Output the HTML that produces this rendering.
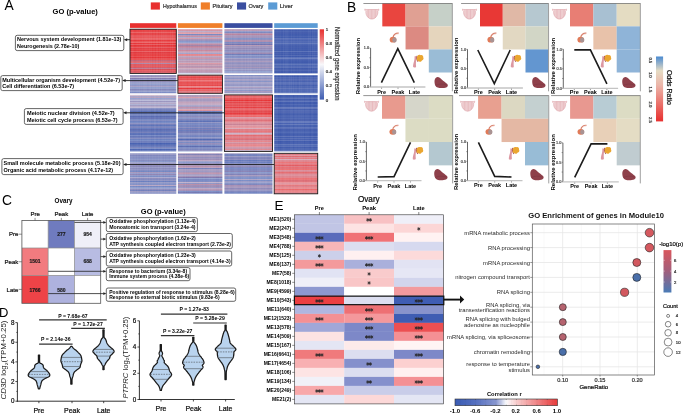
<!DOCTYPE html>
<html><head><meta charset="utf-8"><style>
html,body{margin:0;padding:0;background:#fff;}
body{width:685px;height:413px;overflow:hidden;}
svg{display:block;font-family:"Liberation Sans",sans-serif;will-change:transform;}
</style></head><body>
<svg width="685" height="413" viewBox="0 0 685 413">
<rect width="685" height="413" fill="#fff"/>
<text x="4.60" y="9.90" font-size="13.8" text-anchor="start">A</text>
<text x="52.60" y="13.80" font-size="7.6" text-anchor="start" font-weight="bold" textLength="45.3" lengthAdjust="spacingAndGlyphs">GO (p-value)</text>
<rect x="150.80" y="2.40" width="9.10" height="7.20" fill="#e8302f"/>
<text x="163.00" y="8.40" font-size="5.6" text-anchor="start" stroke="#333" stroke-width="0.22" fill="#333" textLength="33.8" lengthAdjust="spacingAndGlyphs">Hypothalamus</text>
<rect x="200.80" y="2.40" width="9.10" height="7.20" fill="#f07f2a"/>
<text x="212.60" y="8.40" font-size="5.6" text-anchor="start" stroke="#333" stroke-width="0.22" fill="#333" textLength="19.9" lengthAdjust="spacingAndGlyphs">Pituitary</text>
<rect x="237.00" y="2.40" width="9.10" height="7.20" fill="#3a4ea0"/>
<text x="248.60" y="8.40" font-size="5.6" text-anchor="start" stroke="#333" stroke-width="0.22" fill="#333" textLength="14.8" lengthAdjust="spacingAndGlyphs">Ovary</text>
<rect x="268.20" y="2.40" width="9.10" height="7.20" fill="#5b9bd5"/>
<text x="279.80" y="8.40" font-size="5.6" text-anchor="start" stroke="#333" stroke-width="0.22" fill="#333" textLength="12.9" lengthAdjust="spacingAndGlyphs">Liver</text>
<rect x="130.00" y="23.20" width="46.30" height="4.70" fill="#e8302f"/>
<rect x="177.90" y="23.20" width="44.50" height="4.70" fill="#f07f2a"/>
<rect x="224.40" y="23.20" width="48.10" height="4.70" fill="#3a4ea0"/>
<rect x="274.20" y="23.20" width="43.50" height="4.70" fill="#5b9bd5"/>
<defs><linearGradient id="hg1" x1="0" y1="0" x2="0" y2="1"><stop offset="0.0000" stop-color="#e54245"/><stop offset="0.0135" stop-color="#e54245"/><stop offset="0.0135" stop-color="#e7585c"/><stop offset="0.0270" stop-color="#e7585c"/><stop offset="0.0270" stop-color="#e73f41"/><stop offset="0.0405" stop-color="#e73f41"/><stop offset="0.0405" stop-color="#e64245"/><stop offset="0.0541" stop-color="#e64245"/><stop offset="0.0541" stop-color="#e34347"/><stop offset="0.0676" stop-color="#e34347"/><stop offset="0.0676" stop-color="#e96264"/><stop offset="0.0811" stop-color="#e96264"/><stop offset="0.0811" stop-color="#e65357"/><stop offset="0.0946" stop-color="#e65357"/><stop offset="0.0946" stop-color="#e54144"/><stop offset="0.1081" stop-color="#e54144"/><stop offset="0.1081" stop-color="#e64245"/><stop offset="0.1216" stop-color="#e64245"/><stop offset="0.1216" stop-color="#e73d3f"/><stop offset="0.1351" stop-color="#e73d3f"/><stop offset="0.1351" stop-color="#e6565a"/><stop offset="0.1486" stop-color="#e6565a"/><stop offset="0.1486" stop-color="#e54043"/><stop offset="0.1622" stop-color="#e54043"/><stop offset="0.1622" stop-color="#e7595d"/><stop offset="0.1757" stop-color="#e7595d"/><stop offset="0.1757" stop-color="#e95355"/><stop offset="0.1892" stop-color="#e95355"/><stop offset="0.1892" stop-color="#e95f62"/><stop offset="0.2027" stop-color="#e95f62"/><stop offset="0.2027" stop-color="#eb6668"/><stop offset="0.2162" stop-color="#eb6668"/><stop offset="0.2162" stop-color="#e85659"/><stop offset="0.2297" stop-color="#e85659"/><stop offset="0.2297" stop-color="#e96063"/><stop offset="0.2432" stop-color="#e96063"/><stop offset="0.2432" stop-color="#e6383b"/><stop offset="0.2568" stop-color="#e6383b"/><stop offset="0.2568" stop-color="#e64649"/><stop offset="0.2703" stop-color="#e64649"/><stop offset="0.2703" stop-color="#e85153"/><stop offset="0.2838" stop-color="#e85153"/><stop offset="0.2838" stop-color="#e55b60"/><stop offset="0.2973" stop-color="#e55b60"/><stop offset="0.2973" stop-color="#eb6668"/><stop offset="0.3108" stop-color="#eb6668"/><stop offset="0.3108" stop-color="#e53538"/><stop offset="0.3243" stop-color="#e53538"/><stop offset="0.3243" stop-color="#e77579"/><stop offset="0.3378" stop-color="#e77579"/><stop offset="0.3378" stop-color="#e75d61"/><stop offset="0.3514" stop-color="#e75d61"/><stop offset="0.3514" stop-color="#e84345"/><stop offset="0.3649" stop-color="#e84345"/><stop offset="0.3649" stop-color="#e53437"/><stop offset="0.3784" stop-color="#e53437"/><stop offset="0.3784" stop-color="#e63f41"/><stop offset="0.3919" stop-color="#e63f41"/><stop offset="0.3919" stop-color="#e63739"/><stop offset="0.4054" stop-color="#e63739"/><stop offset="0.4054" stop-color="#e55a5f"/><stop offset="0.4189" stop-color="#e55a5f"/><stop offset="0.4189" stop-color="#e55357"/><stop offset="0.4324" stop-color="#e55357"/><stop offset="0.4324" stop-color="#e33c40"/><stop offset="0.4459" stop-color="#e33c40"/><stop offset="0.4459" stop-color="#e64548"/><stop offset="0.4595" stop-color="#e64548"/><stop offset="0.4595" stop-color="#e4373a"/><stop offset="0.4730" stop-color="#e4373a"/><stop offset="0.4730" stop-color="#e43b3e"/><stop offset="0.4865" stop-color="#e43b3e"/><stop offset="0.4865" stop-color="#e53f42"/><stop offset="0.5000" stop-color="#e53f42"/><stop offset="0.5000" stop-color="#e86063"/><stop offset="0.5135" stop-color="#e86063"/><stop offset="0.5135" stop-color="#e74f52"/><stop offset="0.5270" stop-color="#e74f52"/><stop offset="0.5270" stop-color="#e1393e"/><stop offset="0.5405" stop-color="#e1393e"/><stop offset="0.5405" stop-color="#e54347"/><stop offset="0.5541" stop-color="#e54347"/><stop offset="0.5541" stop-color="#e74143"/><stop offset="0.5676" stop-color="#e74143"/><stop offset="0.5676" stop-color="#e64043"/><stop offset="0.5811" stop-color="#e64043"/><stop offset="0.5811" stop-color="#e63f42"/><stop offset="0.5946" stop-color="#e63f42"/><stop offset="0.5946" stop-color="#e73e40"/><stop offset="0.6081" stop-color="#e73e40"/><stop offset="0.6081" stop-color="#e74f51"/><stop offset="0.6216" stop-color="#e74f51"/><stop offset="0.6216" stop-color="#e53b3e"/><stop offset="0.6351" stop-color="#e53b3e"/><stop offset="0.6351" stop-color="#e43437"/><stop offset="0.6486" stop-color="#e43437"/><stop offset="0.6486" stop-color="#e44a4e"/><stop offset="0.6622" stop-color="#e44a4e"/><stop offset="0.6622" stop-color="#e84f52"/><stop offset="0.6757" stop-color="#e84f52"/><stop offset="0.6757" stop-color="#e85153"/><stop offset="0.6892" stop-color="#e85153"/><stop offset="0.6892" stop-color="#e85153"/><stop offset="0.7027" stop-color="#e85153"/><stop offset="0.7027" stop-color="#c56276"/><stop offset="0.7162" stop-color="#c56276"/><stop offset="0.7162" stop-color="#c96375"/><stop offset="0.7297" stop-color="#c96375"/><stop offset="0.7297" stop-color="#d86570"/><stop offset="0.7432" stop-color="#d86570"/><stop offset="0.7432" stop-color="#e4696e"/><stop offset="0.7568" stop-color="#e4696e"/><stop offset="0.7568" stop-color="#d86f7b"/><stop offset="0.7703" stop-color="#d86f7b"/><stop offset="0.7703" stop-color="#ae86a7"/><stop offset="0.7838" stop-color="#ae86a7"/><stop offset="0.7838" stop-color="#de727b"/><stop offset="0.7973" stop-color="#de727b"/><stop offset="0.7973" stop-color="#e0585f"/><stop offset="0.8108" stop-color="#e0585f"/><stop offset="0.8108" stop-color="#dc5b63"/><stop offset="0.8243" stop-color="#dc5b63"/><stop offset="0.8243" stop-color="#e14146"/><stop offset="0.8378" stop-color="#e14146"/><stop offset="0.8378" stop-color="#ea585a"/><stop offset="0.8514" stop-color="#ea585a"/><stop offset="0.8514" stop-color="#d7717d"/><stop offset="0.8649" stop-color="#d7717d"/><stop offset="0.8649" stop-color="#d05a68"/><stop offset="0.8784" stop-color="#d05a68"/><stop offset="0.8784" stop-color="#c07990"/><stop offset="0.8919" stop-color="#c07990"/><stop offset="0.8919" stop-color="#d7909d"/><stop offset="0.9054" stop-color="#d7909d"/><stop offset="0.9054" stop-color="#d74b55"/><stop offset="0.9189" stop-color="#d74b55"/><stop offset="0.9189" stop-color="#da7a85"/><stop offset="0.9324" stop-color="#da7a85"/><stop offset="0.9324" stop-color="#e75e62"/><stop offset="0.9459" stop-color="#e75e62"/><stop offset="0.9459" stop-color="#d95761"/><stop offset="0.9595" stop-color="#d95761"/><stop offset="0.9595" stop-color="#e15359"/><stop offset="0.9730" stop-color="#e15359"/><stop offset="0.9730" stop-color="#de646c"/><stop offset="0.9865" stop-color="#de646c"/><stop offset="0.9865" stop-color="#d67b88"/><stop offset="1.0000" stop-color="#d67b88"/></linearGradient></defs>
<rect x="130.00" y="29.20" width="46.30" height="44.20" fill="url(#hg1)"/>
<defs><linearGradient id="hg2" x1="0" y1="0" x2="0" y2="1"><stop offset="0.0000" stop-color="#d797a5"/><stop offset="0.0135" stop-color="#d797a5"/><stop offset="0.0135" stop-color="#d197a8"/><stop offset="0.0270" stop-color="#d197a8"/><stop offset="0.0270" stop-color="#d193a4"/><stop offset="0.0405" stop-color="#d193a4"/><stop offset="0.0405" stop-color="#bcacc8"/><stop offset="0.0541" stop-color="#bcacc8"/><stop offset="0.0541" stop-color="#c29eb7"/><stop offset="0.0676" stop-color="#c29eb7"/><stop offset="0.0676" stop-color="#d49eae"/><stop offset="0.0811" stop-color="#d49eae"/><stop offset="0.0811" stop-color="#c69eb4"/><stop offset="0.0946" stop-color="#c69eb4"/><stop offset="0.0946" stop-color="#e1a2ab"/><stop offset="0.1081" stop-color="#e1a2ab"/><stop offset="0.1081" stop-color="#7787c1"/><stop offset="0.1216" stop-color="#7787c1"/><stop offset="0.1216" stop-color="#d3a5b6"/><stop offset="0.1351" stop-color="#d3a5b6"/><stop offset="0.1351" stop-color="#b296b6"/><stop offset="0.1486" stop-color="#b296b6"/><stop offset="0.1486" stop-color="#bf8ca4"/><stop offset="0.1622" stop-color="#bf8ca4"/><stop offset="0.1622" stop-color="#c48fa5"/><stop offset="0.1757" stop-color="#c48fa5"/><stop offset="0.1757" stop-color="#aeaacc"/><stop offset="0.1892" stop-color="#aeaacc"/><stop offset="0.1892" stop-color="#a6aad0"/><stop offset="0.2027" stop-color="#a6aad0"/><stop offset="0.2027" stop-color="#d09cae"/><stop offset="0.2162" stop-color="#d09cae"/><stop offset="0.2162" stop-color="#b399b7"/><stop offset="0.2297" stop-color="#b399b7"/><stop offset="0.2297" stop-color="#a792b6"/><stop offset="0.2432" stop-color="#a792b6"/><stop offset="0.2432" stop-color="#9790bc"/><stop offset="0.2568" stop-color="#9790bc"/><stop offset="0.2568" stop-color="#bca5c0"/><stop offset="0.2703" stop-color="#bca5c0"/><stop offset="0.2703" stop-color="#8696ca"/><stop offset="0.2838" stop-color="#8696ca"/><stop offset="0.2838" stop-color="#8e9acb"/><stop offset="0.2973" stop-color="#8e9acb"/><stop offset="0.2973" stop-color="#94a2d0"/><stop offset="0.3108" stop-color="#94a2d0"/><stop offset="0.3108" stop-color="#b89dba"/><stop offset="0.3243" stop-color="#b89dba"/><stop offset="0.3243" stop-color="#d19dae"/><stop offset="0.3378" stop-color="#d19dae"/><stop offset="0.3378" stop-color="#bc8aa4"/><stop offset="0.3514" stop-color="#bc8aa4"/><stop offset="0.3514" stop-color="#cb8a9c"/><stop offset="0.3649" stop-color="#cb8a9c"/><stop offset="0.3649" stop-color="#9e82a9"/><stop offset="0.3784" stop-color="#9e82a9"/><stop offset="0.3784" stop-color="#bc7f98"/><stop offset="0.3919" stop-color="#bc7f98"/><stop offset="0.3919" stop-color="#c7869b"/><stop offset="0.4054" stop-color="#c7869b"/><stop offset="0.4054" stop-color="#c08ca4"/><stop offset="0.4189" stop-color="#c08ca4"/><stop offset="0.4189" stop-color="#c09eb7"/><stop offset="0.4324" stop-color="#c09eb7"/><stop offset="0.4324" stop-color="#b294b4"/><stop offset="0.4459" stop-color="#b294b4"/><stop offset="0.4459" stop-color="#b496b5"/><stop offset="0.4595" stop-color="#b496b5"/><stop offset="0.4595" stop-color="#c7b9d0"/><stop offset="0.4730" stop-color="#c7b9d0"/><stop offset="0.4730" stop-color="#c7879c"/><stop offset="0.4865" stop-color="#c7879c"/><stop offset="0.4865" stop-color="#d29dae"/><stop offset="0.5000" stop-color="#d29dae"/><stop offset="0.5000" stop-color="#c89db2"/><stop offset="0.5135" stop-color="#c89db2"/><stop offset="0.5135" stop-color="#97a2cf"/><stop offset="0.5270" stop-color="#97a2cf"/><stop offset="0.5270" stop-color="#bfa6c0"/><stop offset="0.5405" stop-color="#bfa6c0"/><stop offset="0.5405" stop-color="#a1a2ca"/><stop offset="0.5541" stop-color="#a1a2ca"/><stop offset="0.5541" stop-color="#b897b3"/><stop offset="0.5676" stop-color="#b897b3"/><stop offset="0.5676" stop-color="#e5858c"/><stop offset="0.5811" stop-color="#e5858c"/><stop offset="0.5811" stop-color="#aba4c7"/><stop offset="0.5946" stop-color="#aba4c7"/><stop offset="0.5946" stop-color="#df8a94"/><stop offset="0.6081" stop-color="#df8a94"/><stop offset="0.6081" stop-color="#bda6c1"/><stop offset="0.6216" stop-color="#bda6c1"/><stop offset="0.6216" stop-color="#b391b0"/><stop offset="0.6351" stop-color="#b391b0"/><stop offset="0.6351" stop-color="#bb9ab5"/><stop offset="0.6486" stop-color="#bb9ab5"/><stop offset="0.6486" stop-color="#c695ab"/><stop offset="0.6622" stop-color="#c695ab"/><stop offset="0.6622" stop-color="#c794a9"/><stop offset="0.6757" stop-color="#c794a9"/><stop offset="0.6757" stop-color="#ad9bbd"/><stop offset="0.6892" stop-color="#ad9bbd"/><stop offset="0.6892" stop-color="#c09bb4"/><stop offset="0.7027" stop-color="#c09bb4"/><stop offset="0.7027" stop-color="#bda6c1"/><stop offset="0.7162" stop-color="#bda6c1"/><stop offset="0.7162" stop-color="#d093a4"/><stop offset="0.7297" stop-color="#d093a4"/><stop offset="0.7297" stop-color="#b897b3"/><stop offset="0.7432" stop-color="#b897b3"/><stop offset="0.7432" stop-color="#c3a6be"/><stop offset="0.7568" stop-color="#c3a6be"/><stop offset="0.7568" stop-color="#989bc6"/><stop offset="0.7703" stop-color="#989bc6"/><stop offset="0.7703" stop-color="#d998a5"/><stop offset="0.7838" stop-color="#d998a5"/><stop offset="0.7838" stop-color="#b09ebf"/><stop offset="0.7973" stop-color="#b09ebf"/><stop offset="0.7973" stop-color="#c393aa"/><stop offset="0.8108" stop-color="#c393aa"/><stop offset="0.8108" stop-color="#c8a2b7"/><stop offset="0.8243" stop-color="#c8a2b7"/><stop offset="0.8243" stop-color="#c9899d"/><stop offset="0.8378" stop-color="#c9899d"/><stop offset="0.8378" stop-color="#b593b1"/><stop offset="0.8514" stop-color="#b593b1"/><stop offset="0.8514" stop-color="#d595a4"/><stop offset="0.8649" stop-color="#d595a4"/><stop offset="0.8649" stop-color="#c094ac"/><stop offset="0.8784" stop-color="#c094ac"/><stop offset="0.8784" stop-color="#ceaec1"/><stop offset="0.8919" stop-color="#ceaec1"/><stop offset="0.8919" stop-color="#bc9eb8"/><stop offset="0.9054" stop-color="#bc9eb8"/><stop offset="0.9054" stop-color="#bea4be"/><stop offset="0.9189" stop-color="#bea4be"/><stop offset="0.9189" stop-color="#c795aa"/><stop offset="0.9324" stop-color="#c795aa"/><stop offset="0.9324" stop-color="#bf98b1"/><stop offset="0.9459" stop-color="#bf98b1"/><stop offset="0.9459" stop-color="#bd98b2"/><stop offset="0.9595" stop-color="#bd98b2"/><stop offset="0.9595" stop-color="#c7a0b6"/><stop offset="0.9730" stop-color="#c7a0b6"/><stop offset="0.9730" stop-color="#b9a2be"/><stop offset="0.9865" stop-color="#b9a2be"/><stop offset="0.9865" stop-color="#99a6d1"/><stop offset="1.0000" stop-color="#99a6d1"/></linearGradient></defs>
<rect x="177.90" y="29.20" width="44.50" height="44.20" fill="url(#hg2)"/>
<defs><linearGradient id="hg3" x1="0" y1="0" x2="0" y2="1"><stop offset="0.0000" stop-color="#af92b2"/><stop offset="0.0135" stop-color="#af92b2"/><stop offset="0.0135" stop-color="#9694c0"/><stop offset="0.0270" stop-color="#9694c0"/><stop offset="0.0270" stop-color="#b999b5"/><stop offset="0.0405" stop-color="#b999b5"/><stop offset="0.0405" stop-color="#969cc9"/><stop offset="0.0541" stop-color="#969cc9"/><stop offset="0.0541" stop-color="#9199c9"/><stop offset="0.0676" stop-color="#9199c9"/><stop offset="0.0676" stop-color="#7b88c0"/><stop offset="0.0811" stop-color="#7b88c0"/><stop offset="0.0811" stop-color="#9e98c1"/><stop offset="0.0946" stop-color="#9e98c1"/><stop offset="0.0946" stop-color="#b295b4"/><stop offset="0.1081" stop-color="#b295b4"/><stop offset="0.1081" stop-color="#b7829e"/><stop offset="0.1216" stop-color="#b7829e"/><stop offset="0.1216" stop-color="#948dba"/><stop offset="0.1351" stop-color="#948dba"/><stop offset="0.1351" stop-color="#ab97b9"/><stop offset="0.1486" stop-color="#ab97b9"/><stop offset="0.1486" stop-color="#8d94c5"/><stop offset="0.1622" stop-color="#8d94c5"/><stop offset="0.1622" stop-color="#a494ba"/><stop offset="0.1757" stop-color="#a494ba"/><stop offset="0.1757" stop-color="#9f93bc"/><stop offset="0.1892" stop-color="#9f93bc"/><stop offset="0.1892" stop-color="#a595ba"/><stop offset="0.2027" stop-color="#a595ba"/><stop offset="0.2027" stop-color="#8192c8"/><stop offset="0.2162" stop-color="#8192c8"/><stop offset="0.2162" stop-color="#9093c2"/><stop offset="0.2297" stop-color="#9093c2"/><stop offset="0.2297" stop-color="#8c8fc0"/><stop offset="0.2432" stop-color="#8c8fc0"/><stop offset="0.2432" stop-color="#ae8faf"/><stop offset="0.2568" stop-color="#ae8faf"/><stop offset="0.2568" stop-color="#9892bd"/><stop offset="0.2703" stop-color="#9892bd"/><stop offset="0.2703" stop-color="#ae8cad"/><stop offset="0.2838" stop-color="#ae8cad"/><stop offset="0.2838" stop-color="#878bbe"/><stop offset="0.2973" stop-color="#878bbe"/><stop offset="0.2973" stop-color="#7a89c2"/><stop offset="0.3108" stop-color="#7a89c2"/><stop offset="0.3108" stop-color="#8a8abb"/><stop offset="0.3243" stop-color="#8a8abb"/><stop offset="0.3243" stop-color="#b39cbb"/><stop offset="0.3378" stop-color="#b39cbb"/><stop offset="0.3378" stop-color="#7173b0"/><stop offset="0.3514" stop-color="#7173b0"/><stop offset="0.3514" stop-color="#8e96c6"/><stop offset="0.3649" stop-color="#8e96c6"/><stop offset="0.3649" stop-color="#b599b7"/><stop offset="0.3784" stop-color="#b599b7"/><stop offset="0.3784" stop-color="#9c92bb"/><stop offset="0.3919" stop-color="#9c92bb"/><stop offset="0.3919" stop-color="#7e82b9"/><stop offset="0.4054" stop-color="#7e82b9"/><stop offset="0.4054" stop-color="#9f97bf"/><stop offset="0.4189" stop-color="#9f97bf"/><stop offset="0.4189" stop-color="#a792b7"/><stop offset="0.4324" stop-color="#a792b7"/><stop offset="0.4324" stop-color="#9288b6"/><stop offset="0.4459" stop-color="#9288b6"/><stop offset="0.4459" stop-color="#9a95c0"/><stop offset="0.4595" stop-color="#9a95c0"/><stop offset="0.4595" stop-color="#9ca1cb"/><stop offset="0.4730" stop-color="#9ca1cb"/><stop offset="0.4730" stop-color="#898abc"/><stop offset="0.4865" stop-color="#898abc"/><stop offset="0.4865" stop-color="#a69abf"/><stop offset="0.5000" stop-color="#a69abf"/><stop offset="0.5000" stop-color="#9298c7"/><stop offset="0.5135" stop-color="#9298c7"/><stop offset="0.5135" stop-color="#968ab6"/><stop offset="0.5270" stop-color="#968ab6"/><stop offset="0.5270" stop-color="#9b93bd"/><stop offset="0.5405" stop-color="#9b93bd"/><stop offset="0.5405" stop-color="#9986b0"/><stop offset="0.5541" stop-color="#9986b0"/><stop offset="0.5541" stop-color="#b097b8"/><stop offset="0.5676" stop-color="#b097b8"/><stop offset="0.5676" stop-color="#6e7bb9"/><stop offset="0.5811" stop-color="#6e7bb9"/><stop offset="0.5811" stop-color="#957fab"/><stop offset="0.5946" stop-color="#957fab"/><stop offset="0.5946" stop-color="#8e9dce"/><stop offset="0.6081" stop-color="#8e9dce"/><stop offset="0.6081" stop-color="#848cc0"/><stop offset="0.6216" stop-color="#848cc0"/><stop offset="0.6216" stop-color="#8d92c2"/><stop offset="0.6351" stop-color="#8d92c2"/><stop offset="0.6351" stop-color="#8292c8"/><stop offset="0.6486" stop-color="#8292c8"/><stop offset="0.6486" stop-color="#8887b9"/><stop offset="0.6622" stop-color="#8887b9"/><stop offset="0.6622" stop-color="#a4a1c8"/><stop offset="0.6757" stop-color="#a4a1c8"/><stop offset="0.6757" stop-color="#918cba"/><stop offset="0.6892" stop-color="#918cba"/><stop offset="0.6892" stop-color="#818cc2"/><stop offset="0.7027" stop-color="#818cc2"/><stop offset="0.7027" stop-color="#9894bf"/><stop offset="0.7162" stop-color="#9894bf"/><stop offset="0.7162" stop-color="#a795b9"/><stop offset="0.7297" stop-color="#a795b9"/><stop offset="0.7297" stop-color="#ab9abd"/><stop offset="0.7432" stop-color="#ab9abd"/><stop offset="0.7432" stop-color="#9593c0"/><stop offset="0.7568" stop-color="#9593c0"/><stop offset="0.7568" stop-color="#8c8fc0"/><stop offset="0.7703" stop-color="#8c8fc0"/><stop offset="0.7703" stop-color="#8d8ebe"/><stop offset="0.7838" stop-color="#8d8ebe"/><stop offset="0.7838" stop-color="#8186bc"/><stop offset="0.7973" stop-color="#8186bc"/><stop offset="0.7973" stop-color="#9d98c2"/><stop offset="0.8108" stop-color="#9d98c2"/><stop offset="0.8108" stop-color="#9c94bd"/><stop offset="0.8243" stop-color="#9c94bd"/><stop offset="0.8243" stop-color="#8d92c3"/><stop offset="0.8378" stop-color="#8d92c3"/><stop offset="0.8378" stop-color="#9290be"/><stop offset="0.8514" stop-color="#9290be"/><stop offset="0.8514" stop-color="#9e99c2"/><stop offset="0.8649" stop-color="#9e99c2"/><stop offset="0.8649" stop-color="#a595ba"/><stop offset="0.8784" stop-color="#a595ba"/><stop offset="0.8784" stop-color="#9090bf"/><stop offset="0.8919" stop-color="#9090bf"/><stop offset="0.8919" stop-color="#9892be"/><stop offset="0.9054" stop-color="#9892be"/><stop offset="0.9054" stop-color="#a1a3cb"/><stop offset="0.9189" stop-color="#a1a3cb"/><stop offset="0.9189" stop-color="#a29ec5"/><stop offset="0.9324" stop-color="#a29ec5"/><stop offset="0.9324" stop-color="#9192c1"/><stop offset="0.9459" stop-color="#9192c1"/><stop offset="0.9459" stop-color="#93a2d0"/><stop offset="0.9595" stop-color="#93a2d0"/><stop offset="0.9595" stop-color="#7581bc"/><stop offset="0.9730" stop-color="#7581bc"/><stop offset="0.9730" stop-color="#99a3cf"/><stop offset="0.9865" stop-color="#99a3cf"/><stop offset="0.9865" stop-color="#aea6c8"/><stop offset="1.0000" stop-color="#aea6c8"/></linearGradient></defs>
<rect x="224.40" y="29.20" width="48.10" height="44.20" fill="url(#hg3)"/>
<defs><linearGradient id="hg4" x1="0" y1="0" x2="0" y2="1"><stop offset="0.0000" stop-color="#4a63b1"/><stop offset="0.0135" stop-color="#4a63b1"/><stop offset="0.0135" stop-color="#425cae"/><stop offset="0.0270" stop-color="#425cae"/><stop offset="0.0270" stop-color="#415bad"/><stop offset="0.0405" stop-color="#415bad"/><stop offset="0.0405" stop-color="#4a63b1"/><stop offset="0.0541" stop-color="#4a63b1"/><stop offset="0.0541" stop-color="#3f5aad"/><stop offset="0.0676" stop-color="#3f5aad"/><stop offset="0.0676" stop-color="#445cad"/><stop offset="0.0811" stop-color="#445cad"/><stop offset="0.0811" stop-color="#4861b0"/><stop offset="0.0946" stop-color="#4861b0"/><stop offset="0.0946" stop-color="#425bad"/><stop offset="0.1081" stop-color="#425bad"/><stop offset="0.1081" stop-color="#3f5aad"/><stop offset="0.1216" stop-color="#3f5aad"/><stop offset="0.1216" stop-color="#4962b1"/><stop offset="0.1351" stop-color="#4962b1"/><stop offset="0.1351" stop-color="#405cae"/><stop offset="0.1486" stop-color="#405cae"/><stop offset="0.1486" stop-color="#5269b4"/><stop offset="0.1622" stop-color="#5269b4"/><stop offset="0.1622" stop-color="#4a63b1"/><stop offset="0.1757" stop-color="#4a63b1"/><stop offset="0.1757" stop-color="#3f5bad"/><stop offset="0.1892" stop-color="#3f5bad"/><stop offset="0.1892" stop-color="#4b63b1"/><stop offset="0.2027" stop-color="#4b63b1"/><stop offset="0.2027" stop-color="#5a71b8"/><stop offset="0.2162" stop-color="#5a71b8"/><stop offset="0.2162" stop-color="#3d59ac"/><stop offset="0.2297" stop-color="#3d59ac"/><stop offset="0.2297" stop-color="#536ab5"/><stop offset="0.2432" stop-color="#536ab5"/><stop offset="0.2432" stop-color="#4963b1"/><stop offset="0.2568" stop-color="#4963b1"/><stop offset="0.2568" stop-color="#6d80be"/><stop offset="0.2703" stop-color="#6d80be"/><stop offset="0.2703" stop-color="#526ab4"/><stop offset="0.2838" stop-color="#526ab4"/><stop offset="0.2838" stop-color="#415bac"/><stop offset="0.2973" stop-color="#415bac"/><stop offset="0.2973" stop-color="#4e67b3"/><stop offset="0.3108" stop-color="#4e67b3"/><stop offset="0.3108" stop-color="#6278bb"/><stop offset="0.3243" stop-color="#6278bb"/><stop offset="0.3243" stop-color="#405aad"/><stop offset="0.3378" stop-color="#405aad"/><stop offset="0.3378" stop-color="#4a64b2"/><stop offset="0.3514" stop-color="#4a64b2"/><stop offset="0.3514" stop-color="#415bad"/><stop offset="0.3649" stop-color="#415bad"/><stop offset="0.3649" stop-color="#455eae"/><stop offset="0.3784" stop-color="#455eae"/><stop offset="0.3784" stop-color="#425cad"/><stop offset="0.3919" stop-color="#425cad"/><stop offset="0.3919" stop-color="#455eae"/><stop offset="0.4054" stop-color="#455eae"/><stop offset="0.4054" stop-color="#445dad"/><stop offset="0.4189" stop-color="#445dad"/><stop offset="0.4189" stop-color="#566cb4"/><stop offset="0.4324" stop-color="#566cb4"/><stop offset="0.4324" stop-color="#405bad"/><stop offset="0.4459" stop-color="#405bad"/><stop offset="0.4459" stop-color="#435dad"/><stop offset="0.4595" stop-color="#435dad"/><stop offset="0.4595" stop-color="#4f67b3"/><stop offset="0.4730" stop-color="#4f67b3"/><stop offset="0.4730" stop-color="#3e5aac"/><stop offset="0.4865" stop-color="#3e5aac"/><stop offset="0.4865" stop-color="#566db6"/><stop offset="0.5000" stop-color="#566db6"/><stop offset="0.5000" stop-color="#5a71b8"/><stop offset="0.5135" stop-color="#5a71b8"/><stop offset="0.5135" stop-color="#5b72b8"/><stop offset="0.5270" stop-color="#5b72b8"/><stop offset="0.5270" stop-color="#405aac"/><stop offset="0.5405" stop-color="#405aac"/><stop offset="0.5405" stop-color="#465faf"/><stop offset="0.5541" stop-color="#465faf"/><stop offset="0.5541" stop-color="#445cac"/><stop offset="0.5676" stop-color="#445cac"/><stop offset="0.5676" stop-color="#3e59ac"/><stop offset="0.5811" stop-color="#3e59ac"/><stop offset="0.5811" stop-color="#425bad"/><stop offset="0.5946" stop-color="#425bad"/><stop offset="0.5946" stop-color="#5169b4"/><stop offset="0.6081" stop-color="#5169b4"/><stop offset="0.6081" stop-color="#3c58ac"/><stop offset="0.6216" stop-color="#3c58ac"/><stop offset="0.6216" stop-color="#435dae"/><stop offset="0.6351" stop-color="#435dae"/><stop offset="0.6351" stop-color="#5a71b8"/><stop offset="0.6486" stop-color="#5a71b8"/><stop offset="0.6486" stop-color="#566db6"/><stop offset="0.6622" stop-color="#566db6"/><stop offset="0.6622" stop-color="#697ebe"/><stop offset="0.6757" stop-color="#697ebe"/><stop offset="0.6757" stop-color="#4b64b2"/><stop offset="0.6892" stop-color="#4b64b2"/><stop offset="0.6892" stop-color="#4f66b2"/><stop offset="0.7027" stop-color="#4f66b2"/><stop offset="0.7027" stop-color="#445eaf"/><stop offset="0.7162" stop-color="#445eaf"/><stop offset="0.7162" stop-color="#445eae"/><stop offset="0.7297" stop-color="#445eae"/><stop offset="0.7297" stop-color="#405bad"/><stop offset="0.7432" stop-color="#405bad"/><stop offset="0.7432" stop-color="#3e59ac"/><stop offset="0.7568" stop-color="#3e59ac"/><stop offset="0.7568" stop-color="#3f5bad"/><stop offset="0.7703" stop-color="#3f5bad"/><stop offset="0.7703" stop-color="#4c66b2"/><stop offset="0.7838" stop-color="#4c66b2"/><stop offset="0.7838" stop-color="#445cac"/><stop offset="0.7973" stop-color="#445cac"/><stop offset="0.7973" stop-color="#5e75ba"/><stop offset="0.8108" stop-color="#5e75ba"/><stop offset="0.8108" stop-color="#4963b1"/><stop offset="0.8243" stop-color="#4963b1"/><stop offset="0.8243" stop-color="#3f5bad"/><stop offset="0.8378" stop-color="#3f5bad"/><stop offset="0.8378" stop-color="#526ab5"/><stop offset="0.8514" stop-color="#526ab5"/><stop offset="0.8514" stop-color="#435eaf"/><stop offset="0.8649" stop-color="#435eaf"/><stop offset="0.8649" stop-color="#586fb6"/><stop offset="0.8784" stop-color="#586fb6"/><stop offset="0.8784" stop-color="#3f5aac"/><stop offset="0.8919" stop-color="#3f5aac"/><stop offset="0.8919" stop-color="#455eaf"/><stop offset="0.9054" stop-color="#455eaf"/><stop offset="0.9054" stop-color="#475fae"/><stop offset="0.9189" stop-color="#475fae"/><stop offset="0.9189" stop-color="#435eaf"/><stop offset="0.9324" stop-color="#435eaf"/><stop offset="0.9324" stop-color="#4e66b2"/><stop offset="0.9459" stop-color="#4e66b2"/><stop offset="0.9459" stop-color="#405aac"/><stop offset="0.9595" stop-color="#405aac"/><stop offset="0.9595" stop-color="#425dae"/><stop offset="0.9730" stop-color="#425dae"/><stop offset="0.9730" stop-color="#3f5aad"/><stop offset="0.9865" stop-color="#3f5aad"/><stop offset="0.9865" stop-color="#425cad"/><stop offset="1.0000" stop-color="#425cad"/></linearGradient></defs>
<rect x="274.20" y="29.20" width="43.50" height="44.20" fill="url(#hg4)"/>
<defs><linearGradient id="hg5" x1="0" y1="0" x2="0" y2="1"><stop offset="0.0000" stop-color="#9090bf"/><stop offset="0.0333" stop-color="#9090bf"/><stop offset="0.0333" stop-color="#9c9ac3"/><stop offset="0.0667" stop-color="#9c9ac3"/><stop offset="0.0667" stop-color="#9890bc"/><stop offset="0.1000" stop-color="#9890bc"/><stop offset="0.1000" stop-color="#b9b6d3"/><stop offset="0.1333" stop-color="#b9b6d3"/><stop offset="0.1333" stop-color="#8a90c2"/><stop offset="0.1667" stop-color="#8a90c2"/><stop offset="0.1667" stop-color="#827baf"/><stop offset="0.2000" stop-color="#827baf"/><stop offset="0.2000" stop-color="#9298c6"/><stop offset="0.2333" stop-color="#9298c6"/><stop offset="0.2333" stop-color="#9297c6"/><stop offset="0.2667" stop-color="#9297c6"/><stop offset="0.2667" stop-color="#6e82c0"/><stop offset="0.3000" stop-color="#6e82c0"/><stop offset="0.3000" stop-color="#a6a0c6"/><stop offset="0.3333" stop-color="#a6a0c6"/><stop offset="0.3333" stop-color="#968fbb"/><stop offset="0.3667" stop-color="#968fbb"/><stop offset="0.3667" stop-color="#93a1d0"/><stop offset="0.4000" stop-color="#93a1d0"/><stop offset="0.4000" stop-color="#969ecb"/><stop offset="0.4333" stop-color="#969ecb"/><stop offset="0.4333" stop-color="#9ca0ca"/><stop offset="0.4667" stop-color="#9ca0ca"/><stop offset="0.4667" stop-color="#aba2c5"/><stop offset="0.5000" stop-color="#aba2c5"/><stop offset="0.5000" stop-color="#8f9ece"/><stop offset="0.5333" stop-color="#8f9ece"/><stop offset="0.5333" stop-color="#b1a2c3"/><stop offset="0.5667" stop-color="#b1a2c3"/><stop offset="0.5667" stop-color="#9294c2"/><stop offset="0.6000" stop-color="#9294c2"/><stop offset="0.6000" stop-color="#a7a2c7"/><stop offset="0.6333" stop-color="#a7a2c7"/><stop offset="0.6333" stop-color="#8991c4"/><stop offset="0.6667" stop-color="#8991c4"/><stop offset="0.6667" stop-color="#8d9ccd"/><stop offset="0.7000" stop-color="#8d9ccd"/><stop offset="0.7000" stop-color="#a0a5cd"/><stop offset="0.7333" stop-color="#a0a5cd"/><stop offset="0.7333" stop-color="#95a0cd"/><stop offset="0.7667" stop-color="#95a0cd"/><stop offset="0.7667" stop-color="#8487bb"/><stop offset="0.8000" stop-color="#8487bb"/><stop offset="0.8000" stop-color="#a59bc1"/><stop offset="0.8333" stop-color="#a59bc1"/><stop offset="0.8333" stop-color="#8f95c4"/><stop offset="0.8667" stop-color="#8f95c4"/><stop offset="0.8667" stop-color="#8492c7"/><stop offset="0.9000" stop-color="#8492c7"/><stop offset="0.9000" stop-color="#9aa3ce"/><stop offset="0.9333" stop-color="#9aa3ce"/><stop offset="0.9333" stop-color="#7b8bc4"/><stop offset="0.9667" stop-color="#7b8bc4"/><stop offset="0.9667" stop-color="#9e99c2"/><stop offset="1.0000" stop-color="#9e99c2"/></linearGradient></defs>
<rect x="130.00" y="75.10" width="46.30" height="18.20" fill="url(#hg5)"/>
<defs><linearGradient id="hg6" x1="0" y1="0" x2="0" y2="1"><stop offset="0.0000" stop-color="#e7585b"/><stop offset="0.0333" stop-color="#e7585b"/><stop offset="0.0333" stop-color="#e7676b"/><stop offset="0.0667" stop-color="#e7676b"/><stop offset="0.0667" stop-color="#e85759"/><stop offset="0.1000" stop-color="#e85759"/><stop offset="0.1000" stop-color="#e74245"/><stop offset="0.1333" stop-color="#e74245"/><stop offset="0.1333" stop-color="#e75659"/><stop offset="0.1667" stop-color="#e75659"/><stop offset="0.1667" stop-color="#e6585b"/><stop offset="0.2000" stop-color="#e6585b"/><stop offset="0.2000" stop-color="#e75659"/><stop offset="0.2333" stop-color="#e75659"/><stop offset="0.2333" stop-color="#e74d50"/><stop offset="0.2667" stop-color="#e74d50"/><stop offset="0.2667" stop-color="#ed7779"/><stop offset="0.3000" stop-color="#ed7779"/><stop offset="0.3000" stop-color="#ea5557"/><stop offset="0.3333" stop-color="#ea5557"/><stop offset="0.3333" stop-color="#e76266"/><stop offset="0.3667" stop-color="#e76266"/><stop offset="0.3667" stop-color="#e54c50"/><stop offset="0.4000" stop-color="#e54c50"/><stop offset="0.4000" stop-color="#e84a4c"/><stop offset="0.4333" stop-color="#e84a4c"/><stop offset="0.4333" stop-color="#e64e51"/><stop offset="0.4667" stop-color="#e64e51"/><stop offset="0.4667" stop-color="#e75a5d"/><stop offset="0.5000" stop-color="#e75a5d"/><stop offset="0.5000" stop-color="#e85255"/><stop offset="0.5333" stop-color="#e85255"/><stop offset="0.5333" stop-color="#e85b5e"/><stop offset="0.5667" stop-color="#e85b5e"/><stop offset="0.5667" stop-color="#e74244"/><stop offset="0.6000" stop-color="#e74244"/><stop offset="0.6000" stop-color="#e9878b"/><stop offset="0.6333" stop-color="#e9878b"/><stop offset="0.6333" stop-color="#e74446"/><stop offset="0.6667" stop-color="#e74446"/><stop offset="0.6667" stop-color="#e87579"/><stop offset="0.7000" stop-color="#e87579"/><stop offset="0.7000" stop-color="#e38087"/><stop offset="0.7333" stop-color="#e38087"/><stop offset="0.7333" stop-color="#e63234"/><stop offset="0.7667" stop-color="#e63234"/><stop offset="0.7667" stop-color="#e2666c"/><stop offset="0.8000" stop-color="#e2666c"/><stop offset="0.8000" stop-color="#e75558"/><stop offset="0.8333" stop-color="#e75558"/><stop offset="0.8333" stop-color="#e95d60"/><stop offset="0.8667" stop-color="#e95d60"/><stop offset="0.8667" stop-color="#e7676c"/><stop offset="0.9000" stop-color="#e7676c"/><stop offset="0.9000" stop-color="#e07c84"/><stop offset="0.9333" stop-color="#e07c84"/><stop offset="0.9333" stop-color="#e47980"/><stop offset="0.9667" stop-color="#e47980"/><stop offset="0.9667" stop-color="#e55b5f"/><stop offset="1.0000" stop-color="#e55b5f"/></linearGradient></defs>
<rect x="177.90" y="75.10" width="44.50" height="18.20" fill="url(#hg6)"/>
<defs><linearGradient id="hg7" x1="0" y1="0" x2="0" y2="1"><stop offset="0.0000" stop-color="#7281bd"/><stop offset="0.0333" stop-color="#7281bd"/><stop offset="0.0333" stop-color="#9d9fc9"/><stop offset="0.0667" stop-color="#9d9fc9"/><stop offset="0.0667" stop-color="#a3a5cc"/><stop offset="0.1000" stop-color="#a3a5cc"/><stop offset="0.1000" stop-color="#9f9fc8"/><stop offset="0.1333" stop-color="#9f9fc8"/><stop offset="0.1333" stop-color="#9391bf"/><stop offset="0.1667" stop-color="#9391bf"/><stop offset="0.1667" stop-color="#8a92c5"/><stop offset="0.2000" stop-color="#8a92c5"/><stop offset="0.2000" stop-color="#a895b9"/><stop offset="0.2333" stop-color="#a895b9"/><stop offset="0.2333" stop-color="#a7a0c5"/><stop offset="0.2667" stop-color="#a7a0c5"/><stop offset="0.2667" stop-color="#9e9cc5"/><stop offset="0.3000" stop-color="#9e9cc5"/><stop offset="0.3000" stop-color="#9e98c1"/><stop offset="0.3333" stop-color="#9e98c1"/><stop offset="0.3333" stop-color="#8592c6"/><stop offset="0.3667" stop-color="#8592c6"/><stop offset="0.3667" stop-color="#8690c4"/><stop offset="0.4000" stop-color="#8690c4"/><stop offset="0.4000" stop-color="#a7a2c7"/><stop offset="0.4333" stop-color="#a7a2c7"/><stop offset="0.4333" stop-color="#a1a1c9"/><stop offset="0.4667" stop-color="#a1a1c9"/><stop offset="0.4667" stop-color="#b6a5c3"/><stop offset="0.5000" stop-color="#b6a5c3"/><stop offset="0.5000" stop-color="#9697c4"/><stop offset="0.5333" stop-color="#9697c4"/><stop offset="0.5333" stop-color="#8a88ba"/><stop offset="0.5667" stop-color="#8a88ba"/><stop offset="0.5667" stop-color="#9094c3"/><stop offset="0.6000" stop-color="#9094c3"/><stop offset="0.6000" stop-color="#afafd1"/><stop offset="0.6333" stop-color="#afafd1"/><stop offset="0.6333" stop-color="#8c8bbc"/><stop offset="0.6667" stop-color="#8c8bbc"/><stop offset="0.6667" stop-color="#ac9dc0"/><stop offset="0.7000" stop-color="#ac9dc0"/><stop offset="0.7000" stop-color="#7c8bc3"/><stop offset="0.7333" stop-color="#7c8bc3"/><stop offset="0.7333" stop-color="#999ac5"/><stop offset="0.7667" stop-color="#999ac5"/><stop offset="0.7667" stop-color="#adaccf"/><stop offset="0.8000" stop-color="#adaccf"/><stop offset="0.8000" stop-color="#8f9aca"/><stop offset="0.8333" stop-color="#8f9aca"/><stop offset="0.8333" stop-color="#8b96c8"/><stop offset="0.8667" stop-color="#8b96c8"/><stop offset="0.8667" stop-color="#9a9dc8"/><stop offset="0.9000" stop-color="#9a9dc8"/><stop offset="0.9000" stop-color="#a598be"/><stop offset="0.9333" stop-color="#a598be"/><stop offset="0.9333" stop-color="#999bc6"/><stop offset="0.9667" stop-color="#999bc6"/><stop offset="0.9667" stop-color="#8384b9"/><stop offset="1.0000" stop-color="#8384b9"/></linearGradient></defs>
<rect x="224.40" y="75.10" width="48.10" height="18.20" fill="url(#hg7)"/>
<defs><linearGradient id="hg8" x1="0" y1="0" x2="0" y2="1"><stop offset="0.0000" stop-color="#586fb7"/><stop offset="0.0333" stop-color="#586fb7"/><stop offset="0.0333" stop-color="#6d81c0"/><stop offset="0.0667" stop-color="#6d81c0"/><stop offset="0.0667" stop-color="#3c58ac"/><stop offset="0.1000" stop-color="#3c58ac"/><stop offset="0.1000" stop-color="#5169b5"/><stop offset="0.1333" stop-color="#5169b5"/><stop offset="0.1333" stop-color="#3d59ac"/><stop offset="0.1667" stop-color="#3d59ac"/><stop offset="0.1667" stop-color="#4b64b1"/><stop offset="0.2000" stop-color="#4b64b1"/><stop offset="0.2000" stop-color="#6c7fbe"/><stop offset="0.2333" stop-color="#6c7fbe"/><stop offset="0.2333" stop-color="#556bb5"/><stop offset="0.2667" stop-color="#556bb5"/><stop offset="0.2667" stop-color="#5066b1"/><stop offset="0.3000" stop-color="#5066b1"/><stop offset="0.3000" stop-color="#5168b3"/><stop offset="0.3333" stop-color="#5168b3"/><stop offset="0.3333" stop-color="#455faf"/><stop offset="0.3667" stop-color="#455faf"/><stop offset="0.3667" stop-color="#536cb6"/><stop offset="0.4000" stop-color="#536cb6"/><stop offset="0.4000" stop-color="#5970b8"/><stop offset="0.4333" stop-color="#5970b8"/><stop offset="0.4333" stop-color="#586fb7"/><stop offset="0.4667" stop-color="#586fb7"/><stop offset="0.4667" stop-color="#5d73b9"/><stop offset="0.5000" stop-color="#5d73b9"/><stop offset="0.5000" stop-color="#536ab4"/><stop offset="0.5333" stop-color="#536ab4"/><stop offset="0.5333" stop-color="#445eaf"/><stop offset="0.5667" stop-color="#445eaf"/><stop offset="0.5667" stop-color="#425dae"/><stop offset="0.6000" stop-color="#425dae"/><stop offset="0.6000" stop-color="#5068b3"/><stop offset="0.6333" stop-color="#5068b3"/><stop offset="0.6333" stop-color="#5b72b8"/><stop offset="0.6667" stop-color="#5b72b8"/><stop offset="0.6667" stop-color="#4c65b1"/><stop offset="0.7000" stop-color="#4c65b1"/><stop offset="0.7000" stop-color="#5d73b8"/><stop offset="0.7333" stop-color="#5d73b8"/><stop offset="0.7333" stop-color="#5f74b9"/><stop offset="0.7667" stop-color="#5f74b9"/><stop offset="0.7667" stop-color="#4e67b3"/><stop offset="0.8000" stop-color="#4e67b3"/><stop offset="0.8000" stop-color="#3e59ad"/><stop offset="0.8333" stop-color="#3e59ad"/><stop offset="0.8333" stop-color="#5168b3"/><stop offset="0.8667" stop-color="#5168b3"/><stop offset="0.8667" stop-color="#536bb5"/><stop offset="0.9000" stop-color="#536bb5"/><stop offset="0.9000" stop-color="#4d66b2"/><stop offset="0.9333" stop-color="#4d66b2"/><stop offset="0.9333" stop-color="#6177bb"/><stop offset="0.9667" stop-color="#6177bb"/><stop offset="0.9667" stop-color="#5069b4"/><stop offset="1.0000" stop-color="#5069b4"/></linearGradient></defs>
<rect x="274.20" y="75.10" width="43.50" height="18.20" fill="url(#hg8)"/>
<defs><linearGradient id="hg9" x1="0" y1="0" x2="0" y2="1"><stop offset="0.0000" stop-color="#a49ac0"/><stop offset="0.0106" stop-color="#a49ac0"/><stop offset="0.0106" stop-color="#d1bdcf"/><stop offset="0.0213" stop-color="#d1bdcf"/><stop offset="0.0213" stop-color="#a6a2c8"/><stop offset="0.0319" stop-color="#a6a2c8"/><stop offset="0.0319" stop-color="#afb1d3"/><stop offset="0.0426" stop-color="#afb1d3"/><stop offset="0.0426" stop-color="#b49fbe"/><stop offset="0.0532" stop-color="#b49fbe"/><stop offset="0.0532" stop-color="#94a0ce"/><stop offset="0.0638" stop-color="#94a0ce"/><stop offset="0.0638" stop-color="#aaabcf"/><stop offset="0.0745" stop-color="#aaabcf"/><stop offset="0.0745" stop-color="#a8a6cb"/><stop offset="0.0851" stop-color="#a8a6cb"/><stop offset="0.0851" stop-color="#b9afcc"/><stop offset="0.0957" stop-color="#b9afcc"/><stop offset="0.0957" stop-color="#babbd9"/><stop offset="0.1064" stop-color="#babbd9"/><stop offset="0.1064" stop-color="#9994bf"/><stop offset="0.1170" stop-color="#9994bf"/><stop offset="0.1170" stop-color="#9799c5"/><stop offset="0.1277" stop-color="#9799c5"/><stop offset="0.1277" stop-color="#b6b2d1"/><stop offset="0.1383" stop-color="#b6b2d1"/><stop offset="0.1383" stop-color="#ada2c4"/><stop offset="0.1489" stop-color="#ada2c4"/><stop offset="0.1489" stop-color="#b3a6c6"/><stop offset="0.1596" stop-color="#b3a6c6"/><stop offset="0.1596" stop-color="#acb1d4"/><stop offset="0.1702" stop-color="#acb1d4"/><stop offset="0.1702" stop-color="#b5adcc"/><stop offset="0.1809" stop-color="#b5adcc"/><stop offset="0.1809" stop-color="#9f9ac2"/><stop offset="0.1915" stop-color="#9f9ac2"/><stop offset="0.1915" stop-color="#afa7c8"/><stop offset="0.2021" stop-color="#afa7c8"/><stop offset="0.2021" stop-color="#b4aaca"/><stop offset="0.2128" stop-color="#b4aaca"/><stop offset="0.2128" stop-color="#beb8d3"/><stop offset="0.2234" stop-color="#beb8d3"/><stop offset="0.2234" stop-color="#7e8bc3"/><stop offset="0.2340" stop-color="#7e8bc3"/><stop offset="0.2340" stop-color="#8790c3"/><stop offset="0.2447" stop-color="#8790c3"/><stop offset="0.2447" stop-color="#586db5"/><stop offset="0.2553" stop-color="#586db5"/><stop offset="0.2553" stop-color="#7480bc"/><stop offset="0.2660" stop-color="#7480bc"/><stop offset="0.2660" stop-color="#6f7ebc"/><stop offset="0.2766" stop-color="#6f7ebc"/><stop offset="0.2766" stop-color="#5c73b9"/><stop offset="0.2872" stop-color="#5c73b9"/><stop offset="0.2872" stop-color="#556db6"/><stop offset="0.2979" stop-color="#556db6"/><stop offset="0.2979" stop-color="#5c6bb1"/><stop offset="0.3085" stop-color="#5c6bb1"/><stop offset="0.3085" stop-color="#6875b5"/><stop offset="0.3191" stop-color="#6875b5"/><stop offset="0.3191" stop-color="#5870b8"/><stop offset="0.3298" stop-color="#5870b8"/><stop offset="0.3298" stop-color="#4f63af"/><stop offset="0.3404" stop-color="#4f63af"/><stop offset="0.3404" stop-color="#7887c1"/><stop offset="0.3511" stop-color="#7887c1"/><stop offset="0.3511" stop-color="#556db6"/><stop offset="0.3617" stop-color="#556db6"/><stop offset="0.3617" stop-color="#7283c0"/><stop offset="0.3723" stop-color="#7283c0"/><stop offset="0.3723" stop-color="#5869b1"/><stop offset="0.3830" stop-color="#5869b1"/><stop offset="0.3830" stop-color="#576db5"/><stop offset="0.3936" stop-color="#576db5"/><stop offset="0.3936" stop-color="#6374b7"/><stop offset="0.4043" stop-color="#6374b7"/><stop offset="0.4043" stop-color="#6b80bf"/><stop offset="0.4149" stop-color="#6b80bf"/><stop offset="0.4149" stop-color="#6672b4"/><stop offset="0.4255" stop-color="#6672b4"/><stop offset="0.4255" stop-color="#7488c3"/><stop offset="0.4362" stop-color="#7488c3"/><stop offset="0.4362" stop-color="#808cc2"/><stop offset="0.4468" stop-color="#808cc2"/><stop offset="0.4468" stop-color="#808ac0"/><stop offset="0.4574" stop-color="#808ac0"/><stop offset="0.4574" stop-color="#697aba"/><stop offset="0.4681" stop-color="#697aba"/><stop offset="0.4681" stop-color="#6b7fbf"/><stop offset="0.4787" stop-color="#6b7fbf"/><stop offset="0.4787" stop-color="#7689c4"/><stop offset="0.4894" stop-color="#7689c4"/><stop offset="0.4894" stop-color="#596ab1"/><stop offset="0.5000" stop-color="#596ab1"/><stop offset="0.5000" stop-color="#8c91c2"/><stop offset="0.5106" stop-color="#8c91c2"/><stop offset="0.5106" stop-color="#6578ba"/><stop offset="0.5213" stop-color="#6578ba"/><stop offset="0.5213" stop-color="#717cb9"/><stop offset="0.5319" stop-color="#717cb9"/><stop offset="0.5319" stop-color="#5b72b9"/><stop offset="0.5426" stop-color="#5b72b9"/><stop offset="0.5426" stop-color="#848fc3"/><stop offset="0.5532" stop-color="#848fc3"/><stop offset="0.5532" stop-color="#7682bd"/><stop offset="0.5638" stop-color="#7682bd"/><stop offset="0.5638" stop-color="#7c85bd"/><stop offset="0.5745" stop-color="#7c85bd"/><stop offset="0.5745" stop-color="#7981ba"/><stop offset="0.5851" stop-color="#7981ba"/><stop offset="0.5851" stop-color="#667bbd"/><stop offset="0.5957" stop-color="#667bbd"/><stop offset="0.5957" stop-color="#606eb3"/><stop offset="0.6064" stop-color="#606eb3"/><stop offset="0.6064" stop-color="#5b69af"/><stop offset="0.6170" stop-color="#5b69af"/><stop offset="0.6170" stop-color="#5c72b8"/><stop offset="0.6277" stop-color="#5c72b8"/><stop offset="0.6277" stop-color="#5c70b6"/><stop offset="0.6383" stop-color="#5c70b6"/><stop offset="0.6383" stop-color="#6576b8"/><stop offset="0.6489" stop-color="#6576b8"/><stop offset="0.6489" stop-color="#7180bd"/><stop offset="0.6596" stop-color="#7180bd"/><stop offset="0.6596" stop-color="#737db9"/><stop offset="0.6702" stop-color="#737db9"/><stop offset="0.6702" stop-color="#7e89c1"/><stop offset="0.6809" stop-color="#7e89c1"/><stop offset="0.6809" stop-color="#5a71b8"/><stop offset="0.6915" stop-color="#5a71b8"/><stop offset="0.6915" stop-color="#576db6"/><stop offset="0.7021" stop-color="#576db6"/><stop offset="0.7021" stop-color="#898dc0"/><stop offset="0.7128" stop-color="#898dc0"/><stop offset="0.7128" stop-color="#788bc5"/><stop offset="0.7234" stop-color="#788bc5"/><stop offset="0.7234" stop-color="#8c98ca"/><stop offset="0.7340" stop-color="#8c98ca"/><stop offset="0.7340" stop-color="#6274b7"/><stop offset="0.7447" stop-color="#6274b7"/><stop offset="0.7447" stop-color="#6f7dbb"/><stop offset="0.7553" stop-color="#6f7dbb"/><stop offset="0.7553" stop-color="#7c85bd"/><stop offset="0.7660" stop-color="#7c85bd"/><stop offset="0.7660" stop-color="#828cc1"/><stop offset="0.7766" stop-color="#828cc1"/><stop offset="0.7766" stop-color="#6876b6"/><stop offset="0.7872" stop-color="#6876b6"/><stop offset="0.7872" stop-color="#697ebe"/><stop offset="0.7979" stop-color="#697ebe"/><stop offset="0.7979" stop-color="#788bc5"/><stop offset="0.8085" stop-color="#788bc5"/><stop offset="0.8085" stop-color="#455fb0"/><stop offset="0.8191" stop-color="#455fb0"/><stop offset="0.8191" stop-color="#6b7aba"/><stop offset="0.8298" stop-color="#6b7aba"/><stop offset="0.8298" stop-color="#6576b8"/><stop offset="0.8404" stop-color="#6576b8"/><stop offset="0.8404" stop-color="#6b7cbc"/><stop offset="0.8511" stop-color="#6b7cbc"/><stop offset="0.8511" stop-color="#455fb0"/><stop offset="0.8617" stop-color="#455fb0"/><stop offset="0.8617" stop-color="#6779bb"/><stop offset="0.8723" stop-color="#6779bb"/><stop offset="0.8723" stop-color="#536cb6"/><stop offset="0.8830" stop-color="#536cb6"/><stop offset="0.8830" stop-color="#6d81c0"/><stop offset="0.8936" stop-color="#6d81c0"/><stop offset="0.8936" stop-color="#5f70b5"/><stop offset="0.9043" stop-color="#5f70b5"/><stop offset="0.9043" stop-color="#667bbd"/><stop offset="0.9149" stop-color="#667bbd"/><stop offset="0.9149" stop-color="#4e67b3"/><stop offset="0.9255" stop-color="#4e67b3"/><stop offset="0.9255" stop-color="#7a83bb"/><stop offset="0.9362" stop-color="#7a83bb"/><stop offset="0.9362" stop-color="#6778b9"/><stop offset="0.9468" stop-color="#6778b9"/><stop offset="0.9468" stop-color="#7c8ec6"/><stop offset="0.9574" stop-color="#7c8ec6"/><stop offset="0.9574" stop-color="#4a63b1"/><stop offset="0.9681" stop-color="#4a63b1"/><stop offset="0.9681" stop-color="#7686c1"/><stop offset="0.9787" stop-color="#7686c1"/><stop offset="0.9787" stop-color="#687dbe"/><stop offset="0.9894" stop-color="#687dbe"/><stop offset="0.9894" stop-color="#566db6"/><stop offset="1.0000" stop-color="#566db6"/></linearGradient></defs>
<rect x="130.00" y="94.90" width="46.30" height="56.50" fill="url(#hg9)"/>
<defs><linearGradient id="hg10" x1="0" y1="0" x2="0" y2="1"><stop offset="0.0000" stop-color="#958ab6"/><stop offset="0.0106" stop-color="#958ab6"/><stop offset="0.0106" stop-color="#af9bbc"/><stop offset="0.0213" stop-color="#af9bbc"/><stop offset="0.0213" stop-color="#b39ab9"/><stop offset="0.0319" stop-color="#b39ab9"/><stop offset="0.0319" stop-color="#c6a1b7"/><stop offset="0.0426" stop-color="#c6a1b7"/><stop offset="0.0426" stop-color="#d69cab"/><stop offset="0.0532" stop-color="#d69cab"/><stop offset="0.0532" stop-color="#b5a2c0"/><stop offset="0.0638" stop-color="#b5a2c0"/><stop offset="0.0638" stop-color="#cea6b9"/><stop offset="0.0745" stop-color="#cea6b9"/><stop offset="0.0745" stop-color="#a69abf"/><stop offset="0.0851" stop-color="#a69abf"/><stop offset="0.0851" stop-color="#c69eb4"/><stop offset="0.0957" stop-color="#c69eb4"/><stop offset="0.0957" stop-color="#a399bf"/><stop offset="0.1064" stop-color="#a399bf"/><stop offset="0.1064" stop-color="#b4a0bf"/><stop offset="0.1170" stop-color="#b4a0bf"/><stop offset="0.1170" stop-color="#ac9fc1"/><stop offset="0.1277" stop-color="#ac9fc1"/><stop offset="0.1277" stop-color="#c1a1ba"/><stop offset="0.1383" stop-color="#c1a1ba"/><stop offset="0.1383" stop-color="#969ecb"/><stop offset="0.1489" stop-color="#969ecb"/><stop offset="0.1489" stop-color="#c3a7bf"/><stop offset="0.1596" stop-color="#c3a7bf"/><stop offset="0.1596" stop-color="#c3abc4"/><stop offset="0.1702" stop-color="#c3abc4"/><stop offset="0.1702" stop-color="#a890b4"/><stop offset="0.1809" stop-color="#a890b4"/><stop offset="0.1809" stop-color="#aba8cb"/><stop offset="0.1915" stop-color="#aba8cb"/><stop offset="0.1915" stop-color="#c7a1b7"/><stop offset="0.2021" stop-color="#c7a1b7"/><stop offset="0.2021" stop-color="#a79bc0"/><stop offset="0.2128" stop-color="#a79bc0"/><stop offset="0.2128" stop-color="#bc91ac"/><stop offset="0.2234" stop-color="#bc91ac"/><stop offset="0.2234" stop-color="#ab9fc2"/><stop offset="0.2340" stop-color="#ab9fc2"/><stop offset="0.2340" stop-color="#b49dbc"/><stop offset="0.2447" stop-color="#b49dbc"/><stop offset="0.2447" stop-color="#b8a3c0"/><stop offset="0.2553" stop-color="#b8a3c0"/><stop offset="0.2553" stop-color="#dba5b1"/><stop offset="0.2660" stop-color="#dba5b1"/><stop offset="0.2660" stop-color="#d78e9b"/><stop offset="0.2766" stop-color="#d78e9b"/><stop offset="0.2766" stop-color="#7a84bd"/><stop offset="0.2872" stop-color="#7a84bd"/><stop offset="0.2872" stop-color="#6c7ebc"/><stop offset="0.2979" stop-color="#6c7ebc"/><stop offset="0.2979" stop-color="#8281b6"/><stop offset="0.3085" stop-color="#8281b6"/><stop offset="0.3085" stop-color="#6b7fbf"/><stop offset="0.3191" stop-color="#6b7fbf"/><stop offset="0.3191" stop-color="#5169b4"/><stop offset="0.3298" stop-color="#5169b4"/><stop offset="0.3298" stop-color="#a2a4cb"/><stop offset="0.3404" stop-color="#a2a4cb"/><stop offset="0.3404" stop-color="#8f97c7"/><stop offset="0.3511" stop-color="#8f97c7"/><stop offset="0.3511" stop-color="#7782bc"/><stop offset="0.3617" stop-color="#7782bc"/><stop offset="0.3617" stop-color="#8591c5"/><stop offset="0.3723" stop-color="#8591c5"/><stop offset="0.3723" stop-color="#8989bb"/><stop offset="0.3830" stop-color="#8989bb"/><stop offset="0.3830" stop-color="#6073b8"/><stop offset="0.3936" stop-color="#6073b8"/><stop offset="0.3936" stop-color="#9295c3"/><stop offset="0.4043" stop-color="#9295c3"/><stop offset="0.4043" stop-color="#6a7cbc"/><stop offset="0.4149" stop-color="#6a7cbc"/><stop offset="0.4149" stop-color="#8794c8"/><stop offset="0.4255" stop-color="#8794c8"/><stop offset="0.4255" stop-color="#7f81b8"/><stop offset="0.4362" stop-color="#7f81b8"/><stop offset="0.4362" stop-color="#878fc3"/><stop offset="0.4468" stop-color="#878fc3"/><stop offset="0.4468" stop-color="#6e7fbd"/><stop offset="0.4574" stop-color="#6e7fbd"/><stop offset="0.4574" stop-color="#8080b5"/><stop offset="0.4681" stop-color="#8080b5"/><stop offset="0.4681" stop-color="#5b6fb5"/><stop offset="0.4787" stop-color="#5b6fb5"/><stop offset="0.4787" stop-color="#9095c4"/><stop offset="0.4894" stop-color="#9095c4"/><stop offset="0.4894" stop-color="#7688c4"/><stop offset="0.5000" stop-color="#7688c4"/><stop offset="0.5000" stop-color="#7685c0"/><stop offset="0.5106" stop-color="#7685c0"/><stop offset="0.5106" stop-color="#7f90c7"/><stop offset="0.5213" stop-color="#7f90c7"/><stop offset="0.5213" stop-color="#798bc5"/><stop offset="0.5319" stop-color="#798bc5"/><stop offset="0.5319" stop-color="#7882bc"/><stop offset="0.5426" stop-color="#7882bc"/><stop offset="0.5426" stop-color="#6473b6"/><stop offset="0.5532" stop-color="#6473b6"/><stop offset="0.5532" stop-color="#7183c0"/><stop offset="0.5638" stop-color="#7183c0"/><stop offset="0.5638" stop-color="#7682bd"/><stop offset="0.5745" stop-color="#7682bd"/><stop offset="0.5745" stop-color="#888bbe"/><stop offset="0.5851" stop-color="#888bbe"/><stop offset="0.5851" stop-color="#6c7cbb"/><stop offset="0.5957" stop-color="#6c7cbb"/><stop offset="0.5957" stop-color="#7685c0"/><stop offset="0.6064" stop-color="#7685c0"/><stop offset="0.6064" stop-color="#7b7cb4"/><stop offset="0.6170" stop-color="#7b7cb4"/><stop offset="0.6170" stop-color="#8886b8"/><stop offset="0.6277" stop-color="#8886b8"/><stop offset="0.6277" stop-color="#677abb"/><stop offset="0.6383" stop-color="#677abb"/><stop offset="0.6383" stop-color="#717ab7"/><stop offset="0.6489" stop-color="#717ab7"/><stop offset="0.6489" stop-color="#858dc1"/><stop offset="0.6596" stop-color="#858dc1"/><stop offset="0.6596" stop-color="#757bb5"/><stop offset="0.6702" stop-color="#757bb5"/><stop offset="0.6702" stop-color="#8c91c2"/><stop offset="0.6809" stop-color="#8c91c2"/><stop offset="0.6809" stop-color="#8a91c3"/><stop offset="0.6915" stop-color="#8a91c3"/><stop offset="0.6915" stop-color="#878fc2"/><stop offset="0.7021" stop-color="#878fc2"/><stop offset="0.7021" stop-color="#727ebb"/><stop offset="0.7128" stop-color="#727ebb"/><stop offset="0.7128" stop-color="#7785c0"/><stop offset="0.7234" stop-color="#7785c0"/><stop offset="0.7234" stop-color="#9a8eb8"/><stop offset="0.7340" stop-color="#9a8eb8"/><stop offset="0.7340" stop-color="#7082bf"/><stop offset="0.7447" stop-color="#7082bf"/><stop offset="0.7447" stop-color="#939bc9"/><stop offset="0.7553" stop-color="#939bc9"/><stop offset="0.7553" stop-color="#5568b1"/><stop offset="0.7660" stop-color="#5568b1"/><stop offset="0.7660" stop-color="#7e88bf"/><stop offset="0.7766" stop-color="#7e88bf"/><stop offset="0.7766" stop-color="#8288bd"/><stop offset="0.7872" stop-color="#8288bd"/><stop offset="0.7872" stop-color="#4e67b3"/><stop offset="0.7979" stop-color="#4e67b3"/><stop offset="0.7979" stop-color="#7d84bb"/><stop offset="0.8085" stop-color="#7d84bb"/><stop offset="0.8085" stop-color="#909ccc"/><stop offset="0.8191" stop-color="#909ccc"/><stop offset="0.8191" stop-color="#9995c1"/><stop offset="0.8298" stop-color="#9995c1"/><stop offset="0.8298" stop-color="#6a7fbf"/><stop offset="0.8404" stop-color="#6a7fbf"/><stop offset="0.8404" stop-color="#7788c2"/><stop offset="0.8511" stop-color="#7788c2"/><stop offset="0.8511" stop-color="#938cba"/><stop offset="0.8617" stop-color="#938cba"/><stop offset="0.8617" stop-color="#8a91c3"/><stop offset="0.8723" stop-color="#8a91c3"/><stop offset="0.8723" stop-color="#8b8dbe"/><stop offset="0.8830" stop-color="#8b8dbe"/><stop offset="0.8830" stop-color="#6473b6"/><stop offset="0.8936" stop-color="#6473b6"/><stop offset="0.8936" stop-color="#798cc5"/><stop offset="0.9043" stop-color="#798cc5"/><stop offset="0.9043" stop-color="#5c6bb0"/><stop offset="0.9149" stop-color="#5c6bb0"/><stop offset="0.9149" stop-color="#6475b8"/><stop offset="0.9255" stop-color="#6475b8"/><stop offset="0.9255" stop-color="#7c8cc4"/><stop offset="0.9362" stop-color="#7c8cc4"/><stop offset="0.9362" stop-color="#737eba"/><stop offset="0.9468" stop-color="#737eba"/><stop offset="0.9468" stop-color="#848dc1"/><stop offset="0.9574" stop-color="#848dc1"/><stop offset="0.9574" stop-color="#7985be"/><stop offset="0.9681" stop-color="#7985be"/><stop offset="0.9681" stop-color="#7e8ac2"/><stop offset="0.9787" stop-color="#7e8ac2"/><stop offset="0.9787" stop-color="#9193c1"/><stop offset="0.9894" stop-color="#9193c1"/><stop offset="0.9894" stop-color="#7e90c7"/><stop offset="1.0000" stop-color="#7e90c7"/></linearGradient></defs>
<rect x="177.90" y="94.90" width="44.50" height="56.50" fill="url(#hg10)"/>
<defs><linearGradient id="hg11" x1="0" y1="0" x2="0" y2="1"><stop offset="0.0000" stop-color="#e73d3f"/><stop offset="0.0106" stop-color="#e73d3f"/><stop offset="0.0106" stop-color="#e6666b"/><stop offset="0.0213" stop-color="#e6666b"/><stop offset="0.0213" stop-color="#e96467"/><stop offset="0.0319" stop-color="#e96467"/><stop offset="0.0319" stop-color="#e6565a"/><stop offset="0.0426" stop-color="#e6565a"/><stop offset="0.0426" stop-color="#e96a6d"/><stop offset="0.0532" stop-color="#e96a6d"/><stop offset="0.0532" stop-color="#e95355"/><stop offset="0.0638" stop-color="#e95355"/><stop offset="0.0638" stop-color="#e74a4d"/><stop offset="0.0745" stop-color="#e74a4d"/><stop offset="0.0745" stop-color="#e65054"/><stop offset="0.0851" stop-color="#e65054"/><stop offset="0.0851" stop-color="#e43d41"/><stop offset="0.0957" stop-color="#e43d41"/><stop offset="0.0957" stop-color="#e63234"/><stop offset="0.1064" stop-color="#e63234"/><stop offset="0.1064" stop-color="#e75f63"/><stop offset="0.1170" stop-color="#e75f63"/><stop offset="0.1170" stop-color="#e75659"/><stop offset="0.1277" stop-color="#e75659"/><stop offset="0.1277" stop-color="#e44246"/><stop offset="0.1383" stop-color="#e44246"/><stop offset="0.1383" stop-color="#e64c4f"/><stop offset="0.1489" stop-color="#e64c4f"/><stop offset="0.1489" stop-color="#e8585b"/><stop offset="0.1596" stop-color="#e8585b"/><stop offset="0.1596" stop-color="#e5565a"/><stop offset="0.1702" stop-color="#e5565a"/><stop offset="0.1702" stop-color="#e96265"/><stop offset="0.1809" stop-color="#e96265"/><stop offset="0.1809" stop-color="#e54c4f"/><stop offset="0.1915" stop-color="#e54c4f"/><stop offset="0.1915" stop-color="#e64648"/><stop offset="0.2021" stop-color="#e64648"/><stop offset="0.2021" stop-color="#e75e62"/><stop offset="0.2128" stop-color="#e75e62"/><stop offset="0.2128" stop-color="#e63b3e"/><stop offset="0.2234" stop-color="#e63b3e"/><stop offset="0.2234" stop-color="#e55256"/><stop offset="0.2340" stop-color="#e55256"/><stop offset="0.2340" stop-color="#e66368"/><stop offset="0.2447" stop-color="#e66368"/><stop offset="0.2447" stop-color="#ea6669"/><stop offset="0.2553" stop-color="#ea6669"/><stop offset="0.2553" stop-color="#ea676a"/><stop offset="0.2660" stop-color="#ea676a"/><stop offset="0.2660" stop-color="#e75659"/><stop offset="0.2766" stop-color="#e75659"/><stop offset="0.2766" stop-color="#e75b5e"/><stop offset="0.2872" stop-color="#e75b5e"/><stop offset="0.2872" stop-color="#e2474c"/><stop offset="0.2979" stop-color="#e2474c"/><stop offset="0.2979" stop-color="#e7575a"/><stop offset="0.3085" stop-color="#e7575a"/><stop offset="0.3085" stop-color="#e44f53"/><stop offset="0.3191" stop-color="#e44f53"/><stop offset="0.3191" stop-color="#e5383b"/><stop offset="0.3298" stop-color="#e5383b"/><stop offset="0.3298" stop-color="#e96366"/><stop offset="0.3404" stop-color="#e96366"/><stop offset="0.3404" stop-color="#e95154"/><stop offset="0.3511" stop-color="#e95154"/><stop offset="0.3511" stop-color="#e64346"/><stop offset="0.3617" stop-color="#e64346"/><stop offset="0.3617" stop-color="#eb7072"/><stop offset="0.3723" stop-color="#eb7072"/><stop offset="0.3723" stop-color="#eb6567"/><stop offset="0.3830" stop-color="#eb6567"/><stop offset="0.3830" stop-color="#e65f64"/><stop offset="0.3936" stop-color="#e65f64"/><stop offset="0.3936" stop-color="#db9ba7"/><stop offset="0.4043" stop-color="#db9ba7"/><stop offset="0.4043" stop-color="#e1949d"/><stop offset="0.4149" stop-color="#e1949d"/><stop offset="0.4149" stop-color="#de8f99"/><stop offset="0.4255" stop-color="#de8f99"/><stop offset="0.4255" stop-color="#de7e87"/><stop offset="0.4362" stop-color="#de7e87"/><stop offset="0.4362" stop-color="#d98894"/><stop offset="0.4468" stop-color="#d98894"/><stop offset="0.4468" stop-color="#de6c75"/><stop offset="0.4574" stop-color="#de6c75"/><stop offset="0.4574" stop-color="#d694a2"/><stop offset="0.4681" stop-color="#d694a2"/><stop offset="0.4681" stop-color="#e4858c"/><stop offset="0.4787" stop-color="#e4858c"/><stop offset="0.4787" stop-color="#de939e"/><stop offset="0.4894" stop-color="#de939e"/><stop offset="0.4894" stop-color="#d88693"/><stop offset="0.5000" stop-color="#d88693"/><stop offset="0.5000" stop-color="#d8909c"/><stop offset="0.5106" stop-color="#d8909c"/><stop offset="0.5106" stop-color="#de717a"/><stop offset="0.5213" stop-color="#de717a"/><stop offset="0.5213" stop-color="#c88094"/><stop offset="0.5319" stop-color="#c88094"/><stop offset="0.5319" stop-color="#de9ba6"/><stop offset="0.5426" stop-color="#de9ba6"/><stop offset="0.5426" stop-color="#e6b6be"/><stop offset="0.5532" stop-color="#e6b6be"/><stop offset="0.5532" stop-color="#de919b"/><stop offset="0.5638" stop-color="#de919b"/><stop offset="0.5638" stop-color="#e89ba0"/><stop offset="0.5745" stop-color="#e89ba0"/><stop offset="0.5745" stop-color="#e6969d"/><stop offset="0.5851" stop-color="#e6969d"/><stop offset="0.5851" stop-color="#d8acba"/><stop offset="0.5957" stop-color="#d8acba"/><stop offset="0.5957" stop-color="#e7696d"/><stop offset="0.6064" stop-color="#e7696d"/><stop offset="0.6064" stop-color="#de7c85"/><stop offset="0.6170" stop-color="#de7c85"/><stop offset="0.6170" stop-color="#d28c9b"/><stop offset="0.6277" stop-color="#d28c9b"/><stop offset="0.6277" stop-color="#de7d86"/><stop offset="0.6383" stop-color="#de7d86"/><stop offset="0.6383" stop-color="#e87276"/><stop offset="0.6489" stop-color="#e87276"/><stop offset="0.6489" stop-color="#ca8396"/><stop offset="0.6596" stop-color="#ca8396"/><stop offset="0.6596" stop-color="#da8692"/><stop offset="0.6702" stop-color="#da8692"/><stop offset="0.6702" stop-color="#d494a4"/><stop offset="0.6809" stop-color="#d494a4"/><stop offset="0.6809" stop-color="#ccb2c6"/><stop offset="0.6915" stop-color="#ccb2c6"/><stop offset="0.6915" stop-color="#da9ca9"/><stop offset="0.7021" stop-color="#da9ca9"/><stop offset="0.7021" stop-color="#dd7d86"/><stop offset="0.7128" stop-color="#dd7d86"/><stop offset="0.7128" stop-color="#e4686e"/><stop offset="0.7234" stop-color="#e4686e"/><stop offset="0.7234" stop-color="#e17880"/><stop offset="0.7340" stop-color="#e17880"/><stop offset="0.7340" stop-color="#e17c84"/><stop offset="0.7447" stop-color="#e17c84"/><stop offset="0.7447" stop-color="#dc7f89"/><stop offset="0.7553" stop-color="#dc7f89"/><stop offset="0.7553" stop-color="#e47d84"/><stop offset="0.7660" stop-color="#e47d84"/><stop offset="0.7660" stop-color="#e37278"/><stop offset="0.7766" stop-color="#e37278"/><stop offset="0.7766" stop-color="#d2a4b5"/><stop offset="0.7872" stop-color="#d2a4b5"/><stop offset="0.7872" stop-color="#d66d7a"/><stop offset="0.7979" stop-color="#d66d7a"/><stop offset="0.7979" stop-color="#da8a96"/><stop offset="0.8085" stop-color="#da8a96"/><stop offset="0.8085" stop-color="#dc8c97"/><stop offset="0.8191" stop-color="#dc8c97"/><stop offset="0.8191" stop-color="#e68389"/><stop offset="0.8298" stop-color="#e68389"/><stop offset="0.8298" stop-color="#e27b82"/><stop offset="0.8404" stop-color="#e27b82"/><stop offset="0.8404" stop-color="#d79ba9"/><stop offset="0.8511" stop-color="#d79ba9"/><stop offset="0.8511" stop-color="#d48694"/><stop offset="0.8617" stop-color="#d48694"/><stop offset="0.8617" stop-color="#e46a6f"/><stop offset="0.8723" stop-color="#e46a6f"/><stop offset="0.8723" stop-color="#e58990"/><stop offset="0.8830" stop-color="#e58990"/><stop offset="0.8830" stop-color="#e3969e"/><stop offset="0.8936" stop-color="#e3969e"/><stop offset="0.8936" stop-color="#e78489"/><stop offset="0.9043" stop-color="#e78489"/><stop offset="0.9043" stop-color="#e0949e"/><stop offset="0.9149" stop-color="#e0949e"/><stop offset="0.9149" stop-color="#cb8a9d"/><stop offset="0.9255" stop-color="#cb8a9d"/><stop offset="0.9255" stop-color="#cc98ac"/><stop offset="0.9362" stop-color="#cc98ac"/><stop offset="0.9362" stop-color="#de9ca7"/><stop offset="0.9468" stop-color="#de9ca7"/><stop offset="0.9468" stop-color="#c993a7"/><stop offset="0.9574" stop-color="#c993a7"/><stop offset="0.9574" stop-color="#df868f"/><stop offset="0.9681" stop-color="#df868f"/><stop offset="0.9681" stop-color="#d38493"/><stop offset="0.9787" stop-color="#d38493"/><stop offset="0.9787" stop-color="#c5b2ca"/><stop offset="0.9894" stop-color="#c5b2ca"/><stop offset="0.9894" stop-color="#ca8496"/><stop offset="1.0000" stop-color="#ca8496"/></linearGradient></defs>
<rect x="224.40" y="94.90" width="48.10" height="56.50" fill="url(#hg11)"/>
<defs><linearGradient id="hg12" x1="0" y1="0" x2="0" y2="1"><stop offset="0.0000" stop-color="#3d59ac"/><stop offset="0.0106" stop-color="#3d59ac"/><stop offset="0.0106" stop-color="#415bad"/><stop offset="0.0213" stop-color="#415bad"/><stop offset="0.0213" stop-color="#3c58ac"/><stop offset="0.0319" stop-color="#3c58ac"/><stop offset="0.0319" stop-color="#425cad"/><stop offset="0.0426" stop-color="#425cad"/><stop offset="0.0426" stop-color="#4963b1"/><stop offset="0.0532" stop-color="#4963b1"/><stop offset="0.0532" stop-color="#596fb6"/><stop offset="0.0638" stop-color="#596fb6"/><stop offset="0.0638" stop-color="#516ab4"/><stop offset="0.0745" stop-color="#516ab4"/><stop offset="0.0745" stop-color="#3e59ac"/><stop offset="0.0851" stop-color="#3e59ac"/><stop offset="0.0851" stop-color="#425cad"/><stop offset="0.0957" stop-color="#425cad"/><stop offset="0.0957" stop-color="#4b63b0"/><stop offset="0.1064" stop-color="#4b63b0"/><stop offset="0.1064" stop-color="#5b72b9"/><stop offset="0.1170" stop-color="#5b72b9"/><stop offset="0.1170" stop-color="#3d59ac"/><stop offset="0.1277" stop-color="#3d59ac"/><stop offset="0.1277" stop-color="#3e59ad"/><stop offset="0.1383" stop-color="#3e59ad"/><stop offset="0.1383" stop-color="#546cb6"/><stop offset="0.1489" stop-color="#546cb6"/><stop offset="0.1489" stop-color="#3c58ac"/><stop offset="0.1596" stop-color="#3c58ac"/><stop offset="0.1596" stop-color="#4c66b3"/><stop offset="0.1702" stop-color="#4c66b3"/><stop offset="0.1702" stop-color="#3c58ac"/><stop offset="0.1809" stop-color="#3c58ac"/><stop offset="0.1809" stop-color="#405bae"/><stop offset="0.1915" stop-color="#405bae"/><stop offset="0.1915" stop-color="#526ab5"/><stop offset="0.2021" stop-color="#526ab5"/><stop offset="0.2021" stop-color="#425dae"/><stop offset="0.2128" stop-color="#425dae"/><stop offset="0.2128" stop-color="#6478bb"/><stop offset="0.2234" stop-color="#6478bb"/><stop offset="0.2234" stop-color="#4660b0"/><stop offset="0.2340" stop-color="#4660b0"/><stop offset="0.2340" stop-color="#5f74b9"/><stop offset="0.2447" stop-color="#5f74b9"/><stop offset="0.2447" stop-color="#3c58ac"/><stop offset="0.2553" stop-color="#3c58ac"/><stop offset="0.2553" stop-color="#415bad"/><stop offset="0.2660" stop-color="#415bad"/><stop offset="0.2660" stop-color="#5068b3"/><stop offset="0.2766" stop-color="#5068b3"/><stop offset="0.2766" stop-color="#3c58ac"/><stop offset="0.2872" stop-color="#3c58ac"/><stop offset="0.2872" stop-color="#4d64b1"/><stop offset="0.2979" stop-color="#4d64b1"/><stop offset="0.2979" stop-color="#3c58ac"/><stop offset="0.3085" stop-color="#3c58ac"/><stop offset="0.3085" stop-color="#4d64b0"/><stop offset="0.3191" stop-color="#4d64b0"/><stop offset="0.3191" stop-color="#455faf"/><stop offset="0.3298" stop-color="#455faf"/><stop offset="0.3298" stop-color="#4560b0"/><stop offset="0.3404" stop-color="#4560b0"/><stop offset="0.3404" stop-color="#3f5aac"/><stop offset="0.3511" stop-color="#3f5aac"/><stop offset="0.3511" stop-color="#3e59ad"/><stop offset="0.3617" stop-color="#3e59ad"/><stop offset="0.3617" stop-color="#4962b0"/><stop offset="0.3723" stop-color="#4962b0"/><stop offset="0.3723" stop-color="#4b64b2"/><stop offset="0.3830" stop-color="#4b64b2"/><stop offset="0.3830" stop-color="#3c58ac"/><stop offset="0.3936" stop-color="#3c58ac"/><stop offset="0.3936" stop-color="#455faf"/><stop offset="0.4043" stop-color="#455faf"/><stop offset="0.4043" stop-color="#455faf"/><stop offset="0.4149" stop-color="#455faf"/><stop offset="0.4149" stop-color="#4e67b3"/><stop offset="0.4255" stop-color="#4e67b3"/><stop offset="0.4255" stop-color="#465ead"/><stop offset="0.4362" stop-color="#465ead"/><stop offset="0.4362" stop-color="#4a64b2"/><stop offset="0.4468" stop-color="#4a64b2"/><stop offset="0.4468" stop-color="#475fae"/><stop offset="0.4574" stop-color="#475fae"/><stop offset="0.4574" stop-color="#4b65b2"/><stop offset="0.4681" stop-color="#4b65b2"/><stop offset="0.4681" stop-color="#6277bb"/><stop offset="0.4787" stop-color="#6277bb"/><stop offset="0.4787" stop-color="#6278bc"/><stop offset="0.4894" stop-color="#6278bc"/><stop offset="0.4894" stop-color="#415cad"/><stop offset="0.5000" stop-color="#415cad"/><stop offset="0.5000" stop-color="#455fb0"/><stop offset="0.5106" stop-color="#455fb0"/><stop offset="0.5106" stop-color="#455faf"/><stop offset="0.5213" stop-color="#455faf"/><stop offset="0.5213" stop-color="#6177bb"/><stop offset="0.5319" stop-color="#6177bb"/><stop offset="0.5319" stop-color="#445faf"/><stop offset="0.5426" stop-color="#445faf"/><stop offset="0.5426" stop-color="#5168b3"/><stop offset="0.5532" stop-color="#5168b3"/><stop offset="0.5532" stop-color="#435dae"/><stop offset="0.5638" stop-color="#435dae"/><stop offset="0.5638" stop-color="#435eaf"/><stop offset="0.5745" stop-color="#435eaf"/><stop offset="0.5745" stop-color="#5a71b8"/><stop offset="0.5851" stop-color="#5a71b8"/><stop offset="0.5851" stop-color="#556bb5"/><stop offset="0.5957" stop-color="#556bb5"/><stop offset="0.5957" stop-color="#4961b0"/><stop offset="0.6064" stop-color="#4961b0"/><stop offset="0.6064" stop-color="#415bad"/><stop offset="0.6170" stop-color="#415bad"/><stop offset="0.6170" stop-color="#546ab4"/><stop offset="0.6277" stop-color="#546ab4"/><stop offset="0.6277" stop-color="#425cad"/><stop offset="0.6383" stop-color="#425cad"/><stop offset="0.6383" stop-color="#4761b0"/><stop offset="0.6489" stop-color="#4761b0"/><stop offset="0.6489" stop-color="#5870b7"/><stop offset="0.6596" stop-color="#5870b7"/><stop offset="0.6596" stop-color="#4d67b3"/><stop offset="0.6702" stop-color="#4d67b3"/><stop offset="0.6702" stop-color="#4f67b2"/><stop offset="0.6809" stop-color="#4f67b2"/><stop offset="0.6809" stop-color="#425dae"/><stop offset="0.6915" stop-color="#425dae"/><stop offset="0.6915" stop-color="#3d59ac"/><stop offset="0.7021" stop-color="#3d59ac"/><stop offset="0.7021" stop-color="#3e59ac"/><stop offset="0.7128" stop-color="#3e59ac"/><stop offset="0.7128" stop-color="#405bad"/><stop offset="0.7234" stop-color="#405bad"/><stop offset="0.7234" stop-color="#405cae"/><stop offset="0.7340" stop-color="#405cae"/><stop offset="0.7340" stop-color="#5b71b8"/><stop offset="0.7447" stop-color="#5b71b8"/><stop offset="0.7447" stop-color="#3f5bad"/><stop offset="0.7553" stop-color="#3f5bad"/><stop offset="0.7553" stop-color="#6277ba"/><stop offset="0.7660" stop-color="#6277ba"/><stop offset="0.7660" stop-color="#546cb5"/><stop offset="0.7766" stop-color="#546cb5"/><stop offset="0.7766" stop-color="#576eb6"/><stop offset="0.7872" stop-color="#576eb6"/><stop offset="0.7872" stop-color="#435dae"/><stop offset="0.7979" stop-color="#435dae"/><stop offset="0.7979" stop-color="#5a70b7"/><stop offset="0.8085" stop-color="#5a70b7"/><stop offset="0.8085" stop-color="#5c72b8"/><stop offset="0.8191" stop-color="#5c72b8"/><stop offset="0.8191" stop-color="#3c58ac"/><stop offset="0.8298" stop-color="#3c58ac"/><stop offset="0.8298" stop-color="#5f74b9"/><stop offset="0.8404" stop-color="#5f74b9"/><stop offset="0.8404" stop-color="#415bad"/><stop offset="0.8511" stop-color="#415bad"/><stop offset="0.8511" stop-color="#405bae"/><stop offset="0.8617" stop-color="#405bae"/><stop offset="0.8617" stop-color="#3d59ac"/><stop offset="0.8723" stop-color="#3d59ac"/><stop offset="0.8723" stop-color="#5e75ba"/><stop offset="0.8830" stop-color="#5e75ba"/><stop offset="0.8830" stop-color="#455eae"/><stop offset="0.8936" stop-color="#455eae"/><stop offset="0.8936" stop-color="#4d66b2"/><stop offset="0.9043" stop-color="#4d66b2"/><stop offset="0.9043" stop-color="#576eb6"/><stop offset="0.9149" stop-color="#576eb6"/><stop offset="0.9149" stop-color="#445dae"/><stop offset="0.9255" stop-color="#445dae"/><stop offset="0.9255" stop-color="#3e59ac"/><stop offset="0.9362" stop-color="#3e59ac"/><stop offset="0.9362" stop-color="#3f5aad"/><stop offset="0.9468" stop-color="#3f5aad"/><stop offset="0.9468" stop-color="#4a63b0"/><stop offset="0.9574" stop-color="#4a63b0"/><stop offset="0.9574" stop-color="#4963b1"/><stop offset="0.9681" stop-color="#4963b1"/><stop offset="0.9681" stop-color="#415bad"/><stop offset="0.9787" stop-color="#415bad"/><stop offset="0.9787" stop-color="#5e73b8"/><stop offset="0.9894" stop-color="#5e73b8"/><stop offset="0.9894" stop-color="#6a7dbd"/><stop offset="1.0000" stop-color="#6a7dbd"/></linearGradient></defs>
<rect x="274.20" y="94.90" width="43.50" height="56.50" fill="url(#hg12)"/>
<defs><linearGradient id="hg13" x1="0" y1="0" x2="0" y2="1"><stop offset="0.0000" stop-color="#878dc0"/><stop offset="0.0147" stop-color="#878dc0"/><stop offset="0.0147" stop-color="#6576b8"/><stop offset="0.0294" stop-color="#6576b8"/><stop offset="0.0294" stop-color="#9799c6"/><stop offset="0.0441" stop-color="#9799c6"/><stop offset="0.0441" stop-color="#7e85bc"/><stop offset="0.0588" stop-color="#7e85bc"/><stop offset="0.0588" stop-color="#808bc1"/><stop offset="0.0735" stop-color="#808bc1"/><stop offset="0.0735" stop-color="#8992c4"/><stop offset="0.0882" stop-color="#8992c4"/><stop offset="0.0882" stop-color="#8592c6"/><stop offset="0.1029" stop-color="#8592c6"/><stop offset="0.1029" stop-color="#848cc0"/><stop offset="0.1176" stop-color="#848cc0"/><stop offset="0.1176" stop-color="#8490c5"/><stop offset="0.1324" stop-color="#8490c5"/><stop offset="0.1324" stop-color="#978bb6"/><stop offset="0.1471" stop-color="#978bb6"/><stop offset="0.1471" stop-color="#8e98c8"/><stop offset="0.1618" stop-color="#8e98c8"/><stop offset="0.1618" stop-color="#9496c4"/><stop offset="0.1765" stop-color="#9496c4"/><stop offset="0.1765" stop-color="#838abe"/><stop offset="0.1912" stop-color="#838abe"/><stop offset="0.1912" stop-color="#8595c9"/><stop offset="0.2059" stop-color="#8595c9"/><stop offset="0.2059" stop-color="#8a97c9"/><stop offset="0.2206" stop-color="#8a97c9"/><stop offset="0.2206" stop-color="#a1a6ce"/><stop offset="0.2353" stop-color="#a1a6ce"/><stop offset="0.2353" stop-color="#8a85b7"/><stop offset="0.2500" stop-color="#8a85b7"/><stop offset="0.2500" stop-color="#9a98c3"/><stop offset="0.2647" stop-color="#9a98c3"/><stop offset="0.2647" stop-color="#8984b6"/><stop offset="0.2794" stop-color="#8984b6"/><stop offset="0.2794" stop-color="#6978b8"/><stop offset="0.2941" stop-color="#6978b8"/><stop offset="0.2941" stop-color="#8d8bbb"/><stop offset="0.3088" stop-color="#8d8bbb"/><stop offset="0.3088" stop-color="#9592bf"/><stop offset="0.3235" stop-color="#9592bf"/><stop offset="0.3235" stop-color="#8b88b9"/><stop offset="0.3382" stop-color="#8b88b9"/><stop offset="0.3382" stop-color="#9a9cc7"/><stop offset="0.3529" stop-color="#9a9cc7"/><stop offset="0.3529" stop-color="#888fc2"/><stop offset="0.3676" stop-color="#888fc2"/><stop offset="0.3676" stop-color="#8a8bbc"/><stop offset="0.3824" stop-color="#8a8bbc"/><stop offset="0.3824" stop-color="#a99cbf"/><stop offset="0.3971" stop-color="#a99cbf"/><stop offset="0.3971" stop-color="#9295c4"/><stop offset="0.4118" stop-color="#9295c4"/><stop offset="0.4118" stop-color="#828cc2"/><stop offset="0.4265" stop-color="#828cc2"/><stop offset="0.4265" stop-color="#8185ba"/><stop offset="0.4412" stop-color="#8185ba"/><stop offset="0.4412" stop-color="#7286c2"/><stop offset="0.4559" stop-color="#7286c2"/><stop offset="0.4559" stop-color="#8b94c6"/><stop offset="0.4706" stop-color="#8b94c6"/><stop offset="0.4706" stop-color="#a497bd"/><stop offset="0.4853" stop-color="#a497bd"/><stop offset="0.4853" stop-color="#959cca"/><stop offset="0.5000" stop-color="#959cca"/><stop offset="0.5000" stop-color="#a5a4ca"/><stop offset="0.5147" stop-color="#a5a4ca"/><stop offset="0.5147" stop-color="#8e83b3"/><stop offset="0.5294" stop-color="#8e83b3"/><stop offset="0.5294" stop-color="#8d92c3"/><stop offset="0.5441" stop-color="#8d92c3"/><stop offset="0.5441" stop-color="#8f99c9"/><stop offset="0.5588" stop-color="#8f99c9"/><stop offset="0.5588" stop-color="#7c8cc4"/><stop offset="0.5735" stop-color="#7c8cc4"/><stop offset="0.5735" stop-color="#888ec1"/><stop offset="0.5882" stop-color="#888ec1"/><stop offset="0.5882" stop-color="#abaace"/><stop offset="0.6029" stop-color="#abaace"/><stop offset="0.6029" stop-color="#7b8cc5"/><stop offset="0.6176" stop-color="#7b8cc5"/><stop offset="0.6176" stop-color="#8c8bbc"/><stop offset="0.6324" stop-color="#8c8bbc"/><stop offset="0.6324" stop-color="#8189bf"/><stop offset="0.6471" stop-color="#8189bf"/><stop offset="0.6471" stop-color="#7c8ec6"/><stop offset="0.6618" stop-color="#7c8ec6"/><stop offset="0.6618" stop-color="#9094c3"/><stop offset="0.6765" stop-color="#9094c3"/><stop offset="0.6765" stop-color="#999bc7"/><stop offset="0.6912" stop-color="#999bc7"/><stop offset="0.6912" stop-color="#697ebf"/><stop offset="0.7059" stop-color="#697ebf"/><stop offset="0.7059" stop-color="#7980b9"/><stop offset="0.7206" stop-color="#7980b9"/><stop offset="0.7206" stop-color="#969bc7"/><stop offset="0.7353" stop-color="#969bc7"/><stop offset="0.7353" stop-color="#8794c8"/><stop offset="0.7500" stop-color="#8794c8"/><stop offset="0.7500" stop-color="#959bc8"/><stop offset="0.7647" stop-color="#959bc8"/><stop offset="0.7647" stop-color="#838fc4"/><stop offset="0.7794" stop-color="#838fc4"/><stop offset="0.7794" stop-color="#9c9dc7"/><stop offset="0.7941" stop-color="#9c9dc7"/><stop offset="0.7941" stop-color="#b7a7c5"/><stop offset="0.8088" stop-color="#b7a7c5"/><stop offset="0.8088" stop-color="#7487c3"/><stop offset="0.8235" stop-color="#7487c3"/><stop offset="0.8235" stop-color="#858abe"/><stop offset="0.8382" stop-color="#858abe"/><stop offset="0.8382" stop-color="#8f9ccc"/><stop offset="0.8529" stop-color="#8f9ccc"/><stop offset="0.8529" stop-color="#938fbd"/><stop offset="0.8676" stop-color="#938fbd"/><stop offset="0.8676" stop-color="#9ba3ce"/><stop offset="0.8824" stop-color="#9ba3ce"/><stop offset="0.8824" stop-color="#8d8cbd"/><stop offset="0.8971" stop-color="#8d8cbd"/><stop offset="0.8971" stop-color="#8a95c7"/><stop offset="0.9118" stop-color="#8a95c7"/><stop offset="0.9118" stop-color="#717fbc"/><stop offset="0.9265" stop-color="#717fbc"/><stop offset="0.9265" stop-color="#8e91c1"/><stop offset="0.9412" stop-color="#8e91c1"/><stop offset="0.9412" stop-color="#9c9ac3"/><stop offset="0.9559" stop-color="#9c9ac3"/><stop offset="0.9559" stop-color="#939bc9"/><stop offset="0.9706" stop-color="#939bc9"/><stop offset="0.9706" stop-color="#8186bc"/><stop offset="0.9853" stop-color="#8186bc"/><stop offset="0.9853" stop-color="#8b93c5"/><stop offset="1.0000" stop-color="#8b93c5"/></linearGradient></defs>
<rect x="130.00" y="153.30" width="46.30" height="40.50" fill="url(#hg13)"/>
<defs><linearGradient id="hg14" x1="0" y1="0" x2="0" y2="1"><stop offset="0.0000" stop-color="#a995b9"/><stop offset="0.0147" stop-color="#a995b9"/><stop offset="0.0147" stop-color="#a893b7"/><stop offset="0.0294" stop-color="#a893b7"/><stop offset="0.0294" stop-color="#807fb4"/><stop offset="0.0441" stop-color="#807fb4"/><stop offset="0.0441" stop-color="#a597bd"/><stop offset="0.0588" stop-color="#a597bd"/><stop offset="0.0588" stop-color="#afa4c5"/><stop offset="0.0735" stop-color="#afa4c5"/><stop offset="0.0735" stop-color="#a798bc"/><stop offset="0.0882" stop-color="#a798bc"/><stop offset="0.0882" stop-color="#a49ec5"/><stop offset="0.1029" stop-color="#a49ec5"/><stop offset="0.1029" stop-color="#908dbb"/><stop offset="0.1176" stop-color="#908dbb"/><stop offset="0.1176" stop-color="#9e95bd"/><stop offset="0.1324" stop-color="#9e95bd"/><stop offset="0.1324" stop-color="#ad8cad"/><stop offset="0.1471" stop-color="#ad8cad"/><stop offset="0.1471" stop-color="#9c8cb5"/><stop offset="0.1618" stop-color="#9c8cb5"/><stop offset="0.1618" stop-color="#7f86bd"/><stop offset="0.1765" stop-color="#7f86bd"/><stop offset="0.1765" stop-color="#bca6c2"/><stop offset="0.1912" stop-color="#bca6c2"/><stop offset="0.1912" stop-color="#9fa1ca"/><stop offset="0.2059" stop-color="#9fa1ca"/><stop offset="0.2059" stop-color="#8286bc"/><stop offset="0.2206" stop-color="#8286bc"/><stop offset="0.2206" stop-color="#8b9acc"/><stop offset="0.2353" stop-color="#8b9acc"/><stop offset="0.2353" stop-color="#999ac5"/><stop offset="0.2500" stop-color="#999ac5"/><stop offset="0.2500" stop-color="#9491be"/><stop offset="0.2647" stop-color="#9491be"/><stop offset="0.2647" stop-color="#9ba8d3"/><stop offset="0.2794" stop-color="#9ba8d3"/><stop offset="0.2794" stop-color="#b091b1"/><stop offset="0.2941" stop-color="#b091b1"/><stop offset="0.2941" stop-color="#a994b7"/><stop offset="0.3088" stop-color="#a994b7"/><stop offset="0.3088" stop-color="#8b93c5"/><stop offset="0.3235" stop-color="#8b93c5"/><stop offset="0.3235" stop-color="#b78eab"/><stop offset="0.3382" stop-color="#b78eab"/><stop offset="0.3382" stop-color="#bda0bb"/><stop offset="0.3529" stop-color="#bda0bb"/><stop offset="0.3529" stop-color="#a09ac2"/><stop offset="0.3676" stop-color="#a09ac2"/><stop offset="0.3676" stop-color="#7780ba"/><stop offset="0.3824" stop-color="#7780ba"/><stop offset="0.3824" stop-color="#9c90b9"/><stop offset="0.3971" stop-color="#9c90b9"/><stop offset="0.3971" stop-color="#a59dc3"/><stop offset="0.4118" stop-color="#a59dc3"/><stop offset="0.4118" stop-color="#a69bc0"/><stop offset="0.4265" stop-color="#a69bc0"/><stop offset="0.4265" stop-color="#b291b0"/><stop offset="0.4412" stop-color="#b291b0"/><stop offset="0.4412" stop-color="#9a98c3"/><stop offset="0.4559" stop-color="#9a98c3"/><stop offset="0.4559" stop-color="#8185bb"/><stop offset="0.4706" stop-color="#8185bb"/><stop offset="0.4706" stop-color="#ae94b5"/><stop offset="0.4853" stop-color="#ae94b5"/><stop offset="0.4853" stop-color="#be95ae"/><stop offset="0.5000" stop-color="#be95ae"/><stop offset="0.5000" stop-color="#9683af"/><stop offset="0.5147" stop-color="#9683af"/><stop offset="0.5147" stop-color="#a89bc0"/><stop offset="0.5294" stop-color="#a89bc0"/><stop offset="0.5294" stop-color="#b192b1"/><stop offset="0.5441" stop-color="#b192b1"/><stop offset="0.5441" stop-color="#a9a6ca"/><stop offset="0.5588" stop-color="#a9a6ca"/><stop offset="0.5588" stop-color="#a18fb5"/><stop offset="0.5735" stop-color="#a18fb5"/><stop offset="0.5735" stop-color="#a09fc8"/><stop offset="0.5882" stop-color="#a09fc8"/><stop offset="0.5882" stop-color="#7d75ac"/><stop offset="0.6029" stop-color="#7d75ac"/><stop offset="0.6029" stop-color="#9591be"/><stop offset="0.6176" stop-color="#9591be"/><stop offset="0.6176" stop-color="#94a1cf"/><stop offset="0.6324" stop-color="#94a1cf"/><stop offset="0.6324" stop-color="#7986c0"/><stop offset="0.6471" stop-color="#7986c0"/><stop offset="0.6471" stop-color="#9a97c1"/><stop offset="0.6618" stop-color="#9a97c1"/><stop offset="0.6618" stop-color="#788ac5"/><stop offset="0.6765" stop-color="#788ac5"/><stop offset="0.6765" stop-color="#918dbb"/><stop offset="0.6912" stop-color="#918dbb"/><stop offset="0.6912" stop-color="#7f8ac1"/><stop offset="0.7059" stop-color="#7f8ac1"/><stop offset="0.7059" stop-color="#989cc8"/><stop offset="0.7206" stop-color="#989cc8"/><stop offset="0.7206" stop-color="#bfb1cb"/><stop offset="0.7353" stop-color="#bfb1cb"/><stop offset="0.7353" stop-color="#8d92c3"/><stop offset="0.7500" stop-color="#8d92c3"/><stop offset="0.7500" stop-color="#ad98ba"/><stop offset="0.7647" stop-color="#ad98ba"/><stop offset="0.7647" stop-color="#b78da9"/><stop offset="0.7794" stop-color="#b78da9"/><stop offset="0.7794" stop-color="#9e93bc"/><stop offset="0.7941" stop-color="#9e93bc"/><stop offset="0.7941" stop-color="#9c8fb8"/><stop offset="0.8088" stop-color="#9c8fb8"/><stop offset="0.8088" stop-color="#9e8ab2"/><stop offset="0.8235" stop-color="#9e8ab2"/><stop offset="0.8235" stop-color="#b69ebc"/><stop offset="0.8382" stop-color="#b69ebc"/><stop offset="0.8382" stop-color="#9694c1"/><stop offset="0.8529" stop-color="#9694c1"/><stop offset="0.8529" stop-color="#7084c1"/><stop offset="0.8676" stop-color="#7084c1"/><stop offset="0.8676" stop-color="#bca6c2"/><stop offset="0.8824" stop-color="#bca6c2"/><stop offset="0.8824" stop-color="#b395b3"/><stop offset="0.8971" stop-color="#b395b3"/><stop offset="0.8971" stop-color="#9795c0"/><stop offset="0.9118" stop-color="#9795c0"/><stop offset="0.9118" stop-color="#a18eb5"/><stop offset="0.9265" stop-color="#a18eb5"/><stop offset="0.9265" stop-color="#9698c4"/><stop offset="0.9412" stop-color="#9698c4"/><stop offset="0.9412" stop-color="#7c8dc5"/><stop offset="0.9559" stop-color="#7c8dc5"/><stop offset="0.9559" stop-color="#7378b3"/><stop offset="0.9706" stop-color="#7378b3"/><stop offset="0.9706" stop-color="#a09bc3"/><stop offset="0.9853" stop-color="#a09bc3"/><stop offset="0.9853" stop-color="#8797cb"/><stop offset="1.0000" stop-color="#8797cb"/></linearGradient></defs>
<rect x="177.90" y="153.30" width="44.50" height="40.50" fill="url(#hg14)"/>
<defs><linearGradient id="hg15" x1="0" y1="0" x2="0" y2="1"><stop offset="0.0000" stop-color="#9a95c0"/><stop offset="0.0147" stop-color="#9a95c0"/><stop offset="0.0147" stop-color="#7685c0"/><stop offset="0.0294" stop-color="#7685c0"/><stop offset="0.0294" stop-color="#7582bc"/><stop offset="0.0441" stop-color="#7582bc"/><stop offset="0.0441" stop-color="#7281bd"/><stop offset="0.0588" stop-color="#7281bd"/><stop offset="0.0588" stop-color="#a39cc2"/><stop offset="0.0735" stop-color="#a39cc2"/><stop offset="0.0735" stop-color="#999ac6"/><stop offset="0.0882" stop-color="#999ac6"/><stop offset="0.0882" stop-color="#7e8ac1"/><stop offset="0.1029" stop-color="#7e8ac1"/><stop offset="0.1029" stop-color="#8084ba"/><stop offset="0.1176" stop-color="#8084ba"/><stop offset="0.1176" stop-color="#7d81b9"/><stop offset="0.1324" stop-color="#7d81b9"/><stop offset="0.1324" stop-color="#808ec5"/><stop offset="0.1471" stop-color="#808ec5"/><stop offset="0.1471" stop-color="#8c8dbe"/><stop offset="0.1618" stop-color="#8c8dbe"/><stop offset="0.1618" stop-color="#7580bb"/><stop offset="0.1765" stop-color="#7580bb"/><stop offset="0.1765" stop-color="#6378bb"/><stop offset="0.1912" stop-color="#6378bb"/><stop offset="0.1912" stop-color="#7a86bf"/><stop offset="0.2059" stop-color="#7a86bf"/><stop offset="0.2059" stop-color="#828abf"/><stop offset="0.2206" stop-color="#828abf"/><stop offset="0.2206" stop-color="#687dbe"/><stop offset="0.2353" stop-color="#687dbe"/><stop offset="0.2353" stop-color="#848ec3"/><stop offset="0.2500" stop-color="#848ec3"/><stop offset="0.2500" stop-color="#8790c4"/><stop offset="0.2647" stop-color="#8790c4"/><stop offset="0.2647" stop-color="#767db8"/><stop offset="0.2794" stop-color="#767db8"/><stop offset="0.2794" stop-color="#7f83ba"/><stop offset="0.2941" stop-color="#7f83ba"/><stop offset="0.2941" stop-color="#9190be"/><stop offset="0.3088" stop-color="#9190be"/><stop offset="0.3088" stop-color="#848cc0"/><stop offset="0.3235" stop-color="#848cc0"/><stop offset="0.3235" stop-color="#8f89b8"/><stop offset="0.3382" stop-color="#8f89b8"/><stop offset="0.3382" stop-color="#8086bd"/><stop offset="0.3529" stop-color="#8086bd"/><stop offset="0.3529" stop-color="#8a8bbc"/><stop offset="0.3676" stop-color="#8a8bbc"/><stop offset="0.3676" stop-color="#788bc5"/><stop offset="0.3824" stop-color="#788bc5"/><stop offset="0.3824" stop-color="#989cc7"/><stop offset="0.3971" stop-color="#989cc7"/><stop offset="0.3971" stop-color="#7d86be"/><stop offset="0.4118" stop-color="#7d86be"/><stop offset="0.4118" stop-color="#8087bd"/><stop offset="0.4265" stop-color="#8087bd"/><stop offset="0.4265" stop-color="#a995b8"/><stop offset="0.4412" stop-color="#a995b8"/><stop offset="0.4412" stop-color="#8680b3"/><stop offset="0.4559" stop-color="#8680b3"/><stop offset="0.4559" stop-color="#9b90ba"/><stop offset="0.4706" stop-color="#9b90ba"/><stop offset="0.4706" stop-color="#8999cc"/><stop offset="0.4853" stop-color="#8999cc"/><stop offset="0.4853" stop-color="#8c94c5"/><stop offset="0.5000" stop-color="#8c94c5"/><stop offset="0.5000" stop-color="#888bbe"/><stop offset="0.5147" stop-color="#888bbe"/><stop offset="0.5147" stop-color="#7f80b7"/><stop offset="0.5294" stop-color="#7f80b7"/><stop offset="0.5294" stop-color="#7f8ac1"/><stop offset="0.5441" stop-color="#7f8ac1"/><stop offset="0.5441" stop-color="#a99cbf"/><stop offset="0.5588" stop-color="#a99cbf"/><stop offset="0.5588" stop-color="#8f91c0"/><stop offset="0.5735" stop-color="#8f91c0"/><stop offset="0.5735" stop-color="#8293c9"/><stop offset="0.5882" stop-color="#8293c9"/><stop offset="0.5882" stop-color="#8192c8"/><stop offset="0.6029" stop-color="#8192c8"/><stop offset="0.6029" stop-color="#918fbe"/><stop offset="0.6176" stop-color="#918fbe"/><stop offset="0.6176" stop-color="#7d8fc7"/><stop offset="0.6324" stop-color="#7d8fc7"/><stop offset="0.6324" stop-color="#afa5c6"/><stop offset="0.6471" stop-color="#afa5c6"/><stop offset="0.6471" stop-color="#a7a6cb"/><stop offset="0.6618" stop-color="#a7a6cb"/><stop offset="0.6618" stop-color="#788bc5"/><stop offset="0.6765" stop-color="#788bc5"/><stop offset="0.6765" stop-color="#b69cba"/><stop offset="0.6912" stop-color="#b69cba"/><stop offset="0.6912" stop-color="#9a99c4"/><stop offset="0.7059" stop-color="#9a99c4"/><stop offset="0.7059" stop-color="#8c8cbc"/><stop offset="0.7206" stop-color="#8c8cbc"/><stop offset="0.7206" stop-color="#9da3cd"/><stop offset="0.7353" stop-color="#9da3cd"/><stop offset="0.7353" stop-color="#8692c6"/><stop offset="0.7500" stop-color="#8692c6"/><stop offset="0.7500" stop-color="#9ea0c9"/><stop offset="0.7647" stop-color="#9ea0c9"/><stop offset="0.7647" stop-color="#7d85bd"/><stop offset="0.7794" stop-color="#7d85bd"/><stop offset="0.7794" stop-color="#8a90c2"/><stop offset="0.7941" stop-color="#8a90c2"/><stop offset="0.7941" stop-color="#a78eb3"/><stop offset="0.8088" stop-color="#a78eb3"/><stop offset="0.8088" stop-color="#a795ba"/><stop offset="0.8235" stop-color="#a795ba"/><stop offset="0.8235" stop-color="#9893be"/><stop offset="0.8382" stop-color="#9893be"/><stop offset="0.8382" stop-color="#a799be"/><stop offset="0.8529" stop-color="#a799be"/><stop offset="0.8529" stop-color="#7883bd"/><stop offset="0.8676" stop-color="#7883bd"/><stop offset="0.8676" stop-color="#8e88b8"/><stop offset="0.8824" stop-color="#8e88b8"/><stop offset="0.8824" stop-color="#9d93bc"/><stop offset="0.8971" stop-color="#9d93bc"/><stop offset="0.8971" stop-color="#8391c6"/><stop offset="0.9118" stop-color="#8391c6"/><stop offset="0.9118" stop-color="#9698c5"/><stop offset="0.9265" stop-color="#9698c5"/><stop offset="0.9265" stop-color="#9598c6"/><stop offset="0.9412" stop-color="#9598c6"/><stop offset="0.9412" stop-color="#7f86bd"/><stop offset="0.9559" stop-color="#7f86bd"/><stop offset="0.9559" stop-color="#7284c1"/><stop offset="0.9706" stop-color="#7284c1"/><stop offset="0.9706" stop-color="#8b99cb"/><stop offset="0.9853" stop-color="#8b99cb"/><stop offset="0.9853" stop-color="#8190c6"/><stop offset="1.0000" stop-color="#8190c6"/></linearGradient></defs>
<rect x="224.40" y="153.30" width="48.10" height="40.50" fill="url(#hg15)"/>
<defs><linearGradient id="hg16" x1="0" y1="0" x2="0" y2="1"><stop offset="0.0000" stop-color="#cf8a9b"/><stop offset="0.0147" stop-color="#cf8a9b"/><stop offset="0.0147" stop-color="#e77e83"/><stop offset="0.0294" stop-color="#e77e83"/><stop offset="0.0294" stop-color="#dd7882"/><stop offset="0.0441" stop-color="#dd7882"/><stop offset="0.0441" stop-color="#e3969e"/><stop offset="0.0588" stop-color="#e3969e"/><stop offset="0.0588" stop-color="#e07f88"/><stop offset="0.0735" stop-color="#e07f88"/><stop offset="0.0735" stop-color="#e06971"/><stop offset="0.0882" stop-color="#e06971"/><stop offset="0.0882" stop-color="#e37d84"/><stop offset="0.1029" stop-color="#e37d84"/><stop offset="0.1029" stop-color="#da8c98"/><stop offset="0.1176" stop-color="#da8c98"/><stop offset="0.1176" stop-color="#e3797f"/><stop offset="0.1324" stop-color="#e3797f"/><stop offset="0.1324" stop-color="#de737b"/><stop offset="0.1471" stop-color="#de737b"/><stop offset="0.1471" stop-color="#d7abba"/><stop offset="0.1618" stop-color="#d7abba"/><stop offset="0.1618" stop-color="#e96e72"/><stop offset="0.1765" stop-color="#e96e72"/><stop offset="0.1765" stop-color="#dd8892"/><stop offset="0.1912" stop-color="#dd8892"/><stop offset="0.1912" stop-color="#df838c"/><stop offset="0.2059" stop-color="#df838c"/><stop offset="0.2059" stop-color="#e0939c"/><stop offset="0.2206" stop-color="#e0939c"/><stop offset="0.2206" stop-color="#eb7376"/><stop offset="0.2353" stop-color="#eb7376"/><stop offset="0.2353" stop-color="#d38897"/><stop offset="0.2500" stop-color="#d38897"/><stop offset="0.2500" stop-color="#e38088"/><stop offset="0.2647" stop-color="#e38088"/><stop offset="0.2647" stop-color="#e7787d"/><stop offset="0.2794" stop-color="#e7787d"/><stop offset="0.2794" stop-color="#de7b84"/><stop offset="0.2941" stop-color="#de7b84"/><stop offset="0.2941" stop-color="#e25b61"/><stop offset="0.3088" stop-color="#e25b61"/><stop offset="0.3088" stop-color="#de6972"/><stop offset="0.3235" stop-color="#de6972"/><stop offset="0.3235" stop-color="#df7b84"/><stop offset="0.3382" stop-color="#df7b84"/><stop offset="0.3382" stop-color="#e86c70"/><stop offset="0.3529" stop-color="#e86c70"/><stop offset="0.3529" stop-color="#e67378"/><stop offset="0.3676" stop-color="#e67378"/><stop offset="0.3676" stop-color="#e27077"/><stop offset="0.3824" stop-color="#e27077"/><stop offset="0.3824" stop-color="#d57886"/><stop offset="0.3971" stop-color="#d57886"/><stop offset="0.3971" stop-color="#ec6f71"/><stop offset="0.4118" stop-color="#ec6f71"/><stop offset="0.4118" stop-color="#d9909d"/><stop offset="0.4265" stop-color="#d9909d"/><stop offset="0.4265" stop-color="#dc8691"/><stop offset="0.4412" stop-color="#dc8691"/><stop offset="0.4412" stop-color="#dc8590"/><stop offset="0.4559" stop-color="#dc8590"/><stop offset="0.4559" stop-color="#e6797e"/><stop offset="0.4706" stop-color="#e6797e"/><stop offset="0.4706" stop-color="#e46b70"/><stop offset="0.4853" stop-color="#e46b70"/><stop offset="0.4853" stop-color="#e17c84"/><stop offset="0.5000" stop-color="#e17c84"/><stop offset="0.5000" stop-color="#e17b83"/><stop offset="0.5147" stop-color="#e17b83"/><stop offset="0.5147" stop-color="#dc8d98"/><stop offset="0.5294" stop-color="#dc8d98"/><stop offset="0.5294" stop-color="#e46f75"/><stop offset="0.5441" stop-color="#e46f75"/><stop offset="0.5441" stop-color="#dd919b"/><stop offset="0.5588" stop-color="#dd919b"/><stop offset="0.5588" stop-color="#dc848e"/><stop offset="0.5735" stop-color="#dc848e"/><stop offset="0.5735" stop-color="#e398a0"/><stop offset="0.5882" stop-color="#e398a0"/><stop offset="0.5882" stop-color="#e2838b"/><stop offset="0.6029" stop-color="#e2838b"/><stop offset="0.6029" stop-color="#e56c71"/><stop offset="0.6176" stop-color="#e56c71"/><stop offset="0.6176" stop-color="#ea7174"/><stop offset="0.6324" stop-color="#ea7174"/><stop offset="0.6324" stop-color="#e87579"/><stop offset="0.6471" stop-color="#e87579"/><stop offset="0.6471" stop-color="#e08790"/><stop offset="0.6618" stop-color="#e08790"/><stop offset="0.6618" stop-color="#dc6d76"/><stop offset="0.6765" stop-color="#dc6d76"/><stop offset="0.6765" stop-color="#e86b6f"/><stop offset="0.6912" stop-color="#e86b6f"/><stop offset="0.6912" stop-color="#e0727a"/><stop offset="0.7059" stop-color="#e0727a"/><stop offset="0.7059" stop-color="#d08c9d"/><stop offset="0.7206" stop-color="#d08c9d"/><stop offset="0.7206" stop-color="#e79298"/><stop offset="0.7353" stop-color="#e79298"/><stop offset="0.7353" stop-color="#df96a0"/><stop offset="0.7500" stop-color="#df96a0"/><stop offset="0.7500" stop-color="#e08089"/><stop offset="0.7647" stop-color="#e08089"/><stop offset="0.7647" stop-color="#e79399"/><stop offset="0.7794" stop-color="#e79399"/><stop offset="0.7794" stop-color="#e5656a"/><stop offset="0.7941" stop-color="#e5656a"/><stop offset="0.7941" stop-color="#e4777d"/><stop offset="0.8088" stop-color="#e4777d"/><stop offset="0.8088" stop-color="#dd818b"/><stop offset="0.8235" stop-color="#dd818b"/><stop offset="0.8235" stop-color="#e89399"/><stop offset="0.8382" stop-color="#e89399"/><stop offset="0.8382" stop-color="#e8898e"/><stop offset="0.8529" stop-color="#e8898e"/><stop offset="0.8529" stop-color="#ec6a6c"/><stop offset="0.8676" stop-color="#ec6a6c"/><stop offset="0.8676" stop-color="#e58d94"/><stop offset="0.8824" stop-color="#e58d94"/><stop offset="0.8824" stop-color="#eb686a"/><stop offset="0.8971" stop-color="#eb686a"/><stop offset="0.8971" stop-color="#e87b7f"/><stop offset="0.9118" stop-color="#e87b7f"/><stop offset="0.9118" stop-color="#e68187"/><stop offset="0.9265" stop-color="#e68187"/><stop offset="0.9265" stop-color="#e2767d"/><stop offset="0.9412" stop-color="#e2767d"/><stop offset="0.9412" stop-color="#eb8588"/><stop offset="0.9559" stop-color="#eb8588"/><stop offset="0.9559" stop-color="#e0858e"/><stop offset="0.9706" stop-color="#e0858e"/><stop offset="0.9706" stop-color="#d88693"/><stop offset="0.9853" stop-color="#d88693"/><stop offset="0.9853" stop-color="#e3858c"/><stop offset="1.0000" stop-color="#e3858c"/></linearGradient></defs>
<rect x="274.20" y="153.30" width="43.50" height="40.50" fill="url(#hg16)"/>
<defs><linearGradient id="cbA" x1="0" y1="0" x2="0" y2="1"><stop offset="0" stop-color="#e8302f"/><stop offset="0.5" stop-color="#f8f8fb"/><stop offset="1" stop-color="#3f5db2"/></linearGradient></defs>
<defs><linearGradient id="hg17" x1="0" y1="0" x2="1" y2="0"><stop offset="0.0000" stop-color="#fff" stop-opacity="0.05"/><stop offset="0.0238" stop-color="#fff" stop-opacity="0.05"/><stop offset="0.0238" stop-color="#fff" stop-opacity="0.01"/><stop offset="0.0476" stop-color="#fff" stop-opacity="0.01"/><stop offset="0.0476" stop-color="#fff" stop-opacity="0.06"/><stop offset="0.0714" stop-color="#fff" stop-opacity="0.06"/><stop offset="0.0714" stop-color="#fff" stop-opacity="0.03"/><stop offset="0.0952" stop-color="#fff" stop-opacity="0.03"/><stop offset="0.0952" stop-color="#fff" stop-opacity="0.00"/><stop offset="0.1190" stop-color="#fff" stop-opacity="0.00"/><stop offset="0.1190" stop-color="#fff" stop-opacity="0.02"/><stop offset="0.1429" stop-color="#fff" stop-opacity="0.02"/><stop offset="0.1429" stop-color="#fff" stop-opacity="0.03"/><stop offset="0.1667" stop-color="#fff" stop-opacity="0.03"/><stop offset="0.1667" stop-color="#fff" stop-opacity="0.02"/><stop offset="0.1905" stop-color="#fff" stop-opacity="0.02"/><stop offset="0.1905" stop-color="#fff" stop-opacity="0.03"/><stop offset="0.2143" stop-color="#fff" stop-opacity="0.03"/><stop offset="0.2143" stop-color="#fff" stop-opacity="0.02"/><stop offset="0.2381" stop-color="#fff" stop-opacity="0.02"/><stop offset="0.2381" stop-color="#fff" stop-opacity="0.02"/><stop offset="0.2619" stop-color="#fff" stop-opacity="0.02"/><stop offset="0.2619" stop-color="#fff" stop-opacity="0.05"/><stop offset="0.2857" stop-color="#fff" stop-opacity="0.05"/><stop offset="0.2857" stop-color="#fff" stop-opacity="0.02"/><stop offset="0.3095" stop-color="#fff" stop-opacity="0.02"/><stop offset="0.3095" stop-color="#fff" stop-opacity="0.04"/><stop offset="0.3333" stop-color="#fff" stop-opacity="0.04"/><stop offset="0.3333" stop-color="#fff" stop-opacity="0.05"/><stop offset="0.3571" stop-color="#fff" stop-opacity="0.05"/><stop offset="0.3571" stop-color="#fff" stop-opacity="0.04"/><stop offset="0.3810" stop-color="#fff" stop-opacity="0.04"/><stop offset="0.3810" stop-color="#fff" stop-opacity="0.03"/><stop offset="0.4048" stop-color="#fff" stop-opacity="0.03"/><stop offset="0.4048" stop-color="#fff" stop-opacity="0.06"/><stop offset="0.4286" stop-color="#fff" stop-opacity="0.06"/><stop offset="0.4286" stop-color="#fff" stop-opacity="0.03"/><stop offset="0.4524" stop-color="#fff" stop-opacity="0.03"/><stop offset="0.4524" stop-color="#fff" stop-opacity="0.05"/><stop offset="0.4762" stop-color="#fff" stop-opacity="0.05"/><stop offset="0.4762" stop-color="#fff" stop-opacity="0.00"/><stop offset="0.5000" stop-color="#fff" stop-opacity="0.00"/><stop offset="0.5000" stop-color="#fff" stop-opacity="0.03"/><stop offset="0.5238" stop-color="#fff" stop-opacity="0.03"/><stop offset="0.5238" stop-color="#fff" stop-opacity="0.04"/><stop offset="0.5476" stop-color="#fff" stop-opacity="0.04"/><stop offset="0.5476" stop-color="#fff" stop-opacity="0.00"/><stop offset="0.5714" stop-color="#fff" stop-opacity="0.00"/><stop offset="0.5714" stop-color="#fff" stop-opacity="0.05"/><stop offset="0.5952" stop-color="#fff" stop-opacity="0.05"/><stop offset="0.5952" stop-color="#fff" stop-opacity="0.00"/><stop offset="0.6190" stop-color="#fff" stop-opacity="0.00"/><stop offset="0.6190" stop-color="#fff" stop-opacity="0.04"/><stop offset="0.6429" stop-color="#fff" stop-opacity="0.04"/><stop offset="0.6429" stop-color="#fff" stop-opacity="0.01"/><stop offset="0.6667" stop-color="#fff" stop-opacity="0.01"/><stop offset="0.6667" stop-color="#fff" stop-opacity="0.06"/><stop offset="0.6905" stop-color="#fff" stop-opacity="0.06"/><stop offset="0.6905" stop-color="#fff" stop-opacity="0.03"/><stop offset="0.7143" stop-color="#fff" stop-opacity="0.03"/><stop offset="0.7143" stop-color="#fff" stop-opacity="0.05"/><stop offset="0.7381" stop-color="#fff" stop-opacity="0.05"/><stop offset="0.7381" stop-color="#fff" stop-opacity="0.03"/><stop offset="0.7619" stop-color="#fff" stop-opacity="0.03"/><stop offset="0.7619" stop-color="#fff" stop-opacity="0.04"/><stop offset="0.7857" stop-color="#fff" stop-opacity="0.04"/><stop offset="0.7857" stop-color="#fff" stop-opacity="0.04"/><stop offset="0.8095" stop-color="#fff" stop-opacity="0.04"/><stop offset="0.8095" stop-color="#fff" stop-opacity="0.02"/><stop offset="0.8333" stop-color="#fff" stop-opacity="0.02"/><stop offset="0.8333" stop-color="#fff" stop-opacity="0.01"/><stop offset="0.8571" stop-color="#fff" stop-opacity="0.01"/><stop offset="0.8571" stop-color="#fff" stop-opacity="0.05"/><stop offset="0.8810" stop-color="#fff" stop-opacity="0.05"/><stop offset="0.8810" stop-color="#fff" stop-opacity="0.01"/><stop offset="0.9048" stop-color="#fff" stop-opacity="0.01"/><stop offset="0.9048" stop-color="#fff" stop-opacity="0.06"/><stop offset="0.9286" stop-color="#fff" stop-opacity="0.06"/><stop offset="0.9286" stop-color="#fff" stop-opacity="0.01"/><stop offset="0.9524" stop-color="#fff" stop-opacity="0.01"/><stop offset="0.9524" stop-color="#fff" stop-opacity="0.01"/><stop offset="0.9762" stop-color="#fff" stop-opacity="0.01"/><stop offset="0.9762" stop-color="#fff" stop-opacity="0.01"/><stop offset="1.0000" stop-color="#fff" stop-opacity="0.01"/></linearGradient></defs>
<rect x="130.00" y="29.20" width="46.30" height="44.20" fill="url(#hg17)"/>
<defs><linearGradient id="hg18" x1="0" y1="0" x2="1" y2="0"><stop offset="0.0000" stop-color="#fff" stop-opacity="0.05"/><stop offset="0.0250" stop-color="#fff" stop-opacity="0.05"/><stop offset="0.0250" stop-color="#fff" stop-opacity="0.06"/><stop offset="0.0500" stop-color="#fff" stop-opacity="0.06"/><stop offset="0.0500" stop-color="#fff" stop-opacity="0.02"/><stop offset="0.0750" stop-color="#fff" stop-opacity="0.02"/><stop offset="0.0750" stop-color="#fff" stop-opacity="0.04"/><stop offset="0.1000" stop-color="#fff" stop-opacity="0.04"/><stop offset="0.1000" stop-color="#fff" stop-opacity="0.02"/><stop offset="0.1250" stop-color="#fff" stop-opacity="0.02"/><stop offset="0.1250" stop-color="#fff" stop-opacity="0.05"/><stop offset="0.1500" stop-color="#fff" stop-opacity="0.05"/><stop offset="0.1500" stop-color="#fff" stop-opacity="0.04"/><stop offset="0.1750" stop-color="#fff" stop-opacity="0.04"/><stop offset="0.1750" stop-color="#fff" stop-opacity="0.01"/><stop offset="0.2000" stop-color="#fff" stop-opacity="0.01"/><stop offset="0.2000" stop-color="#fff" stop-opacity="0.00"/><stop offset="0.2250" stop-color="#fff" stop-opacity="0.00"/><stop offset="0.2250" stop-color="#fff" stop-opacity="0.04"/><stop offset="0.2500" stop-color="#fff" stop-opacity="0.04"/><stop offset="0.2500" stop-color="#fff" stop-opacity="0.00"/><stop offset="0.2750" stop-color="#fff" stop-opacity="0.00"/><stop offset="0.2750" stop-color="#fff" stop-opacity="0.05"/><stop offset="0.3000" stop-color="#fff" stop-opacity="0.05"/><stop offset="0.3000" stop-color="#fff" stop-opacity="0.02"/><stop offset="0.3250" stop-color="#fff" stop-opacity="0.02"/><stop offset="0.3250" stop-color="#fff" stop-opacity="0.01"/><stop offset="0.3500" stop-color="#fff" stop-opacity="0.01"/><stop offset="0.3500" stop-color="#fff" stop-opacity="0.03"/><stop offset="0.3750" stop-color="#fff" stop-opacity="0.03"/><stop offset="0.3750" stop-color="#fff" stop-opacity="0.02"/><stop offset="0.4000" stop-color="#fff" stop-opacity="0.02"/><stop offset="0.4000" stop-color="#fff" stop-opacity="0.03"/><stop offset="0.4250" stop-color="#fff" stop-opacity="0.03"/><stop offset="0.4250" stop-color="#fff" stop-opacity="0.01"/><stop offset="0.4500" stop-color="#fff" stop-opacity="0.01"/><stop offset="0.4500" stop-color="#fff" stop-opacity="0.05"/><stop offset="0.4750" stop-color="#fff" stop-opacity="0.05"/><stop offset="0.4750" stop-color="#fff" stop-opacity="0.02"/><stop offset="0.5000" stop-color="#fff" stop-opacity="0.02"/><stop offset="0.5000" stop-color="#fff" stop-opacity="0.05"/><stop offset="0.5250" stop-color="#fff" stop-opacity="0.05"/><stop offset="0.5250" stop-color="#fff" stop-opacity="0.01"/><stop offset="0.5500" stop-color="#fff" stop-opacity="0.01"/><stop offset="0.5500" stop-color="#fff" stop-opacity="0.05"/><stop offset="0.5750" stop-color="#fff" stop-opacity="0.05"/><stop offset="0.5750" stop-color="#fff" stop-opacity="0.06"/><stop offset="0.6000" stop-color="#fff" stop-opacity="0.06"/><stop offset="0.6000" stop-color="#fff" stop-opacity="0.02"/><stop offset="0.6250" stop-color="#fff" stop-opacity="0.02"/><stop offset="0.6250" stop-color="#fff" stop-opacity="0.00"/><stop offset="0.6500" stop-color="#fff" stop-opacity="0.00"/><stop offset="0.6500" stop-color="#fff" stop-opacity="0.02"/><stop offset="0.6750" stop-color="#fff" stop-opacity="0.02"/><stop offset="0.6750" stop-color="#fff" stop-opacity="0.04"/><stop offset="0.7000" stop-color="#fff" stop-opacity="0.04"/><stop offset="0.7000" stop-color="#fff" stop-opacity="0.01"/><stop offset="0.7250" stop-color="#fff" stop-opacity="0.01"/><stop offset="0.7250" stop-color="#fff" stop-opacity="0.03"/><stop offset="0.7500" stop-color="#fff" stop-opacity="0.03"/><stop offset="0.7500" stop-color="#fff" stop-opacity="0.01"/><stop offset="0.7750" stop-color="#fff" stop-opacity="0.01"/><stop offset="0.7750" stop-color="#fff" stop-opacity="0.03"/><stop offset="0.8000" stop-color="#fff" stop-opacity="0.03"/><stop offset="0.8000" stop-color="#fff" stop-opacity="0.04"/><stop offset="0.8250" stop-color="#fff" stop-opacity="0.04"/><stop offset="0.8250" stop-color="#fff" stop-opacity="0.03"/><stop offset="0.8500" stop-color="#fff" stop-opacity="0.03"/><stop offset="0.8500" stop-color="#fff" stop-opacity="0.04"/><stop offset="0.8750" stop-color="#fff" stop-opacity="0.04"/><stop offset="0.8750" stop-color="#fff" stop-opacity="0.01"/><stop offset="0.9000" stop-color="#fff" stop-opacity="0.01"/><stop offset="0.9000" stop-color="#fff" stop-opacity="0.05"/><stop offset="0.9250" stop-color="#fff" stop-opacity="0.05"/><stop offset="0.9250" stop-color="#fff" stop-opacity="0.01"/><stop offset="0.9500" stop-color="#fff" stop-opacity="0.01"/><stop offset="0.9500" stop-color="#fff" stop-opacity="0.06"/><stop offset="0.9750" stop-color="#fff" stop-opacity="0.06"/><stop offset="0.9750" stop-color="#fff" stop-opacity="0.06"/><stop offset="1.0000" stop-color="#fff" stop-opacity="0.06"/></linearGradient></defs>
<rect x="177.90" y="29.20" width="44.50" height="44.20" fill="url(#hg18)"/>
<defs><linearGradient id="hg19" x1="0" y1="0" x2="1" y2="0"><stop offset="0.0000" stop-color="#fff" stop-opacity="0.06"/><stop offset="0.0233" stop-color="#fff" stop-opacity="0.06"/><stop offset="0.0233" stop-color="#fff" stop-opacity="0.03"/><stop offset="0.0465" stop-color="#fff" stop-opacity="0.03"/><stop offset="0.0465" stop-color="#fff" stop-opacity="0.02"/><stop offset="0.0698" stop-color="#fff" stop-opacity="0.02"/><stop offset="0.0698" stop-color="#fff" stop-opacity="0.02"/><stop offset="0.0930" stop-color="#fff" stop-opacity="0.02"/><stop offset="0.0930" stop-color="#fff" stop-opacity="0.05"/><stop offset="0.1163" stop-color="#fff" stop-opacity="0.05"/><stop offset="0.1163" stop-color="#fff" stop-opacity="0.03"/><stop offset="0.1395" stop-color="#fff" stop-opacity="0.03"/><stop offset="0.1395" stop-color="#fff" stop-opacity="0.06"/><stop offset="0.1628" stop-color="#fff" stop-opacity="0.06"/><stop offset="0.1628" stop-color="#fff" stop-opacity="0.01"/><stop offset="0.1860" stop-color="#fff" stop-opacity="0.01"/><stop offset="0.1860" stop-color="#fff" stop-opacity="0.03"/><stop offset="0.2093" stop-color="#fff" stop-opacity="0.03"/><stop offset="0.2093" stop-color="#fff" stop-opacity="0.05"/><stop offset="0.2326" stop-color="#fff" stop-opacity="0.05"/><stop offset="0.2326" stop-color="#fff" stop-opacity="0.04"/><stop offset="0.2558" stop-color="#fff" stop-opacity="0.04"/><stop offset="0.2558" stop-color="#fff" stop-opacity="0.03"/><stop offset="0.2791" stop-color="#fff" stop-opacity="0.03"/><stop offset="0.2791" stop-color="#fff" stop-opacity="0.01"/><stop offset="0.3023" stop-color="#fff" stop-opacity="0.01"/><stop offset="0.3023" stop-color="#fff" stop-opacity="0.01"/><stop offset="0.3256" stop-color="#fff" stop-opacity="0.01"/><stop offset="0.3256" stop-color="#fff" stop-opacity="0.02"/><stop offset="0.3488" stop-color="#fff" stop-opacity="0.02"/><stop offset="0.3488" stop-color="#fff" stop-opacity="0.05"/><stop offset="0.3721" stop-color="#fff" stop-opacity="0.05"/><stop offset="0.3721" stop-color="#fff" stop-opacity="0.05"/><stop offset="0.3953" stop-color="#fff" stop-opacity="0.05"/><stop offset="0.3953" stop-color="#fff" stop-opacity="0.01"/><stop offset="0.4186" stop-color="#fff" stop-opacity="0.01"/><stop offset="0.4186" stop-color="#fff" stop-opacity="0.06"/><stop offset="0.4419" stop-color="#fff" stop-opacity="0.06"/><stop offset="0.4419" stop-color="#fff" stop-opacity="0.00"/><stop offset="0.4651" stop-color="#fff" stop-opacity="0.00"/><stop offset="0.4651" stop-color="#fff" stop-opacity="0.04"/><stop offset="0.4884" stop-color="#fff" stop-opacity="0.04"/><stop offset="0.4884" stop-color="#fff" stop-opacity="0.06"/><stop offset="0.5116" stop-color="#fff" stop-opacity="0.06"/><stop offset="0.5116" stop-color="#fff" stop-opacity="0.02"/><stop offset="0.5349" stop-color="#fff" stop-opacity="0.02"/><stop offset="0.5349" stop-color="#fff" stop-opacity="0.06"/><stop offset="0.5581" stop-color="#fff" stop-opacity="0.06"/><stop offset="0.5581" stop-color="#fff" stop-opacity="0.04"/><stop offset="0.5814" stop-color="#fff" stop-opacity="0.04"/><stop offset="0.5814" stop-color="#fff" stop-opacity="0.00"/><stop offset="0.6047" stop-color="#fff" stop-opacity="0.00"/><stop offset="0.6047" stop-color="#fff" stop-opacity="0.02"/><stop offset="0.6279" stop-color="#fff" stop-opacity="0.02"/><stop offset="0.6279" stop-color="#fff" stop-opacity="0.03"/><stop offset="0.6512" stop-color="#fff" stop-opacity="0.03"/><stop offset="0.6512" stop-color="#fff" stop-opacity="0.01"/><stop offset="0.6744" stop-color="#fff" stop-opacity="0.01"/><stop offset="0.6744" stop-color="#fff" stop-opacity="0.04"/><stop offset="0.6977" stop-color="#fff" stop-opacity="0.04"/><stop offset="0.6977" stop-color="#fff" stop-opacity="0.01"/><stop offset="0.7209" stop-color="#fff" stop-opacity="0.01"/><stop offset="0.7209" stop-color="#fff" stop-opacity="0.05"/><stop offset="0.7442" stop-color="#fff" stop-opacity="0.05"/><stop offset="0.7442" stop-color="#fff" stop-opacity="0.02"/><stop offset="0.7674" stop-color="#fff" stop-opacity="0.02"/><stop offset="0.7674" stop-color="#fff" stop-opacity="0.00"/><stop offset="0.7907" stop-color="#fff" stop-opacity="0.00"/><stop offset="0.7907" stop-color="#fff" stop-opacity="0.03"/><stop offset="0.8140" stop-color="#fff" stop-opacity="0.03"/><stop offset="0.8140" stop-color="#fff" stop-opacity="0.01"/><stop offset="0.8372" stop-color="#fff" stop-opacity="0.01"/><stop offset="0.8372" stop-color="#fff" stop-opacity="0.03"/><stop offset="0.8605" stop-color="#fff" stop-opacity="0.03"/><stop offset="0.8605" stop-color="#fff" stop-opacity="0.05"/><stop offset="0.8837" stop-color="#fff" stop-opacity="0.05"/><stop offset="0.8837" stop-color="#fff" stop-opacity="0.04"/><stop offset="0.9070" stop-color="#fff" stop-opacity="0.04"/><stop offset="0.9070" stop-color="#fff" stop-opacity="0.03"/><stop offset="0.9302" stop-color="#fff" stop-opacity="0.03"/><stop offset="0.9302" stop-color="#fff" stop-opacity="0.00"/><stop offset="0.9535" stop-color="#fff" stop-opacity="0.00"/><stop offset="0.9535" stop-color="#fff" stop-opacity="0.03"/><stop offset="0.9767" stop-color="#fff" stop-opacity="0.03"/><stop offset="0.9767" stop-color="#fff" stop-opacity="0.01"/><stop offset="1.0000" stop-color="#fff" stop-opacity="0.01"/></linearGradient></defs>
<rect x="224.40" y="29.20" width="48.10" height="44.20" fill="url(#hg19)"/>
<defs><linearGradient id="hg20" x1="0" y1="0" x2="1" y2="0"><stop offset="0.0000" stop-color="#fff" stop-opacity="0.04"/><stop offset="0.0256" stop-color="#fff" stop-opacity="0.04"/><stop offset="0.0256" stop-color="#fff" stop-opacity="0.01"/><stop offset="0.0513" stop-color="#fff" stop-opacity="0.01"/><stop offset="0.0513" stop-color="#fff" stop-opacity="0.03"/><stop offset="0.0769" stop-color="#fff" stop-opacity="0.03"/><stop offset="0.0769" stop-color="#fff" stop-opacity="0.02"/><stop offset="0.1026" stop-color="#fff" stop-opacity="0.02"/><stop offset="0.1026" stop-color="#fff" stop-opacity="0.02"/><stop offset="0.1282" stop-color="#fff" stop-opacity="0.02"/><stop offset="0.1282" stop-color="#fff" stop-opacity="0.04"/><stop offset="0.1538" stop-color="#fff" stop-opacity="0.04"/><stop offset="0.1538" stop-color="#fff" stop-opacity="0.01"/><stop offset="0.1795" stop-color="#fff" stop-opacity="0.01"/><stop offset="0.1795" stop-color="#fff" stop-opacity="0.01"/><stop offset="0.2051" stop-color="#fff" stop-opacity="0.01"/><stop offset="0.2051" stop-color="#fff" stop-opacity="0.06"/><stop offset="0.2308" stop-color="#fff" stop-opacity="0.06"/><stop offset="0.2308" stop-color="#fff" stop-opacity="0.02"/><stop offset="0.2564" stop-color="#fff" stop-opacity="0.02"/><stop offset="0.2564" stop-color="#fff" stop-opacity="0.05"/><stop offset="0.2821" stop-color="#fff" stop-opacity="0.05"/><stop offset="0.2821" stop-color="#fff" stop-opacity="0.05"/><stop offset="0.3077" stop-color="#fff" stop-opacity="0.05"/><stop offset="0.3077" stop-color="#fff" stop-opacity="0.03"/><stop offset="0.3333" stop-color="#fff" stop-opacity="0.03"/><stop offset="0.3333" stop-color="#fff" stop-opacity="0.01"/><stop offset="0.3590" stop-color="#fff" stop-opacity="0.01"/><stop offset="0.3590" stop-color="#fff" stop-opacity="0.01"/><stop offset="0.3846" stop-color="#fff" stop-opacity="0.01"/><stop offset="0.3846" stop-color="#fff" stop-opacity="0.05"/><stop offset="0.4103" stop-color="#fff" stop-opacity="0.05"/><stop offset="0.4103" stop-color="#fff" stop-opacity="0.01"/><stop offset="0.4359" stop-color="#fff" stop-opacity="0.01"/><stop offset="0.4359" stop-color="#fff" stop-opacity="0.03"/><stop offset="0.4615" stop-color="#fff" stop-opacity="0.03"/><stop offset="0.4615" stop-color="#fff" stop-opacity="0.03"/><stop offset="0.4872" stop-color="#fff" stop-opacity="0.03"/><stop offset="0.4872" stop-color="#fff" stop-opacity="0.01"/><stop offset="0.5128" stop-color="#fff" stop-opacity="0.01"/><stop offset="0.5128" stop-color="#fff" stop-opacity="0.03"/><stop offset="0.5385" stop-color="#fff" stop-opacity="0.03"/><stop offset="0.5385" stop-color="#fff" stop-opacity="0.01"/><stop offset="0.5641" stop-color="#fff" stop-opacity="0.01"/><stop offset="0.5641" stop-color="#fff" stop-opacity="0.03"/><stop offset="0.5897" stop-color="#fff" stop-opacity="0.03"/><stop offset="0.5897" stop-color="#fff" stop-opacity="0.03"/><stop offset="0.6154" stop-color="#fff" stop-opacity="0.03"/><stop offset="0.6154" stop-color="#fff" stop-opacity="0.02"/><stop offset="0.6410" stop-color="#fff" stop-opacity="0.02"/><stop offset="0.6410" stop-color="#fff" stop-opacity="0.01"/><stop offset="0.6667" stop-color="#fff" stop-opacity="0.01"/><stop offset="0.6667" stop-color="#fff" stop-opacity="0.02"/><stop offset="0.6923" stop-color="#fff" stop-opacity="0.02"/><stop offset="0.6923" stop-color="#fff" stop-opacity="0.01"/><stop offset="0.7179" stop-color="#fff" stop-opacity="0.01"/><stop offset="0.7179" stop-color="#fff" stop-opacity="0.01"/><stop offset="0.7436" stop-color="#fff" stop-opacity="0.01"/><stop offset="0.7436" stop-color="#fff" stop-opacity="0.01"/><stop offset="0.7692" stop-color="#fff" stop-opacity="0.01"/><stop offset="0.7692" stop-color="#fff" stop-opacity="0.05"/><stop offset="0.7949" stop-color="#fff" stop-opacity="0.05"/><stop offset="0.7949" stop-color="#fff" stop-opacity="0.03"/><stop offset="0.8205" stop-color="#fff" stop-opacity="0.03"/><stop offset="0.8205" stop-color="#fff" stop-opacity="0.05"/><stop offset="0.8462" stop-color="#fff" stop-opacity="0.05"/><stop offset="0.8462" stop-color="#fff" stop-opacity="0.00"/><stop offset="0.8718" stop-color="#fff" stop-opacity="0.00"/><stop offset="0.8718" stop-color="#fff" stop-opacity="0.06"/><stop offset="0.8974" stop-color="#fff" stop-opacity="0.06"/><stop offset="0.8974" stop-color="#fff" stop-opacity="0.03"/><stop offset="0.9231" stop-color="#fff" stop-opacity="0.03"/><stop offset="0.9231" stop-color="#fff" stop-opacity="0.05"/><stop offset="0.9487" stop-color="#fff" stop-opacity="0.05"/><stop offset="0.9487" stop-color="#fff" stop-opacity="0.03"/><stop offset="0.9744" stop-color="#fff" stop-opacity="0.03"/><stop offset="0.9744" stop-color="#fff" stop-opacity="0.04"/><stop offset="1.0000" stop-color="#fff" stop-opacity="0.04"/></linearGradient></defs>
<rect x="274.20" y="29.20" width="43.50" height="44.20" fill="url(#hg20)"/>
<defs><linearGradient id="hg21" x1="0" y1="0" x2="1" y2="0"><stop offset="0.0000" stop-color="#fff" stop-opacity="0.01"/><stop offset="0.0238" stop-color="#fff" stop-opacity="0.01"/><stop offset="0.0238" stop-color="#fff" stop-opacity="0.05"/><stop offset="0.0476" stop-color="#fff" stop-opacity="0.05"/><stop offset="0.0476" stop-color="#fff" stop-opacity="0.01"/><stop offset="0.0714" stop-color="#fff" stop-opacity="0.01"/><stop offset="0.0714" stop-color="#fff" stop-opacity="0.02"/><stop offset="0.0952" stop-color="#fff" stop-opacity="0.02"/><stop offset="0.0952" stop-color="#fff" stop-opacity="0.00"/><stop offset="0.1190" stop-color="#fff" stop-opacity="0.00"/><stop offset="0.1190" stop-color="#fff" stop-opacity="0.02"/><stop offset="0.1429" stop-color="#fff" stop-opacity="0.02"/><stop offset="0.1429" stop-color="#fff" stop-opacity="0.03"/><stop offset="0.1667" stop-color="#fff" stop-opacity="0.03"/><stop offset="0.1667" stop-color="#fff" stop-opacity="0.02"/><stop offset="0.1905" stop-color="#fff" stop-opacity="0.02"/><stop offset="0.1905" stop-color="#fff" stop-opacity="0.05"/><stop offset="0.2143" stop-color="#fff" stop-opacity="0.05"/><stop offset="0.2143" stop-color="#fff" stop-opacity="0.01"/><stop offset="0.2381" stop-color="#fff" stop-opacity="0.01"/><stop offset="0.2381" stop-color="#fff" stop-opacity="0.03"/><stop offset="0.2619" stop-color="#fff" stop-opacity="0.03"/><stop offset="0.2619" stop-color="#fff" stop-opacity="0.01"/><stop offset="0.2857" stop-color="#fff" stop-opacity="0.01"/><stop offset="0.2857" stop-color="#fff" stop-opacity="0.04"/><stop offset="0.3095" stop-color="#fff" stop-opacity="0.04"/><stop offset="0.3095" stop-color="#fff" stop-opacity="0.05"/><stop offset="0.3333" stop-color="#fff" stop-opacity="0.05"/><stop offset="0.3333" stop-color="#fff" stop-opacity="0.04"/><stop offset="0.3571" stop-color="#fff" stop-opacity="0.04"/><stop offset="0.3571" stop-color="#fff" stop-opacity="0.00"/><stop offset="0.3810" stop-color="#fff" stop-opacity="0.00"/><stop offset="0.3810" stop-color="#fff" stop-opacity="0.01"/><stop offset="0.4048" stop-color="#fff" stop-opacity="0.01"/><stop offset="0.4048" stop-color="#fff" stop-opacity="0.04"/><stop offset="0.4286" stop-color="#fff" stop-opacity="0.04"/><stop offset="0.4286" stop-color="#fff" stop-opacity="0.06"/><stop offset="0.4524" stop-color="#fff" stop-opacity="0.06"/><stop offset="0.4524" stop-color="#fff" stop-opacity="0.00"/><stop offset="0.4762" stop-color="#fff" stop-opacity="0.00"/><stop offset="0.4762" stop-color="#fff" stop-opacity="0.04"/><stop offset="0.5000" stop-color="#fff" stop-opacity="0.04"/><stop offset="0.5000" stop-color="#fff" stop-opacity="0.04"/><stop offset="0.5238" stop-color="#fff" stop-opacity="0.04"/><stop offset="0.5238" stop-color="#fff" stop-opacity="0.05"/><stop offset="0.5476" stop-color="#fff" stop-opacity="0.05"/><stop offset="0.5476" stop-color="#fff" stop-opacity="0.02"/><stop offset="0.5714" stop-color="#fff" stop-opacity="0.02"/><stop offset="0.5714" stop-color="#fff" stop-opacity="0.05"/><stop offset="0.5952" stop-color="#fff" stop-opacity="0.05"/><stop offset="0.5952" stop-color="#fff" stop-opacity="0.03"/><stop offset="0.6190" stop-color="#fff" stop-opacity="0.03"/><stop offset="0.6190" stop-color="#fff" stop-opacity="0.06"/><stop offset="0.6429" stop-color="#fff" stop-opacity="0.06"/><stop offset="0.6429" stop-color="#fff" stop-opacity="0.00"/><stop offset="0.6667" stop-color="#fff" stop-opacity="0.00"/><stop offset="0.6667" stop-color="#fff" stop-opacity="0.06"/><stop offset="0.6905" stop-color="#fff" stop-opacity="0.06"/><stop offset="0.6905" stop-color="#fff" stop-opacity="0.02"/><stop offset="0.7143" stop-color="#fff" stop-opacity="0.02"/><stop offset="0.7143" stop-color="#fff" stop-opacity="0.02"/><stop offset="0.7381" stop-color="#fff" stop-opacity="0.02"/><stop offset="0.7381" stop-color="#fff" stop-opacity="0.01"/><stop offset="0.7619" stop-color="#fff" stop-opacity="0.01"/><stop offset="0.7619" stop-color="#fff" stop-opacity="0.01"/><stop offset="0.7857" stop-color="#fff" stop-opacity="0.01"/><stop offset="0.7857" stop-color="#fff" stop-opacity="0.04"/><stop offset="0.8095" stop-color="#fff" stop-opacity="0.04"/><stop offset="0.8095" stop-color="#fff" stop-opacity="0.04"/><stop offset="0.8333" stop-color="#fff" stop-opacity="0.04"/><stop offset="0.8333" stop-color="#fff" stop-opacity="0.01"/><stop offset="0.8571" stop-color="#fff" stop-opacity="0.01"/><stop offset="0.8571" stop-color="#fff" stop-opacity="0.02"/><stop offset="0.8810" stop-color="#fff" stop-opacity="0.02"/><stop offset="0.8810" stop-color="#fff" stop-opacity="0.01"/><stop offset="0.9048" stop-color="#fff" stop-opacity="0.01"/><stop offset="0.9048" stop-color="#fff" stop-opacity="0.01"/><stop offset="0.9286" stop-color="#fff" stop-opacity="0.01"/><stop offset="0.9286" stop-color="#fff" stop-opacity="0.01"/><stop offset="0.9524" stop-color="#fff" stop-opacity="0.01"/><stop offset="0.9524" stop-color="#fff" stop-opacity="0.02"/><stop offset="0.9762" stop-color="#fff" stop-opacity="0.02"/><stop offset="0.9762" stop-color="#fff" stop-opacity="0.06"/><stop offset="1.0000" stop-color="#fff" stop-opacity="0.06"/></linearGradient></defs>
<rect x="130.00" y="75.10" width="46.30" height="18.20" fill="url(#hg21)"/>
<defs><linearGradient id="hg22" x1="0" y1="0" x2="1" y2="0"><stop offset="0.0000" stop-color="#fff" stop-opacity="0.06"/><stop offset="0.0250" stop-color="#fff" stop-opacity="0.06"/><stop offset="0.0250" stop-color="#fff" stop-opacity="0.05"/><stop offset="0.0500" stop-color="#fff" stop-opacity="0.05"/><stop offset="0.0500" stop-color="#fff" stop-opacity="0.03"/><stop offset="0.0750" stop-color="#fff" stop-opacity="0.03"/><stop offset="0.0750" stop-color="#fff" stop-opacity="0.03"/><stop offset="0.1000" stop-color="#fff" stop-opacity="0.03"/><stop offset="0.1000" stop-color="#fff" stop-opacity="0.05"/><stop offset="0.1250" stop-color="#fff" stop-opacity="0.05"/><stop offset="0.1250" stop-color="#fff" stop-opacity="0.05"/><stop offset="0.1500" stop-color="#fff" stop-opacity="0.05"/><stop offset="0.1500" stop-color="#fff" stop-opacity="0.05"/><stop offset="0.1750" stop-color="#fff" stop-opacity="0.05"/><stop offset="0.1750" stop-color="#fff" stop-opacity="0.04"/><stop offset="0.2000" stop-color="#fff" stop-opacity="0.04"/><stop offset="0.2000" stop-color="#fff" stop-opacity="0.01"/><stop offset="0.2250" stop-color="#fff" stop-opacity="0.01"/><stop offset="0.2250" stop-color="#fff" stop-opacity="0.04"/><stop offset="0.2500" stop-color="#fff" stop-opacity="0.04"/><stop offset="0.2500" stop-color="#fff" stop-opacity="0.05"/><stop offset="0.2750" stop-color="#fff" stop-opacity="0.05"/><stop offset="0.2750" stop-color="#fff" stop-opacity="0.05"/><stop offset="0.3000" stop-color="#fff" stop-opacity="0.05"/><stop offset="0.3000" stop-color="#fff" stop-opacity="0.01"/><stop offset="0.3250" stop-color="#fff" stop-opacity="0.01"/><stop offset="0.3250" stop-color="#fff" stop-opacity="0.04"/><stop offset="0.3500" stop-color="#fff" stop-opacity="0.04"/><stop offset="0.3500" stop-color="#fff" stop-opacity="0.02"/><stop offset="0.3750" stop-color="#fff" stop-opacity="0.02"/><stop offset="0.3750" stop-color="#fff" stop-opacity="0.01"/><stop offset="0.4000" stop-color="#fff" stop-opacity="0.01"/><stop offset="0.4000" stop-color="#fff" stop-opacity="0.06"/><stop offset="0.4250" stop-color="#fff" stop-opacity="0.06"/><stop offset="0.4250" stop-color="#fff" stop-opacity="0.04"/><stop offset="0.4500" stop-color="#fff" stop-opacity="0.04"/><stop offset="0.4500" stop-color="#fff" stop-opacity="0.04"/><stop offset="0.4750" stop-color="#fff" stop-opacity="0.04"/><stop offset="0.4750" stop-color="#fff" stop-opacity="0.01"/><stop offset="0.5000" stop-color="#fff" stop-opacity="0.01"/><stop offset="0.5000" stop-color="#fff" stop-opacity="0.05"/><stop offset="0.5250" stop-color="#fff" stop-opacity="0.05"/><stop offset="0.5250" stop-color="#fff" stop-opacity="0.06"/><stop offset="0.5500" stop-color="#fff" stop-opacity="0.06"/><stop offset="0.5500" stop-color="#fff" stop-opacity="0.05"/><stop offset="0.5750" stop-color="#fff" stop-opacity="0.05"/><stop offset="0.5750" stop-color="#fff" stop-opacity="0.04"/><stop offset="0.6000" stop-color="#fff" stop-opacity="0.04"/><stop offset="0.6000" stop-color="#fff" stop-opacity="0.05"/><stop offset="0.6250" stop-color="#fff" stop-opacity="0.05"/><stop offset="0.6250" stop-color="#fff" stop-opacity="0.05"/><stop offset="0.6500" stop-color="#fff" stop-opacity="0.05"/><stop offset="0.6500" stop-color="#fff" stop-opacity="0.04"/><stop offset="0.6750" stop-color="#fff" stop-opacity="0.04"/><stop offset="0.6750" stop-color="#fff" stop-opacity="0.03"/><stop offset="0.7000" stop-color="#fff" stop-opacity="0.03"/><stop offset="0.7000" stop-color="#fff" stop-opacity="0.05"/><stop offset="0.7250" stop-color="#fff" stop-opacity="0.05"/><stop offset="0.7250" stop-color="#fff" stop-opacity="0.05"/><stop offset="0.7500" stop-color="#fff" stop-opacity="0.05"/><stop offset="0.7500" stop-color="#fff" stop-opacity="0.05"/><stop offset="0.7750" stop-color="#fff" stop-opacity="0.05"/><stop offset="0.7750" stop-color="#fff" stop-opacity="0.02"/><stop offset="0.8000" stop-color="#fff" stop-opacity="0.02"/><stop offset="0.8000" stop-color="#fff" stop-opacity="0.06"/><stop offset="0.8250" stop-color="#fff" stop-opacity="0.06"/><stop offset="0.8250" stop-color="#fff" stop-opacity="0.03"/><stop offset="0.8500" stop-color="#fff" stop-opacity="0.03"/><stop offset="0.8500" stop-color="#fff" stop-opacity="0.06"/><stop offset="0.8750" stop-color="#fff" stop-opacity="0.06"/><stop offset="0.8750" stop-color="#fff" stop-opacity="0.01"/><stop offset="0.9000" stop-color="#fff" stop-opacity="0.01"/><stop offset="0.9000" stop-color="#fff" stop-opacity="0.06"/><stop offset="0.9250" stop-color="#fff" stop-opacity="0.06"/><stop offset="0.9250" stop-color="#fff" stop-opacity="0.05"/><stop offset="0.9500" stop-color="#fff" stop-opacity="0.05"/><stop offset="0.9500" stop-color="#fff" stop-opacity="0.02"/><stop offset="0.9750" stop-color="#fff" stop-opacity="0.02"/><stop offset="0.9750" stop-color="#fff" stop-opacity="0.05"/><stop offset="1.0000" stop-color="#fff" stop-opacity="0.05"/></linearGradient></defs>
<rect x="177.90" y="75.10" width="44.50" height="18.20" fill="url(#hg22)"/>
<defs><linearGradient id="hg23" x1="0" y1="0" x2="1" y2="0"><stop offset="0.0000" stop-color="#fff" stop-opacity="0.01"/><stop offset="0.0233" stop-color="#fff" stop-opacity="0.01"/><stop offset="0.0233" stop-color="#fff" stop-opacity="0.01"/><stop offset="0.0465" stop-color="#fff" stop-opacity="0.01"/><stop offset="0.0465" stop-color="#fff" stop-opacity="0.03"/><stop offset="0.0698" stop-color="#fff" stop-opacity="0.03"/><stop offset="0.0698" stop-color="#fff" stop-opacity="0.01"/><stop offset="0.0930" stop-color="#fff" stop-opacity="0.01"/><stop offset="0.0930" stop-color="#fff" stop-opacity="0.03"/><stop offset="0.1163" stop-color="#fff" stop-opacity="0.03"/><stop offset="0.1163" stop-color="#fff" stop-opacity="0.05"/><stop offset="0.1395" stop-color="#fff" stop-opacity="0.05"/><stop offset="0.1395" stop-color="#fff" stop-opacity="0.04"/><stop offset="0.1628" stop-color="#fff" stop-opacity="0.04"/><stop offset="0.1628" stop-color="#fff" stop-opacity="0.04"/><stop offset="0.1860" stop-color="#fff" stop-opacity="0.04"/><stop offset="0.1860" stop-color="#fff" stop-opacity="0.02"/><stop offset="0.2093" stop-color="#fff" stop-opacity="0.02"/><stop offset="0.2093" stop-color="#fff" stop-opacity="0.05"/><stop offset="0.2326" stop-color="#fff" stop-opacity="0.05"/><stop offset="0.2326" stop-color="#fff" stop-opacity="0.05"/><stop offset="0.2558" stop-color="#fff" stop-opacity="0.05"/><stop offset="0.2558" stop-color="#fff" stop-opacity="0.04"/><stop offset="0.2791" stop-color="#fff" stop-opacity="0.04"/><stop offset="0.2791" stop-color="#fff" stop-opacity="0.06"/><stop offset="0.3023" stop-color="#fff" stop-opacity="0.06"/><stop offset="0.3023" stop-color="#fff" stop-opacity="0.05"/><stop offset="0.3256" stop-color="#fff" stop-opacity="0.05"/><stop offset="0.3256" stop-color="#fff" stop-opacity="0.02"/><stop offset="0.3488" stop-color="#fff" stop-opacity="0.02"/><stop offset="0.3488" stop-color="#fff" stop-opacity="0.01"/><stop offset="0.3721" stop-color="#fff" stop-opacity="0.01"/><stop offset="0.3721" stop-color="#fff" stop-opacity="0.04"/><stop offset="0.3953" stop-color="#fff" stop-opacity="0.04"/><stop offset="0.3953" stop-color="#fff" stop-opacity="0.05"/><stop offset="0.4186" stop-color="#fff" stop-opacity="0.05"/><stop offset="0.4186" stop-color="#fff" stop-opacity="0.02"/><stop offset="0.4419" stop-color="#fff" stop-opacity="0.02"/><stop offset="0.4419" stop-color="#fff" stop-opacity="0.04"/><stop offset="0.4651" stop-color="#fff" stop-opacity="0.04"/><stop offset="0.4651" stop-color="#fff" stop-opacity="0.05"/><stop offset="0.4884" stop-color="#fff" stop-opacity="0.05"/><stop offset="0.4884" stop-color="#fff" stop-opacity="0.05"/><stop offset="0.5116" stop-color="#fff" stop-opacity="0.05"/><stop offset="0.5116" stop-color="#fff" stop-opacity="0.00"/><stop offset="0.5349" stop-color="#fff" stop-opacity="0.00"/><stop offset="0.5349" stop-color="#fff" stop-opacity="0.03"/><stop offset="0.5581" stop-color="#fff" stop-opacity="0.03"/><stop offset="0.5581" stop-color="#fff" stop-opacity="0.00"/><stop offset="0.5814" stop-color="#fff" stop-opacity="0.00"/><stop offset="0.5814" stop-color="#fff" stop-opacity="0.01"/><stop offset="0.6047" stop-color="#fff" stop-opacity="0.01"/><stop offset="0.6047" stop-color="#fff" stop-opacity="0.05"/><stop offset="0.6279" stop-color="#fff" stop-opacity="0.05"/><stop offset="0.6279" stop-color="#fff" stop-opacity="0.03"/><stop offset="0.6512" stop-color="#fff" stop-opacity="0.03"/><stop offset="0.6512" stop-color="#fff" stop-opacity="0.04"/><stop offset="0.6744" stop-color="#fff" stop-opacity="0.04"/><stop offset="0.6744" stop-color="#fff" stop-opacity="0.03"/><stop offset="0.6977" stop-color="#fff" stop-opacity="0.03"/><stop offset="0.6977" stop-color="#fff" stop-opacity="0.02"/><stop offset="0.7209" stop-color="#fff" stop-opacity="0.02"/><stop offset="0.7209" stop-color="#fff" stop-opacity="0.01"/><stop offset="0.7442" stop-color="#fff" stop-opacity="0.01"/><stop offset="0.7442" stop-color="#fff" stop-opacity="0.02"/><stop offset="0.7674" stop-color="#fff" stop-opacity="0.02"/><stop offset="0.7674" stop-color="#fff" stop-opacity="0.05"/><stop offset="0.7907" stop-color="#fff" stop-opacity="0.05"/><stop offset="0.7907" stop-color="#fff" stop-opacity="0.04"/><stop offset="0.8140" stop-color="#fff" stop-opacity="0.04"/><stop offset="0.8140" stop-color="#fff" stop-opacity="0.02"/><stop offset="0.8372" stop-color="#fff" stop-opacity="0.02"/><stop offset="0.8372" stop-color="#fff" stop-opacity="0.01"/><stop offset="0.8605" stop-color="#fff" stop-opacity="0.01"/><stop offset="0.8605" stop-color="#fff" stop-opacity="0.02"/><stop offset="0.8837" stop-color="#fff" stop-opacity="0.02"/><stop offset="0.8837" stop-color="#fff" stop-opacity="0.04"/><stop offset="0.9070" stop-color="#fff" stop-opacity="0.04"/><stop offset="0.9070" stop-color="#fff" stop-opacity="0.03"/><stop offset="0.9302" stop-color="#fff" stop-opacity="0.03"/><stop offset="0.9302" stop-color="#fff" stop-opacity="0.04"/><stop offset="0.9535" stop-color="#fff" stop-opacity="0.04"/><stop offset="0.9535" stop-color="#fff" stop-opacity="0.05"/><stop offset="0.9767" stop-color="#fff" stop-opacity="0.05"/><stop offset="0.9767" stop-color="#fff" stop-opacity="0.01"/><stop offset="1.0000" stop-color="#fff" stop-opacity="0.01"/></linearGradient></defs>
<rect x="224.40" y="75.10" width="48.10" height="18.20" fill="url(#hg23)"/>
<defs><linearGradient id="hg24" x1="0" y1="0" x2="1" y2="0"><stop offset="0.0000" stop-color="#fff" stop-opacity="0.04"/><stop offset="0.0256" stop-color="#fff" stop-opacity="0.04"/><stop offset="0.0256" stop-color="#fff" stop-opacity="0.00"/><stop offset="0.0513" stop-color="#fff" stop-opacity="0.00"/><stop offset="0.0513" stop-color="#fff" stop-opacity="0.05"/><stop offset="0.0769" stop-color="#fff" stop-opacity="0.05"/><stop offset="0.0769" stop-color="#fff" stop-opacity="0.01"/><stop offset="0.1026" stop-color="#fff" stop-opacity="0.01"/><stop offset="0.1026" stop-color="#fff" stop-opacity="0.02"/><stop offset="0.1282" stop-color="#fff" stop-opacity="0.02"/><stop offset="0.1282" stop-color="#fff" stop-opacity="0.06"/><stop offset="0.1538" stop-color="#fff" stop-opacity="0.06"/><stop offset="0.1538" stop-color="#fff" stop-opacity="0.02"/><stop offset="0.1795" stop-color="#fff" stop-opacity="0.02"/><stop offset="0.1795" stop-color="#fff" stop-opacity="0.01"/><stop offset="0.2051" stop-color="#fff" stop-opacity="0.01"/><stop offset="0.2051" stop-color="#fff" stop-opacity="0.05"/><stop offset="0.2308" stop-color="#fff" stop-opacity="0.05"/><stop offset="0.2308" stop-color="#fff" stop-opacity="0.04"/><stop offset="0.2564" stop-color="#fff" stop-opacity="0.04"/><stop offset="0.2564" stop-color="#fff" stop-opacity="0.05"/><stop offset="0.2821" stop-color="#fff" stop-opacity="0.05"/><stop offset="0.2821" stop-color="#fff" stop-opacity="0.02"/><stop offset="0.3077" stop-color="#fff" stop-opacity="0.02"/><stop offset="0.3077" stop-color="#fff" stop-opacity="0.03"/><stop offset="0.3333" stop-color="#fff" stop-opacity="0.03"/><stop offset="0.3333" stop-color="#fff" stop-opacity="0.06"/><stop offset="0.3590" stop-color="#fff" stop-opacity="0.06"/><stop offset="0.3590" stop-color="#fff" stop-opacity="0.03"/><stop offset="0.3846" stop-color="#fff" stop-opacity="0.03"/><stop offset="0.3846" stop-color="#fff" stop-opacity="0.06"/><stop offset="0.4103" stop-color="#fff" stop-opacity="0.06"/><stop offset="0.4103" stop-color="#fff" stop-opacity="0.01"/><stop offset="0.4359" stop-color="#fff" stop-opacity="0.01"/><stop offset="0.4359" stop-color="#fff" stop-opacity="0.05"/><stop offset="0.4615" stop-color="#fff" stop-opacity="0.05"/><stop offset="0.4615" stop-color="#fff" stop-opacity="0.01"/><stop offset="0.4872" stop-color="#fff" stop-opacity="0.01"/><stop offset="0.4872" stop-color="#fff" stop-opacity="0.03"/><stop offset="0.5128" stop-color="#fff" stop-opacity="0.03"/><stop offset="0.5128" stop-color="#fff" stop-opacity="0.00"/><stop offset="0.5385" stop-color="#fff" stop-opacity="0.00"/><stop offset="0.5385" stop-color="#fff" stop-opacity="0.01"/><stop offset="0.5641" stop-color="#fff" stop-opacity="0.01"/><stop offset="0.5641" stop-color="#fff" stop-opacity="0.06"/><stop offset="0.5897" stop-color="#fff" stop-opacity="0.06"/><stop offset="0.5897" stop-color="#fff" stop-opacity="0.03"/><stop offset="0.6154" stop-color="#fff" stop-opacity="0.03"/><stop offset="0.6154" stop-color="#fff" stop-opacity="0.05"/><stop offset="0.6410" stop-color="#fff" stop-opacity="0.05"/><stop offset="0.6410" stop-color="#fff" stop-opacity="0.02"/><stop offset="0.6667" stop-color="#fff" stop-opacity="0.02"/><stop offset="0.6667" stop-color="#fff" stop-opacity="0.02"/><stop offset="0.6923" stop-color="#fff" stop-opacity="0.02"/><stop offset="0.6923" stop-color="#fff" stop-opacity="0.01"/><stop offset="0.7179" stop-color="#fff" stop-opacity="0.01"/><stop offset="0.7179" stop-color="#fff" stop-opacity="0.03"/><stop offset="0.7436" stop-color="#fff" stop-opacity="0.03"/><stop offset="0.7436" stop-color="#fff" stop-opacity="0.05"/><stop offset="0.7692" stop-color="#fff" stop-opacity="0.05"/><stop offset="0.7692" stop-color="#fff" stop-opacity="0.03"/><stop offset="0.7949" stop-color="#fff" stop-opacity="0.03"/><stop offset="0.7949" stop-color="#fff" stop-opacity="0.02"/><stop offset="0.8205" stop-color="#fff" stop-opacity="0.02"/><stop offset="0.8205" stop-color="#fff" stop-opacity="0.06"/><stop offset="0.8462" stop-color="#fff" stop-opacity="0.06"/><stop offset="0.8462" stop-color="#fff" stop-opacity="0.05"/><stop offset="0.8718" stop-color="#fff" stop-opacity="0.05"/><stop offset="0.8718" stop-color="#fff" stop-opacity="0.04"/><stop offset="0.8974" stop-color="#fff" stop-opacity="0.04"/><stop offset="0.8974" stop-color="#fff" stop-opacity="0.00"/><stop offset="0.9231" stop-color="#fff" stop-opacity="0.00"/><stop offset="0.9231" stop-color="#fff" stop-opacity="0.04"/><stop offset="0.9487" stop-color="#fff" stop-opacity="0.04"/><stop offset="0.9487" stop-color="#fff" stop-opacity="0.03"/><stop offset="0.9744" stop-color="#fff" stop-opacity="0.03"/><stop offset="0.9744" stop-color="#fff" stop-opacity="0.06"/><stop offset="1.0000" stop-color="#fff" stop-opacity="0.06"/></linearGradient></defs>
<rect x="274.20" y="75.10" width="43.50" height="18.20" fill="url(#hg24)"/>
<defs><linearGradient id="hg25" x1="0" y1="0" x2="1" y2="0"><stop offset="0.0000" stop-color="#fff" stop-opacity="0.02"/><stop offset="0.0238" stop-color="#fff" stop-opacity="0.02"/><stop offset="0.0238" stop-color="#fff" stop-opacity="0.04"/><stop offset="0.0476" stop-color="#fff" stop-opacity="0.04"/><stop offset="0.0476" stop-color="#fff" stop-opacity="0.04"/><stop offset="0.0714" stop-color="#fff" stop-opacity="0.04"/><stop offset="0.0714" stop-color="#fff" stop-opacity="0.02"/><stop offset="0.0952" stop-color="#fff" stop-opacity="0.02"/><stop offset="0.0952" stop-color="#fff" stop-opacity="0.03"/><stop offset="0.1190" stop-color="#fff" stop-opacity="0.03"/><stop offset="0.1190" stop-color="#fff" stop-opacity="0.04"/><stop offset="0.1429" stop-color="#fff" stop-opacity="0.04"/><stop offset="0.1429" stop-color="#fff" stop-opacity="0.05"/><stop offset="0.1667" stop-color="#fff" stop-opacity="0.05"/><stop offset="0.1667" stop-color="#fff" stop-opacity="0.03"/><stop offset="0.1905" stop-color="#fff" stop-opacity="0.03"/><stop offset="0.1905" stop-color="#fff" stop-opacity="0.02"/><stop offset="0.2143" stop-color="#fff" stop-opacity="0.02"/><stop offset="0.2143" stop-color="#fff" stop-opacity="0.06"/><stop offset="0.2381" stop-color="#fff" stop-opacity="0.06"/><stop offset="0.2381" stop-color="#fff" stop-opacity="0.00"/><stop offset="0.2619" stop-color="#fff" stop-opacity="0.00"/><stop offset="0.2619" stop-color="#fff" stop-opacity="0.05"/><stop offset="0.2857" stop-color="#fff" stop-opacity="0.05"/><stop offset="0.2857" stop-color="#fff" stop-opacity="0.04"/><stop offset="0.3095" stop-color="#fff" stop-opacity="0.04"/><stop offset="0.3095" stop-color="#fff" stop-opacity="0.03"/><stop offset="0.3333" stop-color="#fff" stop-opacity="0.03"/><stop offset="0.3333" stop-color="#fff" stop-opacity="0.03"/><stop offset="0.3571" stop-color="#fff" stop-opacity="0.03"/><stop offset="0.3571" stop-color="#fff" stop-opacity="0.05"/><stop offset="0.3810" stop-color="#fff" stop-opacity="0.05"/><stop offset="0.3810" stop-color="#fff" stop-opacity="0.05"/><stop offset="0.4048" stop-color="#fff" stop-opacity="0.05"/><stop offset="0.4048" stop-color="#fff" stop-opacity="0.04"/><stop offset="0.4286" stop-color="#fff" stop-opacity="0.04"/><stop offset="0.4286" stop-color="#fff" stop-opacity="0.04"/><stop offset="0.4524" stop-color="#fff" stop-opacity="0.04"/><stop offset="0.4524" stop-color="#fff" stop-opacity="0.00"/><stop offset="0.4762" stop-color="#fff" stop-opacity="0.00"/><stop offset="0.4762" stop-color="#fff" stop-opacity="0.02"/><stop offset="0.5000" stop-color="#fff" stop-opacity="0.02"/><stop offset="0.5000" stop-color="#fff" stop-opacity="0.01"/><stop offset="0.5238" stop-color="#fff" stop-opacity="0.01"/><stop offset="0.5238" stop-color="#fff" stop-opacity="0.06"/><stop offset="0.5476" stop-color="#fff" stop-opacity="0.06"/><stop offset="0.5476" stop-color="#fff" stop-opacity="0.05"/><stop offset="0.5714" stop-color="#fff" stop-opacity="0.05"/><stop offset="0.5714" stop-color="#fff" stop-opacity="0.01"/><stop offset="0.5952" stop-color="#fff" stop-opacity="0.01"/><stop offset="0.5952" stop-color="#fff" stop-opacity="0.04"/><stop offset="0.6190" stop-color="#fff" stop-opacity="0.04"/><stop offset="0.6190" stop-color="#fff" stop-opacity="0.03"/><stop offset="0.6429" stop-color="#fff" stop-opacity="0.03"/><stop offset="0.6429" stop-color="#fff" stop-opacity="0.00"/><stop offset="0.6667" stop-color="#fff" stop-opacity="0.00"/><stop offset="0.6667" stop-color="#fff" stop-opacity="0.02"/><stop offset="0.6905" stop-color="#fff" stop-opacity="0.02"/><stop offset="0.6905" stop-color="#fff" stop-opacity="0.04"/><stop offset="0.7143" stop-color="#fff" stop-opacity="0.04"/><stop offset="0.7143" stop-color="#fff" stop-opacity="0.04"/><stop offset="0.7381" stop-color="#fff" stop-opacity="0.04"/><stop offset="0.7381" stop-color="#fff" stop-opacity="0.02"/><stop offset="0.7619" stop-color="#fff" stop-opacity="0.02"/><stop offset="0.7619" stop-color="#fff" stop-opacity="0.05"/><stop offset="0.7857" stop-color="#fff" stop-opacity="0.05"/><stop offset="0.7857" stop-color="#fff" stop-opacity="0.02"/><stop offset="0.8095" stop-color="#fff" stop-opacity="0.02"/><stop offset="0.8095" stop-color="#fff" stop-opacity="0.03"/><stop offset="0.8333" stop-color="#fff" stop-opacity="0.03"/><stop offset="0.8333" stop-color="#fff" stop-opacity="0.03"/><stop offset="0.8571" stop-color="#fff" stop-opacity="0.03"/><stop offset="0.8571" stop-color="#fff" stop-opacity="0.06"/><stop offset="0.8810" stop-color="#fff" stop-opacity="0.06"/><stop offset="0.8810" stop-color="#fff" stop-opacity="0.04"/><stop offset="0.9048" stop-color="#fff" stop-opacity="0.04"/><stop offset="0.9048" stop-color="#fff" stop-opacity="0.05"/><stop offset="0.9286" stop-color="#fff" stop-opacity="0.05"/><stop offset="0.9286" stop-color="#fff" stop-opacity="0.04"/><stop offset="0.9524" stop-color="#fff" stop-opacity="0.04"/><stop offset="0.9524" stop-color="#fff" stop-opacity="0.02"/><stop offset="0.9762" stop-color="#fff" stop-opacity="0.02"/><stop offset="0.9762" stop-color="#fff" stop-opacity="0.06"/><stop offset="1.0000" stop-color="#fff" stop-opacity="0.06"/></linearGradient></defs>
<rect x="130.00" y="94.90" width="46.30" height="56.50" fill="url(#hg25)"/>
<defs><linearGradient id="hg26" x1="0" y1="0" x2="1" y2="0"><stop offset="0.0000" stop-color="#fff" stop-opacity="0.04"/><stop offset="0.0250" stop-color="#fff" stop-opacity="0.04"/><stop offset="0.0250" stop-color="#fff" stop-opacity="0.04"/><stop offset="0.0500" stop-color="#fff" stop-opacity="0.04"/><stop offset="0.0500" stop-color="#fff" stop-opacity="0.02"/><stop offset="0.0750" stop-color="#fff" stop-opacity="0.02"/><stop offset="0.0750" stop-color="#fff" stop-opacity="0.01"/><stop offset="0.1000" stop-color="#fff" stop-opacity="0.01"/><stop offset="0.1000" stop-color="#fff" stop-opacity="0.03"/><stop offset="0.1250" stop-color="#fff" stop-opacity="0.03"/><stop offset="0.1250" stop-color="#fff" stop-opacity="0.05"/><stop offset="0.1500" stop-color="#fff" stop-opacity="0.05"/><stop offset="0.1500" stop-color="#fff" stop-opacity="0.05"/><stop offset="0.1750" stop-color="#fff" stop-opacity="0.05"/><stop offset="0.1750" stop-color="#fff" stop-opacity="0.02"/><stop offset="0.2000" stop-color="#fff" stop-opacity="0.02"/><stop offset="0.2000" stop-color="#fff" stop-opacity="0.01"/><stop offset="0.2250" stop-color="#fff" stop-opacity="0.01"/><stop offset="0.2250" stop-color="#fff" stop-opacity="0.03"/><stop offset="0.2500" stop-color="#fff" stop-opacity="0.03"/><stop offset="0.2500" stop-color="#fff" stop-opacity="0.05"/><stop offset="0.2750" stop-color="#fff" stop-opacity="0.05"/><stop offset="0.2750" stop-color="#fff" stop-opacity="0.01"/><stop offset="0.3000" stop-color="#fff" stop-opacity="0.01"/><stop offset="0.3000" stop-color="#fff" stop-opacity="0.04"/><stop offset="0.3250" stop-color="#fff" stop-opacity="0.04"/><stop offset="0.3250" stop-color="#fff" stop-opacity="0.01"/><stop offset="0.3500" stop-color="#fff" stop-opacity="0.01"/><stop offset="0.3500" stop-color="#fff" stop-opacity="0.02"/><stop offset="0.3750" stop-color="#fff" stop-opacity="0.02"/><stop offset="0.3750" stop-color="#fff" stop-opacity="0.00"/><stop offset="0.4000" stop-color="#fff" stop-opacity="0.00"/><stop offset="0.4000" stop-color="#fff" stop-opacity="0.02"/><stop offset="0.4250" stop-color="#fff" stop-opacity="0.02"/><stop offset="0.4250" stop-color="#fff" stop-opacity="0.02"/><stop offset="0.4500" stop-color="#fff" stop-opacity="0.02"/><stop offset="0.4500" stop-color="#fff" stop-opacity="0.06"/><stop offset="0.4750" stop-color="#fff" stop-opacity="0.06"/><stop offset="0.4750" stop-color="#fff" stop-opacity="0.06"/><stop offset="0.5000" stop-color="#fff" stop-opacity="0.06"/><stop offset="0.5000" stop-color="#fff" stop-opacity="0.01"/><stop offset="0.5250" stop-color="#fff" stop-opacity="0.01"/><stop offset="0.5250" stop-color="#fff" stop-opacity="0.02"/><stop offset="0.5500" stop-color="#fff" stop-opacity="0.02"/><stop offset="0.5500" stop-color="#fff" stop-opacity="0.06"/><stop offset="0.5750" stop-color="#fff" stop-opacity="0.06"/><stop offset="0.5750" stop-color="#fff" stop-opacity="0.01"/><stop offset="0.6000" stop-color="#fff" stop-opacity="0.01"/><stop offset="0.6000" stop-color="#fff" stop-opacity="0.02"/><stop offset="0.6250" stop-color="#fff" stop-opacity="0.02"/><stop offset="0.6250" stop-color="#fff" stop-opacity="0.03"/><stop offset="0.6500" stop-color="#fff" stop-opacity="0.03"/><stop offset="0.6500" stop-color="#fff" stop-opacity="0.01"/><stop offset="0.6750" stop-color="#fff" stop-opacity="0.01"/><stop offset="0.6750" stop-color="#fff" stop-opacity="0.02"/><stop offset="0.7000" stop-color="#fff" stop-opacity="0.02"/><stop offset="0.7000" stop-color="#fff" stop-opacity="0.02"/><stop offset="0.7250" stop-color="#fff" stop-opacity="0.02"/><stop offset="0.7250" stop-color="#fff" stop-opacity="0.02"/><stop offset="0.7500" stop-color="#fff" stop-opacity="0.02"/><stop offset="0.7500" stop-color="#fff" stop-opacity="0.06"/><stop offset="0.7750" stop-color="#fff" stop-opacity="0.06"/><stop offset="0.7750" stop-color="#fff" stop-opacity="0.02"/><stop offset="0.8000" stop-color="#fff" stop-opacity="0.02"/><stop offset="0.8000" stop-color="#fff" stop-opacity="0.01"/><stop offset="0.8250" stop-color="#fff" stop-opacity="0.01"/><stop offset="0.8250" stop-color="#fff" stop-opacity="0.05"/><stop offset="0.8500" stop-color="#fff" stop-opacity="0.05"/><stop offset="0.8500" stop-color="#fff" stop-opacity="0.03"/><stop offset="0.8750" stop-color="#fff" stop-opacity="0.03"/><stop offset="0.8750" stop-color="#fff" stop-opacity="0.05"/><stop offset="0.9000" stop-color="#fff" stop-opacity="0.05"/><stop offset="0.9000" stop-color="#fff" stop-opacity="0.04"/><stop offset="0.9250" stop-color="#fff" stop-opacity="0.04"/><stop offset="0.9250" stop-color="#fff" stop-opacity="0.05"/><stop offset="0.9500" stop-color="#fff" stop-opacity="0.05"/><stop offset="0.9500" stop-color="#fff" stop-opacity="0.02"/><stop offset="0.9750" stop-color="#fff" stop-opacity="0.02"/><stop offset="0.9750" stop-color="#fff" stop-opacity="0.01"/><stop offset="1.0000" stop-color="#fff" stop-opacity="0.01"/></linearGradient></defs>
<rect x="177.90" y="94.90" width="44.50" height="56.50" fill="url(#hg26)"/>
<defs><linearGradient id="hg27" x1="0" y1="0" x2="1" y2="0"><stop offset="0.0000" stop-color="#fff" stop-opacity="0.05"/><stop offset="0.0233" stop-color="#fff" stop-opacity="0.05"/><stop offset="0.0233" stop-color="#fff" stop-opacity="0.03"/><stop offset="0.0465" stop-color="#fff" stop-opacity="0.03"/><stop offset="0.0465" stop-color="#fff" stop-opacity="0.03"/><stop offset="0.0698" stop-color="#fff" stop-opacity="0.03"/><stop offset="0.0698" stop-color="#fff" stop-opacity="0.04"/><stop offset="0.0930" stop-color="#fff" stop-opacity="0.04"/><stop offset="0.0930" stop-color="#fff" stop-opacity="0.05"/><stop offset="0.1163" stop-color="#fff" stop-opacity="0.05"/><stop offset="0.1163" stop-color="#fff" stop-opacity="0.02"/><stop offset="0.1395" stop-color="#fff" stop-opacity="0.02"/><stop offset="0.1395" stop-color="#fff" stop-opacity="0.02"/><stop offset="0.1628" stop-color="#fff" stop-opacity="0.02"/><stop offset="0.1628" stop-color="#fff" stop-opacity="0.06"/><stop offset="0.1860" stop-color="#fff" stop-opacity="0.06"/><stop offset="0.1860" stop-color="#fff" stop-opacity="0.03"/><stop offset="0.2093" stop-color="#fff" stop-opacity="0.03"/><stop offset="0.2093" stop-color="#fff" stop-opacity="0.02"/><stop offset="0.2326" stop-color="#fff" stop-opacity="0.02"/><stop offset="0.2326" stop-color="#fff" stop-opacity="0.04"/><stop offset="0.2558" stop-color="#fff" stop-opacity="0.04"/><stop offset="0.2558" stop-color="#fff" stop-opacity="0.02"/><stop offset="0.2791" stop-color="#fff" stop-opacity="0.02"/><stop offset="0.2791" stop-color="#fff" stop-opacity="0.05"/><stop offset="0.3023" stop-color="#fff" stop-opacity="0.05"/><stop offset="0.3023" stop-color="#fff" stop-opacity="0.00"/><stop offset="0.3256" stop-color="#fff" stop-opacity="0.00"/><stop offset="0.3256" stop-color="#fff" stop-opacity="0.05"/><stop offset="0.3488" stop-color="#fff" stop-opacity="0.05"/><stop offset="0.3488" stop-color="#fff" stop-opacity="0.03"/><stop offset="0.3721" stop-color="#fff" stop-opacity="0.03"/><stop offset="0.3721" stop-color="#fff" stop-opacity="0.02"/><stop offset="0.3953" stop-color="#fff" stop-opacity="0.02"/><stop offset="0.3953" stop-color="#fff" stop-opacity="0.06"/><stop offset="0.4186" stop-color="#fff" stop-opacity="0.06"/><stop offset="0.4186" stop-color="#fff" stop-opacity="0.02"/><stop offset="0.4419" stop-color="#fff" stop-opacity="0.02"/><stop offset="0.4419" stop-color="#fff" stop-opacity="0.01"/><stop offset="0.4651" stop-color="#fff" stop-opacity="0.01"/><stop offset="0.4651" stop-color="#fff" stop-opacity="0.00"/><stop offset="0.4884" stop-color="#fff" stop-opacity="0.00"/><stop offset="0.4884" stop-color="#fff" stop-opacity="0.03"/><stop offset="0.5116" stop-color="#fff" stop-opacity="0.03"/><stop offset="0.5116" stop-color="#fff" stop-opacity="0.05"/><stop offset="0.5349" stop-color="#fff" stop-opacity="0.05"/><stop offset="0.5349" stop-color="#fff" stop-opacity="0.04"/><stop offset="0.5581" stop-color="#fff" stop-opacity="0.04"/><stop offset="0.5581" stop-color="#fff" stop-opacity="0.02"/><stop offset="0.5814" stop-color="#fff" stop-opacity="0.02"/><stop offset="0.5814" stop-color="#fff" stop-opacity="0.05"/><stop offset="0.6047" stop-color="#fff" stop-opacity="0.05"/><stop offset="0.6047" stop-color="#fff" stop-opacity="0.01"/><stop offset="0.6279" stop-color="#fff" stop-opacity="0.01"/><stop offset="0.6279" stop-color="#fff" stop-opacity="0.02"/><stop offset="0.6512" stop-color="#fff" stop-opacity="0.02"/><stop offset="0.6512" stop-color="#fff" stop-opacity="0.04"/><stop offset="0.6744" stop-color="#fff" stop-opacity="0.04"/><stop offset="0.6744" stop-color="#fff" stop-opacity="0.06"/><stop offset="0.6977" stop-color="#fff" stop-opacity="0.06"/><stop offset="0.6977" stop-color="#fff" stop-opacity="0.04"/><stop offset="0.7209" stop-color="#fff" stop-opacity="0.04"/><stop offset="0.7209" stop-color="#fff" stop-opacity="0.04"/><stop offset="0.7442" stop-color="#fff" stop-opacity="0.04"/><stop offset="0.7442" stop-color="#fff" stop-opacity="0.05"/><stop offset="0.7674" stop-color="#fff" stop-opacity="0.05"/><stop offset="0.7674" stop-color="#fff" stop-opacity="0.02"/><stop offset="0.7907" stop-color="#fff" stop-opacity="0.02"/><stop offset="0.7907" stop-color="#fff" stop-opacity="0.06"/><stop offset="0.8140" stop-color="#fff" stop-opacity="0.06"/><stop offset="0.8140" stop-color="#fff" stop-opacity="0.04"/><stop offset="0.8372" stop-color="#fff" stop-opacity="0.04"/><stop offset="0.8372" stop-color="#fff" stop-opacity="0.02"/><stop offset="0.8605" stop-color="#fff" stop-opacity="0.02"/><stop offset="0.8605" stop-color="#fff" stop-opacity="0.02"/><stop offset="0.8837" stop-color="#fff" stop-opacity="0.02"/><stop offset="0.8837" stop-color="#fff" stop-opacity="0.05"/><stop offset="0.9070" stop-color="#fff" stop-opacity="0.05"/><stop offset="0.9070" stop-color="#fff" stop-opacity="0.02"/><stop offset="0.9302" stop-color="#fff" stop-opacity="0.02"/><stop offset="0.9302" stop-color="#fff" stop-opacity="0.01"/><stop offset="0.9535" stop-color="#fff" stop-opacity="0.01"/><stop offset="0.9535" stop-color="#fff" stop-opacity="0.05"/><stop offset="0.9767" stop-color="#fff" stop-opacity="0.05"/><stop offset="0.9767" stop-color="#fff" stop-opacity="0.03"/><stop offset="1.0000" stop-color="#fff" stop-opacity="0.03"/></linearGradient></defs>
<rect x="224.40" y="94.90" width="48.10" height="56.50" fill="url(#hg27)"/>
<defs><linearGradient id="hg28" x1="0" y1="0" x2="1" y2="0"><stop offset="0.0000" stop-color="#fff" stop-opacity="0.03"/><stop offset="0.0256" stop-color="#fff" stop-opacity="0.03"/><stop offset="0.0256" stop-color="#fff" stop-opacity="0.04"/><stop offset="0.0513" stop-color="#fff" stop-opacity="0.04"/><stop offset="0.0513" stop-color="#fff" stop-opacity="0.05"/><stop offset="0.0769" stop-color="#fff" stop-opacity="0.05"/><stop offset="0.0769" stop-color="#fff" stop-opacity="0.01"/><stop offset="0.1026" stop-color="#fff" stop-opacity="0.01"/><stop offset="0.1026" stop-color="#fff" stop-opacity="0.02"/><stop offset="0.1282" stop-color="#fff" stop-opacity="0.02"/><stop offset="0.1282" stop-color="#fff" stop-opacity="0.00"/><stop offset="0.1538" stop-color="#fff" stop-opacity="0.00"/><stop offset="0.1538" stop-color="#fff" stop-opacity="0.02"/><stop offset="0.1795" stop-color="#fff" stop-opacity="0.02"/><stop offset="0.1795" stop-color="#fff" stop-opacity="0.03"/><stop offset="0.2051" stop-color="#fff" stop-opacity="0.03"/><stop offset="0.2051" stop-color="#fff" stop-opacity="0.05"/><stop offset="0.2308" stop-color="#fff" stop-opacity="0.05"/><stop offset="0.2308" stop-color="#fff" stop-opacity="0.04"/><stop offset="0.2564" stop-color="#fff" stop-opacity="0.04"/><stop offset="0.2564" stop-color="#fff" stop-opacity="0.03"/><stop offset="0.2821" stop-color="#fff" stop-opacity="0.03"/><stop offset="0.2821" stop-color="#fff" stop-opacity="0.02"/><stop offset="0.3077" stop-color="#fff" stop-opacity="0.02"/><stop offset="0.3077" stop-color="#fff" stop-opacity="0.03"/><stop offset="0.3333" stop-color="#fff" stop-opacity="0.03"/><stop offset="0.3333" stop-color="#fff" stop-opacity="0.02"/><stop offset="0.3590" stop-color="#fff" stop-opacity="0.02"/><stop offset="0.3590" stop-color="#fff" stop-opacity="0.05"/><stop offset="0.3846" stop-color="#fff" stop-opacity="0.05"/><stop offset="0.3846" stop-color="#fff" stop-opacity="0.05"/><stop offset="0.4103" stop-color="#fff" stop-opacity="0.05"/><stop offset="0.4103" stop-color="#fff" stop-opacity="0.05"/><stop offset="0.4359" stop-color="#fff" stop-opacity="0.05"/><stop offset="0.4359" stop-color="#fff" stop-opacity="0.01"/><stop offset="0.4615" stop-color="#fff" stop-opacity="0.01"/><stop offset="0.4615" stop-color="#fff" stop-opacity="0.04"/><stop offset="0.4872" stop-color="#fff" stop-opacity="0.04"/><stop offset="0.4872" stop-color="#fff" stop-opacity="0.05"/><stop offset="0.5128" stop-color="#fff" stop-opacity="0.05"/><stop offset="0.5128" stop-color="#fff" stop-opacity="0.03"/><stop offset="0.5385" stop-color="#fff" stop-opacity="0.03"/><stop offset="0.5385" stop-color="#fff" stop-opacity="0.05"/><stop offset="0.5641" stop-color="#fff" stop-opacity="0.05"/><stop offset="0.5641" stop-color="#fff" stop-opacity="0.05"/><stop offset="0.5897" stop-color="#fff" stop-opacity="0.05"/><stop offset="0.5897" stop-color="#fff" stop-opacity="0.04"/><stop offset="0.6154" stop-color="#fff" stop-opacity="0.04"/><stop offset="0.6154" stop-color="#fff" stop-opacity="0.05"/><stop offset="0.6410" stop-color="#fff" stop-opacity="0.05"/><stop offset="0.6410" stop-color="#fff" stop-opacity="0.04"/><stop offset="0.6667" stop-color="#fff" stop-opacity="0.04"/><stop offset="0.6667" stop-color="#fff" stop-opacity="0.05"/><stop offset="0.6923" stop-color="#fff" stop-opacity="0.05"/><stop offset="0.6923" stop-color="#fff" stop-opacity="0.01"/><stop offset="0.7179" stop-color="#fff" stop-opacity="0.01"/><stop offset="0.7179" stop-color="#fff" stop-opacity="0.04"/><stop offset="0.7436" stop-color="#fff" stop-opacity="0.04"/><stop offset="0.7436" stop-color="#fff" stop-opacity="0.04"/><stop offset="0.7692" stop-color="#fff" stop-opacity="0.04"/><stop offset="0.7692" stop-color="#fff" stop-opacity="0.04"/><stop offset="0.7949" stop-color="#fff" stop-opacity="0.04"/><stop offset="0.7949" stop-color="#fff" stop-opacity="0.02"/><stop offset="0.8205" stop-color="#fff" stop-opacity="0.02"/><stop offset="0.8205" stop-color="#fff" stop-opacity="0.00"/><stop offset="0.8462" stop-color="#fff" stop-opacity="0.00"/><stop offset="0.8462" stop-color="#fff" stop-opacity="0.04"/><stop offset="0.8718" stop-color="#fff" stop-opacity="0.04"/><stop offset="0.8718" stop-color="#fff" stop-opacity="0.05"/><stop offset="0.8974" stop-color="#fff" stop-opacity="0.05"/><stop offset="0.8974" stop-color="#fff" stop-opacity="0.02"/><stop offset="0.9231" stop-color="#fff" stop-opacity="0.02"/><stop offset="0.9231" stop-color="#fff" stop-opacity="0.01"/><stop offset="0.9487" stop-color="#fff" stop-opacity="0.01"/><stop offset="0.9487" stop-color="#fff" stop-opacity="0.01"/><stop offset="0.9744" stop-color="#fff" stop-opacity="0.01"/><stop offset="0.9744" stop-color="#fff" stop-opacity="0.01"/><stop offset="1.0000" stop-color="#fff" stop-opacity="0.01"/></linearGradient></defs>
<rect x="274.20" y="94.90" width="43.50" height="56.50" fill="url(#hg28)"/>
<defs><linearGradient id="hg29" x1="0" y1="0" x2="1" y2="0"><stop offset="0.0000" stop-color="#fff" stop-opacity="0.04"/><stop offset="0.0238" stop-color="#fff" stop-opacity="0.04"/><stop offset="0.0238" stop-color="#fff" stop-opacity="0.06"/><stop offset="0.0476" stop-color="#fff" stop-opacity="0.06"/><stop offset="0.0476" stop-color="#fff" stop-opacity="0.05"/><stop offset="0.0714" stop-color="#fff" stop-opacity="0.05"/><stop offset="0.0714" stop-color="#fff" stop-opacity="0.02"/><stop offset="0.0952" stop-color="#fff" stop-opacity="0.02"/><stop offset="0.0952" stop-color="#fff" stop-opacity="0.04"/><stop offset="0.1190" stop-color="#fff" stop-opacity="0.04"/><stop offset="0.1190" stop-color="#fff" stop-opacity="0.00"/><stop offset="0.1429" stop-color="#fff" stop-opacity="0.00"/><stop offset="0.1429" stop-color="#fff" stop-opacity="0.05"/><stop offset="0.1667" stop-color="#fff" stop-opacity="0.05"/><stop offset="0.1667" stop-color="#fff" stop-opacity="0.02"/><stop offset="0.1905" stop-color="#fff" stop-opacity="0.02"/><stop offset="0.1905" stop-color="#fff" stop-opacity="0.00"/><stop offset="0.2143" stop-color="#fff" stop-opacity="0.00"/><stop offset="0.2143" stop-color="#fff" stop-opacity="0.04"/><stop offset="0.2381" stop-color="#fff" stop-opacity="0.04"/><stop offset="0.2381" stop-color="#fff" stop-opacity="0.01"/><stop offset="0.2619" stop-color="#fff" stop-opacity="0.01"/><stop offset="0.2619" stop-color="#fff" stop-opacity="0.02"/><stop offset="0.2857" stop-color="#fff" stop-opacity="0.02"/><stop offset="0.2857" stop-color="#fff" stop-opacity="0.00"/><stop offset="0.3095" stop-color="#fff" stop-opacity="0.00"/><stop offset="0.3095" stop-color="#fff" stop-opacity="0.03"/><stop offset="0.3333" stop-color="#fff" stop-opacity="0.03"/><stop offset="0.3333" stop-color="#fff" stop-opacity="0.03"/><stop offset="0.3571" stop-color="#fff" stop-opacity="0.03"/><stop offset="0.3571" stop-color="#fff" stop-opacity="0.05"/><stop offset="0.3810" stop-color="#fff" stop-opacity="0.05"/><stop offset="0.3810" stop-color="#fff" stop-opacity="0.00"/><stop offset="0.4048" stop-color="#fff" stop-opacity="0.00"/><stop offset="0.4048" stop-color="#fff" stop-opacity="0.05"/><stop offset="0.4286" stop-color="#fff" stop-opacity="0.05"/><stop offset="0.4286" stop-color="#fff" stop-opacity="0.01"/><stop offset="0.4524" stop-color="#fff" stop-opacity="0.01"/><stop offset="0.4524" stop-color="#fff" stop-opacity="0.01"/><stop offset="0.4762" stop-color="#fff" stop-opacity="0.01"/><stop offset="0.4762" stop-color="#fff" stop-opacity="0.04"/><stop offset="0.5000" stop-color="#fff" stop-opacity="0.04"/><stop offset="0.5000" stop-color="#fff" stop-opacity="0.02"/><stop offset="0.5238" stop-color="#fff" stop-opacity="0.02"/><stop offset="0.5238" stop-color="#fff" stop-opacity="0.02"/><stop offset="0.5476" stop-color="#fff" stop-opacity="0.02"/><stop offset="0.5476" stop-color="#fff" stop-opacity="0.03"/><stop offset="0.5714" stop-color="#fff" stop-opacity="0.03"/><stop offset="0.5714" stop-color="#fff" stop-opacity="0.01"/><stop offset="0.5952" stop-color="#fff" stop-opacity="0.01"/><stop offset="0.5952" stop-color="#fff" stop-opacity="0.05"/><stop offset="0.6190" stop-color="#fff" stop-opacity="0.05"/><stop offset="0.6190" stop-color="#fff" stop-opacity="0.01"/><stop offset="0.6429" stop-color="#fff" stop-opacity="0.01"/><stop offset="0.6429" stop-color="#fff" stop-opacity="0.05"/><stop offset="0.6667" stop-color="#fff" stop-opacity="0.05"/><stop offset="0.6667" stop-color="#fff" stop-opacity="0.05"/><stop offset="0.6905" stop-color="#fff" stop-opacity="0.05"/><stop offset="0.6905" stop-color="#fff" stop-opacity="0.03"/><stop offset="0.7143" stop-color="#fff" stop-opacity="0.03"/><stop offset="0.7143" stop-color="#fff" stop-opacity="0.00"/><stop offset="0.7381" stop-color="#fff" stop-opacity="0.00"/><stop offset="0.7381" stop-color="#fff" stop-opacity="0.05"/><stop offset="0.7619" stop-color="#fff" stop-opacity="0.05"/><stop offset="0.7619" stop-color="#fff" stop-opacity="0.00"/><stop offset="0.7857" stop-color="#fff" stop-opacity="0.00"/><stop offset="0.7857" stop-color="#fff" stop-opacity="0.03"/><stop offset="0.8095" stop-color="#fff" stop-opacity="0.03"/><stop offset="0.8095" stop-color="#fff" stop-opacity="0.03"/><stop offset="0.8333" stop-color="#fff" stop-opacity="0.03"/><stop offset="0.8333" stop-color="#fff" stop-opacity="0.00"/><stop offset="0.8571" stop-color="#fff" stop-opacity="0.00"/><stop offset="0.8571" stop-color="#fff" stop-opacity="0.04"/><stop offset="0.8810" stop-color="#fff" stop-opacity="0.04"/><stop offset="0.8810" stop-color="#fff" stop-opacity="0.04"/><stop offset="0.9048" stop-color="#fff" stop-opacity="0.04"/><stop offset="0.9048" stop-color="#fff" stop-opacity="0.04"/><stop offset="0.9286" stop-color="#fff" stop-opacity="0.04"/><stop offset="0.9286" stop-color="#fff" stop-opacity="0.02"/><stop offset="0.9524" stop-color="#fff" stop-opacity="0.02"/><stop offset="0.9524" stop-color="#fff" stop-opacity="0.03"/><stop offset="0.9762" stop-color="#fff" stop-opacity="0.03"/><stop offset="0.9762" stop-color="#fff" stop-opacity="0.04"/><stop offset="1.0000" stop-color="#fff" stop-opacity="0.04"/></linearGradient></defs>
<rect x="130.00" y="153.30" width="46.30" height="40.50" fill="url(#hg29)"/>
<defs><linearGradient id="hg30" x1="0" y1="0" x2="1" y2="0"><stop offset="0.0000" stop-color="#fff" stop-opacity="0.01"/><stop offset="0.0250" stop-color="#fff" stop-opacity="0.01"/><stop offset="0.0250" stop-color="#fff" stop-opacity="0.05"/><stop offset="0.0500" stop-color="#fff" stop-opacity="0.05"/><stop offset="0.0500" stop-color="#fff" stop-opacity="0.06"/><stop offset="0.0750" stop-color="#fff" stop-opacity="0.06"/><stop offset="0.0750" stop-color="#fff" stop-opacity="0.05"/><stop offset="0.1000" stop-color="#fff" stop-opacity="0.05"/><stop offset="0.1000" stop-color="#fff" stop-opacity="0.06"/><stop offset="0.1250" stop-color="#fff" stop-opacity="0.06"/><stop offset="0.1250" stop-color="#fff" stop-opacity="0.02"/><stop offset="0.1500" stop-color="#fff" stop-opacity="0.02"/><stop offset="0.1500" stop-color="#fff" stop-opacity="0.06"/><stop offset="0.1750" stop-color="#fff" stop-opacity="0.06"/><stop offset="0.1750" stop-color="#fff" stop-opacity="0.00"/><stop offset="0.2000" stop-color="#fff" stop-opacity="0.00"/><stop offset="0.2000" stop-color="#fff" stop-opacity="0.03"/><stop offset="0.2250" stop-color="#fff" stop-opacity="0.03"/><stop offset="0.2250" stop-color="#fff" stop-opacity="0.01"/><stop offset="0.2500" stop-color="#fff" stop-opacity="0.01"/><stop offset="0.2500" stop-color="#fff" stop-opacity="0.03"/><stop offset="0.2750" stop-color="#fff" stop-opacity="0.03"/><stop offset="0.2750" stop-color="#fff" stop-opacity="0.04"/><stop offset="0.3000" stop-color="#fff" stop-opacity="0.04"/><stop offset="0.3000" stop-color="#fff" stop-opacity="0.04"/><stop offset="0.3250" stop-color="#fff" stop-opacity="0.04"/><stop offset="0.3250" stop-color="#fff" stop-opacity="0.03"/><stop offset="0.3500" stop-color="#fff" stop-opacity="0.03"/><stop offset="0.3500" stop-color="#fff" stop-opacity="0.02"/><stop offset="0.3750" stop-color="#fff" stop-opacity="0.02"/><stop offset="0.3750" stop-color="#fff" stop-opacity="0.01"/><stop offset="0.4000" stop-color="#fff" stop-opacity="0.01"/><stop offset="0.4000" stop-color="#fff" stop-opacity="0.02"/><stop offset="0.4250" stop-color="#fff" stop-opacity="0.02"/><stop offset="0.4250" stop-color="#fff" stop-opacity="0.02"/><stop offset="0.4500" stop-color="#fff" stop-opacity="0.02"/><stop offset="0.4500" stop-color="#fff" stop-opacity="0.01"/><stop offset="0.4750" stop-color="#fff" stop-opacity="0.01"/><stop offset="0.4750" stop-color="#fff" stop-opacity="0.04"/><stop offset="0.5000" stop-color="#fff" stop-opacity="0.04"/><stop offset="0.5000" stop-color="#fff" stop-opacity="0.03"/><stop offset="0.5250" stop-color="#fff" stop-opacity="0.03"/><stop offset="0.5250" stop-color="#fff" stop-opacity="0.03"/><stop offset="0.5500" stop-color="#fff" stop-opacity="0.03"/><stop offset="0.5500" stop-color="#fff" stop-opacity="0.01"/><stop offset="0.5750" stop-color="#fff" stop-opacity="0.01"/><stop offset="0.5750" stop-color="#fff" stop-opacity="0.04"/><stop offset="0.6000" stop-color="#fff" stop-opacity="0.04"/><stop offset="0.6000" stop-color="#fff" stop-opacity="0.01"/><stop offset="0.6250" stop-color="#fff" stop-opacity="0.01"/><stop offset="0.6250" stop-color="#fff" stop-opacity="0.02"/><stop offset="0.6500" stop-color="#fff" stop-opacity="0.02"/><stop offset="0.6500" stop-color="#fff" stop-opacity="0.03"/><stop offset="0.6750" stop-color="#fff" stop-opacity="0.03"/><stop offset="0.6750" stop-color="#fff" stop-opacity="0.04"/><stop offset="0.7000" stop-color="#fff" stop-opacity="0.04"/><stop offset="0.7000" stop-color="#fff" stop-opacity="0.06"/><stop offset="0.7250" stop-color="#fff" stop-opacity="0.06"/><stop offset="0.7250" stop-color="#fff" stop-opacity="0.04"/><stop offset="0.7500" stop-color="#fff" stop-opacity="0.04"/><stop offset="0.7500" stop-color="#fff" stop-opacity="0.06"/><stop offset="0.7750" stop-color="#fff" stop-opacity="0.06"/><stop offset="0.7750" stop-color="#fff" stop-opacity="0.06"/><stop offset="0.8000" stop-color="#fff" stop-opacity="0.06"/><stop offset="0.8000" stop-color="#fff" stop-opacity="0.04"/><stop offset="0.8250" stop-color="#fff" stop-opacity="0.04"/><stop offset="0.8250" stop-color="#fff" stop-opacity="0.04"/><stop offset="0.8500" stop-color="#fff" stop-opacity="0.04"/><stop offset="0.8500" stop-color="#fff" stop-opacity="0.00"/><stop offset="0.8750" stop-color="#fff" stop-opacity="0.00"/><stop offset="0.8750" stop-color="#fff" stop-opacity="0.01"/><stop offset="0.9000" stop-color="#fff" stop-opacity="0.01"/><stop offset="0.9000" stop-color="#fff" stop-opacity="0.00"/><stop offset="0.9250" stop-color="#fff" stop-opacity="0.00"/><stop offset="0.9250" stop-color="#fff" stop-opacity="0.05"/><stop offset="0.9500" stop-color="#fff" stop-opacity="0.05"/><stop offset="0.9500" stop-color="#fff" stop-opacity="0.04"/><stop offset="0.9750" stop-color="#fff" stop-opacity="0.04"/><stop offset="0.9750" stop-color="#fff" stop-opacity="0.04"/><stop offset="1.0000" stop-color="#fff" stop-opacity="0.04"/></linearGradient></defs>
<rect x="177.90" y="153.30" width="44.50" height="40.50" fill="url(#hg30)"/>
<defs><linearGradient id="hg31" x1="0" y1="0" x2="1" y2="0"><stop offset="0.0000" stop-color="#fff" stop-opacity="0.02"/><stop offset="0.0233" stop-color="#fff" stop-opacity="0.02"/><stop offset="0.0233" stop-color="#fff" stop-opacity="0.02"/><stop offset="0.0465" stop-color="#fff" stop-opacity="0.02"/><stop offset="0.0465" stop-color="#fff" stop-opacity="0.01"/><stop offset="0.0698" stop-color="#fff" stop-opacity="0.01"/><stop offset="0.0698" stop-color="#fff" stop-opacity="0.04"/><stop offset="0.0930" stop-color="#fff" stop-opacity="0.04"/><stop offset="0.0930" stop-color="#fff" stop-opacity="0.06"/><stop offset="0.1163" stop-color="#fff" stop-opacity="0.06"/><stop offset="0.1163" stop-color="#fff" stop-opacity="0.02"/><stop offset="0.1395" stop-color="#fff" stop-opacity="0.02"/><stop offset="0.1395" stop-color="#fff" stop-opacity="0.00"/><stop offset="0.1628" stop-color="#fff" stop-opacity="0.00"/><stop offset="0.1628" stop-color="#fff" stop-opacity="0.01"/><stop offset="0.1860" stop-color="#fff" stop-opacity="0.01"/><stop offset="0.1860" stop-color="#fff" stop-opacity="0.02"/><stop offset="0.2093" stop-color="#fff" stop-opacity="0.02"/><stop offset="0.2093" stop-color="#fff" stop-opacity="0.05"/><stop offset="0.2326" stop-color="#fff" stop-opacity="0.05"/><stop offset="0.2326" stop-color="#fff" stop-opacity="0.05"/><stop offset="0.2558" stop-color="#fff" stop-opacity="0.05"/><stop offset="0.2558" stop-color="#fff" stop-opacity="0.03"/><stop offset="0.2791" stop-color="#fff" stop-opacity="0.03"/><stop offset="0.2791" stop-color="#fff" stop-opacity="0.01"/><stop offset="0.3023" stop-color="#fff" stop-opacity="0.01"/><stop offset="0.3023" stop-color="#fff" stop-opacity="0.01"/><stop offset="0.3256" stop-color="#fff" stop-opacity="0.01"/><stop offset="0.3256" stop-color="#fff" stop-opacity="0.01"/><stop offset="0.3488" stop-color="#fff" stop-opacity="0.01"/><stop offset="0.3488" stop-color="#fff" stop-opacity="0.05"/><stop offset="0.3721" stop-color="#fff" stop-opacity="0.05"/><stop offset="0.3721" stop-color="#fff" stop-opacity="0.03"/><stop offset="0.3953" stop-color="#fff" stop-opacity="0.03"/><stop offset="0.3953" stop-color="#fff" stop-opacity="0.06"/><stop offset="0.4186" stop-color="#fff" stop-opacity="0.06"/><stop offset="0.4186" stop-color="#fff" stop-opacity="0.05"/><stop offset="0.4419" stop-color="#fff" stop-opacity="0.05"/><stop offset="0.4419" stop-color="#fff" stop-opacity="0.05"/><stop offset="0.4651" stop-color="#fff" stop-opacity="0.05"/><stop offset="0.4651" stop-color="#fff" stop-opacity="0.03"/><stop offset="0.4884" stop-color="#fff" stop-opacity="0.03"/><stop offset="0.4884" stop-color="#fff" stop-opacity="0.05"/><stop offset="0.5116" stop-color="#fff" stop-opacity="0.05"/><stop offset="0.5116" stop-color="#fff" stop-opacity="0.01"/><stop offset="0.5349" stop-color="#fff" stop-opacity="0.01"/><stop offset="0.5349" stop-color="#fff" stop-opacity="0.01"/><stop offset="0.5581" stop-color="#fff" stop-opacity="0.01"/><stop offset="0.5581" stop-color="#fff" stop-opacity="0.03"/><stop offset="0.5814" stop-color="#fff" stop-opacity="0.03"/><stop offset="0.5814" stop-color="#fff" stop-opacity="0.03"/><stop offset="0.6047" stop-color="#fff" stop-opacity="0.03"/><stop offset="0.6047" stop-color="#fff" stop-opacity="0.01"/><stop offset="0.6279" stop-color="#fff" stop-opacity="0.01"/><stop offset="0.6279" stop-color="#fff" stop-opacity="0.02"/><stop offset="0.6512" stop-color="#fff" stop-opacity="0.02"/><stop offset="0.6512" stop-color="#fff" stop-opacity="0.00"/><stop offset="0.6744" stop-color="#fff" stop-opacity="0.00"/><stop offset="0.6744" stop-color="#fff" stop-opacity="0.05"/><stop offset="0.6977" stop-color="#fff" stop-opacity="0.05"/><stop offset="0.6977" stop-color="#fff" stop-opacity="0.04"/><stop offset="0.7209" stop-color="#fff" stop-opacity="0.04"/><stop offset="0.7209" stop-color="#fff" stop-opacity="0.06"/><stop offset="0.7442" stop-color="#fff" stop-opacity="0.06"/><stop offset="0.7442" stop-color="#fff" stop-opacity="0.06"/><stop offset="0.7674" stop-color="#fff" stop-opacity="0.06"/><stop offset="0.7674" stop-color="#fff" stop-opacity="0.03"/><stop offset="0.7907" stop-color="#fff" stop-opacity="0.03"/><stop offset="0.7907" stop-color="#fff" stop-opacity="0.04"/><stop offset="0.8140" stop-color="#fff" stop-opacity="0.04"/><stop offset="0.8140" stop-color="#fff" stop-opacity="0.02"/><stop offset="0.8372" stop-color="#fff" stop-opacity="0.02"/><stop offset="0.8372" stop-color="#fff" stop-opacity="0.05"/><stop offset="0.8605" stop-color="#fff" stop-opacity="0.05"/><stop offset="0.8605" stop-color="#fff" stop-opacity="0.05"/><stop offset="0.8837" stop-color="#fff" stop-opacity="0.05"/><stop offset="0.8837" stop-color="#fff" stop-opacity="0.01"/><stop offset="0.9070" stop-color="#fff" stop-opacity="0.01"/><stop offset="0.9070" stop-color="#fff" stop-opacity="0.00"/><stop offset="0.9302" stop-color="#fff" stop-opacity="0.00"/><stop offset="0.9302" stop-color="#fff" stop-opacity="0.01"/><stop offset="0.9535" stop-color="#fff" stop-opacity="0.01"/><stop offset="0.9535" stop-color="#fff" stop-opacity="0.04"/><stop offset="0.9767" stop-color="#fff" stop-opacity="0.04"/><stop offset="0.9767" stop-color="#fff" stop-opacity="0.02"/><stop offset="1.0000" stop-color="#fff" stop-opacity="0.02"/></linearGradient></defs>
<rect x="224.40" y="153.30" width="48.10" height="40.50" fill="url(#hg31)"/>
<defs><linearGradient id="hg32" x1="0" y1="0" x2="1" y2="0"><stop offset="0.0000" stop-color="#fff" stop-opacity="0.00"/><stop offset="0.0256" stop-color="#fff" stop-opacity="0.00"/><stop offset="0.0256" stop-color="#fff" stop-opacity="0.05"/><stop offset="0.0513" stop-color="#fff" stop-opacity="0.05"/><stop offset="0.0513" stop-color="#fff" stop-opacity="0.05"/><stop offset="0.0769" stop-color="#fff" stop-opacity="0.05"/><stop offset="0.0769" stop-color="#fff" stop-opacity="0.03"/><stop offset="0.1026" stop-color="#fff" stop-opacity="0.03"/><stop offset="0.1026" stop-color="#fff" stop-opacity="0.00"/><stop offset="0.1282" stop-color="#fff" stop-opacity="0.00"/><stop offset="0.1282" stop-color="#fff" stop-opacity="0.05"/><stop offset="0.1538" stop-color="#fff" stop-opacity="0.05"/><stop offset="0.1538" stop-color="#fff" stop-opacity="0.03"/><stop offset="0.1795" stop-color="#fff" stop-opacity="0.03"/><stop offset="0.1795" stop-color="#fff" stop-opacity="0.00"/><stop offset="0.2051" stop-color="#fff" stop-opacity="0.00"/><stop offset="0.2051" stop-color="#fff" stop-opacity="0.02"/><stop offset="0.2308" stop-color="#fff" stop-opacity="0.02"/><stop offset="0.2308" stop-color="#fff" stop-opacity="0.04"/><stop offset="0.2564" stop-color="#fff" stop-opacity="0.04"/><stop offset="0.2564" stop-color="#fff" stop-opacity="0.05"/><stop offset="0.2821" stop-color="#fff" stop-opacity="0.05"/><stop offset="0.2821" stop-color="#fff" stop-opacity="0.03"/><stop offset="0.3077" stop-color="#fff" stop-opacity="0.03"/><stop offset="0.3077" stop-color="#fff" stop-opacity="0.04"/><stop offset="0.3333" stop-color="#fff" stop-opacity="0.04"/><stop offset="0.3333" stop-color="#fff" stop-opacity="0.01"/><stop offset="0.3590" stop-color="#fff" stop-opacity="0.01"/><stop offset="0.3590" stop-color="#fff" stop-opacity="0.01"/><stop offset="0.3846" stop-color="#fff" stop-opacity="0.01"/><stop offset="0.3846" stop-color="#fff" stop-opacity="0.05"/><stop offset="0.4103" stop-color="#fff" stop-opacity="0.05"/><stop offset="0.4103" stop-color="#fff" stop-opacity="0.02"/><stop offset="0.4359" stop-color="#fff" stop-opacity="0.02"/><stop offset="0.4359" stop-color="#fff" stop-opacity="0.01"/><stop offset="0.4615" stop-color="#fff" stop-opacity="0.01"/><stop offset="0.4615" stop-color="#fff" stop-opacity="0.04"/><stop offset="0.4872" stop-color="#fff" stop-opacity="0.04"/><stop offset="0.4872" stop-color="#fff" stop-opacity="0.01"/><stop offset="0.5128" stop-color="#fff" stop-opacity="0.01"/><stop offset="0.5128" stop-color="#fff" stop-opacity="0.01"/><stop offset="0.5385" stop-color="#fff" stop-opacity="0.01"/><stop offset="0.5385" stop-color="#fff" stop-opacity="0.03"/><stop offset="0.5641" stop-color="#fff" stop-opacity="0.03"/><stop offset="0.5641" stop-color="#fff" stop-opacity="0.04"/><stop offset="0.5897" stop-color="#fff" stop-opacity="0.04"/><stop offset="0.5897" stop-color="#fff" stop-opacity="0.04"/><stop offset="0.6154" stop-color="#fff" stop-opacity="0.04"/><stop offset="0.6154" stop-color="#fff" stop-opacity="0.04"/><stop offset="0.6410" stop-color="#fff" stop-opacity="0.04"/><stop offset="0.6410" stop-color="#fff" stop-opacity="0.03"/><stop offset="0.6667" stop-color="#fff" stop-opacity="0.03"/><stop offset="0.6667" stop-color="#fff" stop-opacity="0.00"/><stop offset="0.6923" stop-color="#fff" stop-opacity="0.00"/><stop offset="0.6923" stop-color="#fff" stop-opacity="0.04"/><stop offset="0.7179" stop-color="#fff" stop-opacity="0.04"/><stop offset="0.7179" stop-color="#fff" stop-opacity="0.00"/><stop offset="0.7436" stop-color="#fff" stop-opacity="0.00"/><stop offset="0.7436" stop-color="#fff" stop-opacity="0.03"/><stop offset="0.7692" stop-color="#fff" stop-opacity="0.03"/><stop offset="0.7692" stop-color="#fff" stop-opacity="0.02"/><stop offset="0.7949" stop-color="#fff" stop-opacity="0.02"/><stop offset="0.7949" stop-color="#fff" stop-opacity="0.04"/><stop offset="0.8205" stop-color="#fff" stop-opacity="0.04"/><stop offset="0.8205" stop-color="#fff" stop-opacity="0.04"/><stop offset="0.8462" stop-color="#fff" stop-opacity="0.04"/><stop offset="0.8462" stop-color="#fff" stop-opacity="0.01"/><stop offset="0.8718" stop-color="#fff" stop-opacity="0.01"/><stop offset="0.8718" stop-color="#fff" stop-opacity="0.04"/><stop offset="0.8974" stop-color="#fff" stop-opacity="0.04"/><stop offset="0.8974" stop-color="#fff" stop-opacity="0.04"/><stop offset="0.9231" stop-color="#fff" stop-opacity="0.04"/><stop offset="0.9231" stop-color="#fff" stop-opacity="0.03"/><stop offset="0.9487" stop-color="#fff" stop-opacity="0.03"/><stop offset="0.9487" stop-color="#fff" stop-opacity="0.01"/><stop offset="0.9744" stop-color="#fff" stop-opacity="0.01"/><stop offset="0.9744" stop-color="#fff" stop-opacity="0.05"/><stop offset="1.0000" stop-color="#fff" stop-opacity="0.05"/></linearGradient></defs>
<rect x="274.20" y="153.30" width="43.50" height="40.50" fill="url(#hg32)"/>
<rect x="130.00" y="29.20" width="46.30" height="44.20" fill="none" stroke="#1a1a1a" stroke-width="0.9"/>
<rect x="177.90" y="75.10" width="44.50" height="18.20" fill="none" stroke="#1a1a1a" stroke-width="0.9"/>
<rect x="224.40" y="94.90" width="48.10" height="56.50" fill="none" stroke="#1a1a1a" stroke-width="0.9"/>
<rect x="274.20" y="153.30" width="43.50" height="40.50" fill="none" stroke="#1a1a1a" stroke-width="0.9"/>
<rect x="319.70" y="29.30" width="4.30" height="70.30" fill="url(#cbA)"/>
<text x="325.80" y="30.90" font-size="4.4" text-anchor="start" stroke="#333" stroke-width="0.22" fill="#333">1</text>
<text x="325.80" y="45.00" font-size="4.4" text-anchor="start" stroke="#333" stroke-width="0.22" fill="#333">0.8</text>
<text x="325.80" y="59.20" font-size="4.4" text-anchor="start" stroke="#333" stroke-width="0.22" fill="#333">0.6</text>
<text x="325.80" y="73.30" font-size="4.4" text-anchor="start" stroke="#333" stroke-width="0.22" fill="#333">0.4</text>
<text x="325.80" y="87.40" font-size="4.4" text-anchor="start" stroke="#333" stroke-width="0.22" fill="#333">0.2</text>
<text x="325.80" y="101.50" font-size="4.4" text-anchor="start" stroke="#333" stroke-width="0.22" fill="#333">0</text>
<text x="335.40" y="27.00" font-size="6.3" text-anchor="start" stroke="#333" stroke-width="0.22" fill="#333" textLength="73.5" lengthAdjust="spacingAndGlyphs" transform="rotate(90 335.40 27.00)">Normalized gene expression</text>
<rect x="15.40" y="35.30" width="108.40" height="15.30" fill="#fff" stroke="#333" stroke-width="0.75" rx="1.8"/>
<text x="17.00" y="41.42" font-size="5.3" text-anchor="start" font-weight="bold" textLength="104.4" lengthAdjust="spacingAndGlyphs">Nervous system development (1.81e-13)</text>
<text x="17.00" y="47.85" font-size="5.3" text-anchor="start" font-weight="bold" textLength="62.3" lengthAdjust="spacingAndGlyphs">Neurogenesis (2.78e-10)</text>
<line x1="126.52" y1="39.70" x2="130.00" y2="39.70" stroke="#222" stroke-width="0.9"/>
<path d="M123.80 39.70 L127.20 38.20 L127.20 41.20 Z" fill="#222"/>
<rect x="0.80" y="75.60" width="121.40" height="15.00" fill="#fff" stroke="#333" stroke-width="0.75" rx="1.8"/>
<text x="2.20" y="81.60" font-size="5.3" text-anchor="start" font-weight="bold" textLength="117.8" lengthAdjust="spacingAndGlyphs">Multicellular organism development (4.52e-7)</text>
<text x="2.20" y="87.90" font-size="5.3" text-anchor="start" font-weight="bold" textLength="72.0" lengthAdjust="spacingAndGlyphs">Cell differentiation (6.53e-7)</text>
<line x1="124.92" y1="80.60" x2="177.90" y2="80.60" stroke="#222" stroke-width="0.9"/>
<path d="M122.20 80.60 L125.60 79.10 L125.60 82.10 Z" fill="#222"/>
<rect x="24.40" y="108.60" width="98.70" height="15.80" fill="#fff" stroke="#333" stroke-width="0.75" rx="1.8"/>
<text x="27.00" y="114.92" font-size="5.3" text-anchor="start" font-weight="bold" textLength="87.7" lengthAdjust="spacingAndGlyphs">Meiotic nuclear division (4.52e-7)</text>
<text x="27.00" y="121.56" font-size="5.3" text-anchor="start" font-weight="bold" textLength="90.6" lengthAdjust="spacingAndGlyphs">Meiotic cell cycle process (6.53e-7)</text>
<line x1="125.82" y1="112.80" x2="224.40" y2="112.80" stroke="#222" stroke-width="0.9"/>
<path d="M123.10 112.80 L126.50 111.30 L126.50 114.30 Z" fill="#222"/>
<rect x="1.90" y="158.60" width="121.20" height="16.00" fill="#fff" stroke="#333" stroke-width="0.75" rx="1.8"/>
<text x="3.50" y="165.00" font-size="5.3" text-anchor="start" font-weight="bold" textLength="117.0" lengthAdjust="spacingAndGlyphs">Small molecule metabolic process (5.18e-20)</text>
<text x="3.50" y="171.72" font-size="5.3" text-anchor="start" font-weight="bold" textLength="109.7" lengthAdjust="spacingAndGlyphs">Organic acid metabolic process (4.17e-12)</text>
<line x1="125.82" y1="164.50" x2="274.20" y2="164.50" stroke="#222" stroke-width="0.9"/>
<path d="M123.10 164.50 L126.50 163.00 L126.50 166.00 Z" fill="#222"/>
<text x="347.10" y="11.90" font-size="13.8" text-anchor="start">B</text>
<defs>
<clipPath id="brclip"><path d="M0 0.2 C1 0.8 2 0.6 3 0.6 L11.3 0.6 C12.3 0.6 13.3 0.8 14.3 0.2 C14.3 1.2 13.8 2.2 13.1 2.6 C13.4 4.2 12.8 6.4 11.4 8.0 C10.2 9.4 8.8 10.2 7.15 10.2 C5.5 10.2 4.1 9.4 2.9 8.0 C1.5 6.4 0.9 4.2 1.2 2.6 C0.5 2.2 0 1.2 0 0.2 Z"/></clipPath>
<g id="brain"><path d="M0 0.2 C1 0.8 2 0.6 3 0.6 L11.3 0.6 C12.3 0.6 13.3 0.8 14.3 0.2 C14.3 1.2 13.8 2.2 13.1 2.6 C13.4 4.2 12.8 6.4 11.4 8.0 C10.2 9.4 8.8 10.2 7.15 10.2 C5.5 10.2 4.1 9.4 2.9 8.0 C1.5 6.4 0.9 4.2 1.2 2.6 C0.5 2.2 0 1.2 0 0.2 Z" fill="#f6e3e4"/>
<g clip-path="url(#brclip)" stroke="#dc9ba1" stroke-width="0.55"><line x1="2.5" y1="0" x2="2.5" y2="11"/><line x1="3.9" y1="0" x2="3.9" y2="11"/><line x1="5.3" y1="0" x2="5.3" y2="11"/><line x1="6.7" y1="0" x2="6.7" y2="11"/><line x1="8.1" y1="0" x2="8.1" y2="11"/><line x1="9.5" y1="0" x2="9.5" y2="11"/><line x1="10.9" y1="0" x2="10.9" y2="11"/><line x1="12.3" y1="0" x2="12.3" y2="11"/></g>
<path d="M0 0.2 C1 0.8 2 0.6 3 0.6 L11.3 0.6 C12.3 0.6 13.3 0.8 14.3 0.2 C14.3 1.2 13.8 2.2 13.1 2.6 C13.4 4.2 12.8 6.4 11.4 8.0 C10.2 9.4 8.8 10.2 7.15 10.2 C5.5 10.2 4.1 9.4 2.9 8.0 C1.5 6.4 0.9 4.2 1.2 2.6 C0.5 2.2 0 1.2 0 0.2 Z" fill="none" stroke="#d8979d" stroke-width="0.5"/></g>
<g id="pit"><path d="M3.6 5.2 C3.8 2.6 6 0.6 9.2 0.9" fill="none" stroke="#d9806c" stroke-width="1.2"/><path d="M5 3.4 C6 2 7.4 1.6 9 1.7" fill="none" stroke="#efc0b6" stroke-width="0.5"/>
<ellipse cx="3.5" cy="7.4" rx="3.3" ry="2.9" fill="#e07a58"/><ellipse cx="5.0" cy="7.6" rx="2.2" ry="2.6" fill="#a99393"/></g>
<g id="ova"><path d="M2.8 1.6 C3.9 1.4 4.4 2.6 4.2 4.4 C4.0 6.6 3.6 8.6 4.0 12.2 C3.6 13.2 1.6 13.4 1.0 12.6 C0.6 10.4 2.2 7 2.4 4.6 C2.5 3.2 2.3 2.2 2.8 1.6 Z" fill="#dc98a2"/>
<path d="M4.4 1.2 C3.6 3 4.2 5.6 5.6 7.6 L6.4 7 C5.2 5.2 4.8 3.2 5.4 1.4 Z" fill="#a8505a"/>
<path d="M5 2.4 C5.2 0.6 7.2 -0.1 8.3 0.7 C9.8 0 11.5 1.1 11.1 2.8 C12 4 11.1 5.9 9.8 5.9 C9.2 7.4 7.1 7.6 6.2 6.4 C4.8 6.4 4.2 4.8 5 3.8 C4.4 3.1 4.6 2.6 5 2.4 Z" fill="#eaa630"/></g>
<g id="liv"><path d="M0.4 5.2 C0.2 2 1.6 0.2 3.4 0.1 C5 0 6.2 1.2 7.6 2.6 C9.4 4.2 11.6 5.6 13.2 7.2 C14.2 8.4 13.8 10 12.2 10.6 C10 11.4 6 11.6 3.6 10.8 C1.6 10.2 0.6 8.4 0.4 5.2 Z" fill="#8e404a"/>
<path d="M1.6 8.6 C4 7.2 8.4 6.6 12.6 8.2" stroke="#7a3440" stroke-width="0.5" fill="none"/></g>
</defs>
<rect x="382.30" y="3.30" width="23.30" height="23.10" fill="#e9453f"/>
<rect x="405.55" y="3.30" width="23.30" height="23.10" fill="#e0a093"/>
<rect x="428.80" y="3.30" width="23.30" height="23.10" fill="#c6d0c8"/>
<rect x="405.55" y="26.35" width="23.30" height="23.10" fill="#dc8a82"/>
<rect x="428.80" y="26.35" width="23.30" height="23.10" fill="#e5d5bd"/>
<rect x="428.80" y="49.40" width="23.30" height="23.10" fill="#9abcd6"/>
<line x1="363.40" y1="3.50" x2="452.45" y2="3.50" stroke="#666" stroke-width="0.7"/>
<line x1="452.35" y1="3.30" x2="452.35" y2="91.30" stroke="#888" stroke-width="0.8"/>
<use href="#brain" transform="translate(364.70 8.90)"/>
<use href="#pit" transform="translate(389.50 32.30)"/>
<use href="#ova" transform="translate(412.10 54.50)"/>
<use href="#liv" transform="translate(434.10 76.80)"/>
<line x1="370.60" y1="48.10" x2="370.60" y2="86.90" stroke="#333" stroke-width="0.75"/>
<line x1="370.30" y1="87.00" x2="425.40" y2="87.00" stroke="#c4c4c4" stroke-width="1.3"/>
<line x1="369.30" y1="48.10" x2="370.60" y2="48.10" stroke="#444" stroke-width="0.5"/>
<text x="369.10" y="49.40" font-size="3.8" text-anchor="end" stroke="#555" stroke-width="0.22" fill="#555">1.0</text>
<line x1="369.30" y1="57.80" x2="370.60" y2="57.80" stroke="#444" stroke-width="0.5"/>
<line x1="369.30" y1="67.50" x2="370.60" y2="67.50" stroke="#444" stroke-width="0.5"/>
<text x="369.10" y="68.80" font-size="3.8" text-anchor="end" stroke="#555" stroke-width="0.22" fill="#555">0.5</text>
<line x1="369.30" y1="77.20" x2="370.60" y2="77.20" stroke="#444" stroke-width="0.5"/>
<line x1="369.30" y1="86.90" x2="370.60" y2="86.90" stroke="#444" stroke-width="0.5"/>
<text x="369.10" y="88.20" font-size="3.8" text-anchor="end" stroke="#555" stroke-width="0.22" fill="#555">0.0</text>
<line x1="381.60" y1="87.70" x2="381.60" y2="88.80" stroke="#444" stroke-width="0.6"/>
<line x1="398.00" y1="87.70" x2="398.00" y2="88.80" stroke="#444" stroke-width="0.6"/>
<line x1="414.50" y1="87.70" x2="414.50" y2="88.80" stroke="#444" stroke-width="0.6"/>
<text x="381.60" y="93.60" font-size="5.5" text-anchor="middle" font-weight="bold">Pre</text>
<text x="398.00" y="93.60" font-size="5.5" text-anchor="middle" font-weight="bold">Peak</text>
<text x="414.50" y="93.60" font-size="5.5" text-anchor="middle" font-weight="bold">Late</text>
<polyline points="381.40,82.60 397.80,48.60 414.30,82.60" fill="none" stroke="#1c1c1c" stroke-width="1.6" stroke-linejoin="miter"/>
<text x="360.30" y="66.00" font-size="5.9" text-anchor="middle" font-weight="bold" textLength="56.3" lengthAdjust="spacingAndGlyphs" transform="rotate(-90 360.30 66.00)">Relative expression</text>
<rect x="480.00" y="3.30" width="22.80" height="23.10" fill="#e83835"/>
<rect x="502.75" y="3.30" width="22.80" height="23.10" fill="#e0b8a6"/>
<rect x="525.50" y="3.30" width="22.80" height="23.10" fill="#b6c8d0"/>
<rect x="502.75" y="26.35" width="22.80" height="23.10" fill="#e2d8c2"/>
<rect x="525.50" y="26.35" width="22.80" height="23.10" fill="#d2d6c6"/>
<rect x="525.50" y="49.40" width="22.80" height="23.10" fill="#6396d0"/>
<line x1="461.10" y1="3.50" x2="548.65" y2="3.50" stroke="#666" stroke-width="0.7"/>
<line x1="548.55" y1="3.30" x2="548.55" y2="91.30" stroke="#888" stroke-width="0.8"/>
<use href="#brain" transform="translate(462.40 8.90)"/>
<use href="#pit" transform="translate(487.20 32.30)"/>
<use href="#ova" transform="translate(509.80 54.50)"/>
<use href="#liv" transform="translate(531.80 76.80)"/>
<line x1="467.50" y1="49.30" x2="467.50" y2="87.90" stroke="#333" stroke-width="0.75"/>
<line x1="467.20" y1="88.00" x2="522.90" y2="88.00" stroke="#c4c4c4" stroke-width="1.3"/>
<line x1="466.20" y1="49.30" x2="467.50" y2="49.30" stroke="#444" stroke-width="0.5"/>
<text x="466.00" y="50.60" font-size="3.8" text-anchor="end" stroke="#555" stroke-width="0.22" fill="#555">1.0</text>
<line x1="466.20" y1="58.95" x2="467.50" y2="58.95" stroke="#444" stroke-width="0.5"/>
<line x1="466.20" y1="68.60" x2="467.50" y2="68.60" stroke="#444" stroke-width="0.5"/>
<text x="466.00" y="69.90" font-size="3.8" text-anchor="end" stroke="#555" stroke-width="0.22" fill="#555">0.5</text>
<line x1="466.20" y1="78.25" x2="467.50" y2="78.25" stroke="#444" stroke-width="0.5"/>
<line x1="466.20" y1="87.90" x2="467.50" y2="87.90" stroke="#444" stroke-width="0.5"/>
<text x="466.00" y="89.20" font-size="3.8" text-anchor="end" stroke="#555" stroke-width="0.22" fill="#555">0.0</text>
<line x1="478.40" y1="88.70" x2="478.40" y2="89.80" stroke="#444" stroke-width="0.6"/>
<line x1="494.70" y1="88.70" x2="494.70" y2="89.80" stroke="#444" stroke-width="0.6"/>
<line x1="511.50" y1="88.70" x2="511.50" y2="89.80" stroke="#444" stroke-width="0.6"/>
<text x="478.40" y="94.00" font-size="5.5" text-anchor="middle" font-weight="bold">Pre</text>
<text x="494.70" y="94.00" font-size="5.5" text-anchor="middle" font-weight="bold">Peak</text>
<text x="511.50" y="94.00" font-size="5.5" text-anchor="middle" font-weight="bold">Late</text>
<polyline points="477.80,50.00 494.30,83.60 510.20,50.00" fill="none" stroke="#1c1c1c" stroke-width="1.6" stroke-linejoin="miter"/>
<text x="458.30" y="65.60" font-size="5.9" text-anchor="middle" font-weight="bold" textLength="56.3" lengthAdjust="spacingAndGlyphs" transform="rotate(-90 458.30 65.60)">Relative expression</text>
<rect x="570.00" y="3.30" width="23.40" height="23.10" fill="#e87e74"/>
<rect x="593.35" y="3.30" width="23.40" height="23.10" fill="#a8c0d2"/>
<rect x="616.70" y="3.30" width="23.40" height="23.10" fill="#e4dcc2"/>
<rect x="593.35" y="26.35" width="23.40" height="23.10" fill="#e8c2aa"/>
<rect x="616.70" y="26.35" width="23.40" height="23.10" fill="#8fb4d8"/>
<rect x="616.70" y="49.40" width="23.40" height="23.10" fill="#8fb4d8"/>
<line x1="551.10" y1="3.50" x2="640.45" y2="3.50" stroke="#666" stroke-width="0.7"/>
<line x1="640.35" y1="3.30" x2="640.35" y2="91.30" stroke="#888" stroke-width="0.8"/>
<use href="#brain" transform="translate(552.40 8.90)"/>
<use href="#pit" transform="translate(577.20 32.30)"/>
<use href="#ova" transform="translate(599.80 54.50)"/>
<use href="#liv" transform="translate(621.80 76.80)"/>
<line x1="563.30" y1="49.20" x2="563.30" y2="88.30" stroke="#333" stroke-width="0.75"/>
<line x1="563.00" y1="88.40" x2="618.10" y2="88.40" stroke="#c4c4c4" stroke-width="1.3"/>
<line x1="562.00" y1="49.20" x2="563.30" y2="49.20" stroke="#444" stroke-width="0.5"/>
<text x="561.80" y="50.50" font-size="3.8" text-anchor="end" stroke="#555" stroke-width="0.22" fill="#555">1.0</text>
<line x1="562.00" y1="58.98" x2="563.30" y2="58.98" stroke="#444" stroke-width="0.5"/>
<line x1="562.00" y1="68.75" x2="563.30" y2="68.75" stroke="#444" stroke-width="0.5"/>
<text x="561.80" y="70.05" font-size="3.8" text-anchor="end" stroke="#555" stroke-width="0.22" fill="#555">0.5</text>
<line x1="562.00" y1="78.53" x2="563.30" y2="78.53" stroke="#444" stroke-width="0.5"/>
<line x1="562.00" y1="88.30" x2="563.30" y2="88.30" stroke="#444" stroke-width="0.5"/>
<text x="561.80" y="89.60" font-size="3.8" text-anchor="end" stroke="#555" stroke-width="0.22" fill="#555">0.0</text>
<line x1="574.30" y1="89.10" x2="574.30" y2="90.20" stroke="#444" stroke-width="0.6"/>
<line x1="590.40" y1="89.10" x2="590.40" y2="90.20" stroke="#444" stroke-width="0.6"/>
<line x1="606.90" y1="89.10" x2="606.90" y2="90.20" stroke="#444" stroke-width="0.6"/>
<text x="574.30" y="94.00" font-size="5.5" text-anchor="middle" font-weight="bold">Pre</text>
<text x="590.40" y="94.00" font-size="5.5" text-anchor="middle" font-weight="bold">Peak</text>
<text x="606.90" y="94.00" font-size="5.5" text-anchor="middle" font-weight="bold">Late</text>
<polyline points="574.30,49.90 590.40,49.90 606.90,83.80" fill="none" stroke="#1c1c1c" stroke-width="1.6" stroke-linejoin="miter"/>
<text x="554.80" y="65.90" font-size="5.9" text-anchor="middle" font-weight="bold" textLength="56.3" lengthAdjust="spacingAndGlyphs" transform="rotate(-90 554.80 65.90)">Relative expression</text>
<rect x="382.00" y="95.40" width="23.50" height="23.35" fill="#e89a8e"/>
<rect x="405.45" y="95.40" width="23.50" height="23.35" fill="#d6d6ca"/>
<rect x="428.90" y="95.40" width="23.50" height="23.35" fill="#dcdcc4"/>
<rect x="405.45" y="118.70" width="23.50" height="23.35" fill="#dcdcc4"/>
<rect x="428.90" y="118.70" width="23.50" height="23.35" fill="#dcdcc4"/>
<rect x="428.90" y="142.00" width="23.50" height="23.35" fill="#b4c8d0"/>
<line x1="363.30" y1="95.60" x2="452.75" y2="95.60" stroke="#666" stroke-width="0.7"/>
<line x1="452.65" y1="95.40" x2="452.65" y2="183.40" stroke="#888" stroke-width="0.8"/>
<use href="#brain" transform="translate(364.40 101.00)"/>
<use href="#pit" transform="translate(389.20 124.40)"/>
<use href="#ova" transform="translate(411.80 146.60)"/>
<use href="#liv" transform="translate(433.80 168.90)"/>
<line x1="366.40" y1="142.00" x2="366.40" y2="180.60" stroke="#333" stroke-width="0.75"/>
<line x1="366.10" y1="180.70" x2="421.50" y2="180.70" stroke="#c4c4c4" stroke-width="1.3"/>
<line x1="365.10" y1="142.00" x2="366.40" y2="142.00" stroke="#444" stroke-width="0.5"/>
<text x="364.90" y="143.30" font-size="3.8" text-anchor="end" stroke="#555" stroke-width="0.22" fill="#555">1.0</text>
<line x1="365.10" y1="151.65" x2="366.40" y2="151.65" stroke="#444" stroke-width="0.5"/>
<line x1="365.10" y1="161.30" x2="366.40" y2="161.30" stroke="#444" stroke-width="0.5"/>
<text x="364.90" y="162.60" font-size="3.8" text-anchor="end" stroke="#555" stroke-width="0.22" fill="#555">0.5</text>
<line x1="365.10" y1="170.95" x2="366.40" y2="170.95" stroke="#444" stroke-width="0.5"/>
<line x1="365.10" y1="180.60" x2="366.40" y2="180.60" stroke="#444" stroke-width="0.5"/>
<text x="364.90" y="181.90" font-size="3.8" text-anchor="end" stroke="#555" stroke-width="0.22" fill="#555">0.0</text>
<line x1="377.70" y1="181.40" x2="377.70" y2="182.50" stroke="#444" stroke-width="0.6"/>
<line x1="394.00" y1="181.40" x2="394.00" y2="182.50" stroke="#444" stroke-width="0.6"/>
<line x1="410.50" y1="181.40" x2="410.50" y2="182.50" stroke="#444" stroke-width="0.6"/>
<text x="377.70" y="187.50" font-size="5.5" text-anchor="middle" font-weight="bold">Pre</text>
<text x="394.00" y="187.50" font-size="5.5" text-anchor="middle" font-weight="bold">Peak</text>
<text x="410.50" y="187.50" font-size="5.5" text-anchor="middle" font-weight="bold">Late</text>
<polyline points="377.70,177.00 394.00,176.60 410.50,142.30" fill="none" stroke="#1c1c1c" stroke-width="1.6" stroke-linejoin="miter"/>
<text x="357.30" y="162.30" font-size="5.9" text-anchor="middle" font-weight="bold" textLength="56.3" lengthAdjust="spacingAndGlyphs" transform="rotate(-90 357.30 162.30)">Relative expression</text>
<rect x="478.10" y="95.40" width="23.50" height="23.35" fill="#e8a090"/>
<rect x="501.55" y="95.40" width="23.50" height="23.35" fill="#dcd8c2"/>
<rect x="525.00" y="95.40" width="23.50" height="23.35" fill="#c4d0d0"/>
<rect x="501.55" y="118.70" width="23.50" height="23.35" fill="#e4b8a4"/>
<rect x="525.00" y="118.70" width="23.50" height="23.35" fill="#e4b8a4"/>
<rect x="525.00" y="142.00" width="23.50" height="23.35" fill="#98bcd6"/>
<line x1="459.00" y1="95.60" x2="548.85" y2="95.60" stroke="#666" stroke-width="0.7"/>
<line x1="548.75" y1="95.40" x2="548.75" y2="183.40" stroke="#888" stroke-width="0.8"/>
<use href="#brain" transform="translate(460.50 101.00)"/>
<use href="#pit" transform="translate(485.30 124.40)"/>
<use href="#ova" transform="translate(507.90 146.60)"/>
<use href="#liv" transform="translate(529.90 168.90)"/>
<line x1="467.50" y1="142.00" x2="467.50" y2="180.60" stroke="#333" stroke-width="0.75"/>
<line x1="467.20" y1="180.70" x2="522.50" y2="180.70" stroke="#c4c4c4" stroke-width="1.3"/>
<line x1="466.20" y1="142.00" x2="467.50" y2="142.00" stroke="#444" stroke-width="0.5"/>
<text x="466.00" y="143.30" font-size="3.8" text-anchor="end" stroke="#555" stroke-width="0.22" fill="#555">1.0</text>
<line x1="466.20" y1="151.65" x2="467.50" y2="151.65" stroke="#444" stroke-width="0.5"/>
<line x1="466.20" y1="161.30" x2="467.50" y2="161.30" stroke="#444" stroke-width="0.5"/>
<text x="466.00" y="162.60" font-size="3.8" text-anchor="end" stroke="#555" stroke-width="0.22" fill="#555">0.5</text>
<line x1="466.20" y1="170.95" x2="467.50" y2="170.95" stroke="#444" stroke-width="0.5"/>
<line x1="466.20" y1="180.60" x2="467.50" y2="180.60" stroke="#444" stroke-width="0.5"/>
<text x="466.00" y="181.90" font-size="3.8" text-anchor="end" stroke="#555" stroke-width="0.22" fill="#555">0.0</text>
<line x1="478.40" y1="181.40" x2="478.40" y2="182.50" stroke="#444" stroke-width="0.6"/>
<line x1="494.70" y1="181.40" x2="494.70" y2="182.50" stroke="#444" stroke-width="0.6"/>
<line x1="511.50" y1="181.40" x2="511.50" y2="182.50" stroke="#444" stroke-width="0.6"/>
<text x="478.40" y="187.40" font-size="5.5" text-anchor="middle" font-weight="bold">Pre</text>
<text x="494.70" y="187.40" font-size="5.5" text-anchor="middle" font-weight="bold">Peak</text>
<text x="511.50" y="187.40" font-size="5.5" text-anchor="middle" font-weight="bold">Late</text>
<polyline points="478.40,142.40 494.70,176.40 511.50,177.00" fill="none" stroke="#1c1c1c" stroke-width="1.6" stroke-linejoin="miter"/>
<text x="458.00" y="161.90" font-size="5.9" text-anchor="middle" font-weight="bold" textLength="56.3" lengthAdjust="spacingAndGlyphs" transform="rotate(-90 458.00 161.90)">Relative expression</text>
<rect x="570.10" y="95.40" width="23.35" height="23.35" fill="#e89890"/>
<rect x="593.40" y="95.40" width="23.35" height="23.35" fill="#b8ccd4"/>
<rect x="616.70" y="95.40" width="23.35" height="23.35" fill="#dcdcc4"/>
<rect x="593.40" y="118.70" width="23.35" height="23.35" fill="#e8d0b8"/>
<rect x="616.70" y="118.70" width="23.35" height="23.35" fill="#e4dcc4"/>
<rect x="616.70" y="142.00" width="23.35" height="23.35" fill="#c0ccd0"/>
<line x1="551.10" y1="95.60" x2="640.40" y2="95.60" stroke="#666" stroke-width="0.7"/>
<line x1="640.30" y1="95.40" x2="640.30" y2="183.40" stroke="#888" stroke-width="0.8"/>
<use href="#brain" transform="translate(552.50 101.00)"/>
<use href="#pit" transform="translate(577.30 124.40)"/>
<use href="#ova" transform="translate(599.90 146.60)"/>
<use href="#liv" transform="translate(621.90 168.90)"/>
<line x1="562.90" y1="142.80" x2="562.90" y2="181.80" stroke="#333" stroke-width="0.75"/>
<line x1="562.60" y1="181.90" x2="618.80" y2="181.90" stroke="#c4c4c4" stroke-width="1.3"/>
<line x1="561.60" y1="142.80" x2="562.90" y2="142.80" stroke="#444" stroke-width="0.5"/>
<text x="561.40" y="144.10" font-size="3.8" text-anchor="end" stroke="#555" stroke-width="0.22" fill="#555">1.0</text>
<line x1="561.60" y1="152.55" x2="562.90" y2="152.55" stroke="#444" stroke-width="0.5"/>
<line x1="561.60" y1="162.30" x2="562.90" y2="162.30" stroke="#444" stroke-width="0.5"/>
<text x="561.40" y="163.60" font-size="3.8" text-anchor="end" stroke="#555" stroke-width="0.22" fill="#555">0.5</text>
<line x1="561.60" y1="172.05" x2="562.90" y2="172.05" stroke="#444" stroke-width="0.5"/>
<line x1="561.60" y1="181.80" x2="562.90" y2="181.80" stroke="#444" stroke-width="0.5"/>
<text x="561.40" y="183.10" font-size="3.8" text-anchor="end" stroke="#555" stroke-width="0.22" fill="#555">0.0</text>
<line x1="574.70" y1="182.60" x2="574.70" y2="183.70" stroke="#444" stroke-width="0.6"/>
<line x1="591.10" y1="182.60" x2="591.10" y2="183.70" stroke="#444" stroke-width="0.6"/>
<line x1="607.40" y1="182.60" x2="607.40" y2="183.70" stroke="#444" stroke-width="0.6"/>
<text x="574.70" y="188.00" font-size="5.5" text-anchor="middle" font-weight="bold">Pre</text>
<text x="591.10" y="188.00" font-size="5.5" text-anchor="middle" font-weight="bold">Peak</text>
<text x="607.40" y="188.00" font-size="5.5" text-anchor="middle" font-weight="bold">Late</text>
<polyline points="574.70,177.40 591.10,143.90 607.40,143.90" fill="none" stroke="#1c1c1c" stroke-width="1.6" stroke-linejoin="miter"/>
<text x="555.00" y="162.30" font-size="5.9" text-anchor="middle" font-weight="bold" textLength="56.3" lengthAdjust="spacingAndGlyphs" transform="rotate(-90 555.00 162.30)">Relative expression</text>
<defs><linearGradient id="cbB" x1="0" y1="0" x2="0" y2="1"><stop offset="0" stop-color="#4a8ad0"/><stop offset="0.22" stop-color="#e6dcc4"/><stop offset="0.45" stop-color="#ecb4a8"/><stop offset="1" stop-color="#e8302f"/></linearGradient></defs>
<rect x="656.00" y="56.50" width="7.10" height="64.90" fill="url(#cbB)"/>
<text x="649.20" y="60.30" font-size="4.2" text-anchor="middle" stroke="#444" stroke-width="0.22" fill="#444" transform="rotate(90 649.20 60.30)">0.5</text>
<text x="649.20" y="74.80" font-size="4.2" text-anchor="middle" stroke="#444" stroke-width="0.22" fill="#444" transform="rotate(90 649.20 74.80)">1.0</text>
<text x="649.20" y="89.40" font-size="4.2" text-anchor="middle" stroke="#444" stroke-width="0.22" fill="#444" transform="rotate(90 649.20 89.40)">1.5</text>
<text x="649.20" y="104.50" font-size="4.2" text-anchor="middle" stroke="#444" stroke-width="0.22" fill="#444" transform="rotate(90 649.20 104.50)">2.0</text>
<text x="649.20" y="120.00" font-size="4.2" text-anchor="middle" stroke="#444" stroke-width="0.22" fill="#444" transform="rotate(90 649.20 120.00)">2.5</text>
<text x="667.30" y="87.40" font-size="7.0" text-anchor="middle" stroke="#222" stroke-width="0.22" textLength="35" lengthAdjust="spacingAndGlyphs" transform="rotate(90 667.30 87.40)">Odds Ratio</text>
<text x="1.90" y="205.30" font-size="13.8" text-anchor="start">C</text>
<text x="54.60" y="203.00" font-size="6.4" text-anchor="start" font-weight="bold" textLength="17.9" lengthAdjust="spacingAndGlyphs">Ovary</text>
<rect x="21.90" y="220.40" width="26.30" height="27.60" fill="#ffffff"/>
<rect x="48.20" y="220.40" width="26.30" height="27.60" fill="#6f7bbf"/>
<rect x="74.50" y="220.40" width="26.20" height="27.60" fill="#efeff8"/>
<rect x="21.90" y="248.00" width="26.30" height="27.50" fill="#f27b7f"/>
<rect x="48.20" y="248.00" width="26.30" height="27.50" fill="#ffffff"/>
<rect x="74.50" y="248.00" width="26.20" height="27.50" fill="#b8bce2"/>
<rect x="21.90" y="275.50" width="26.30" height="27.80" fill="#ee4347"/>
<rect x="48.20" y="275.50" width="26.30" height="27.80" fill="#aeb2de"/>
<rect x="74.50" y="275.50" width="26.20" height="27.80" fill="#ffffff"/>
<text x="61.35" y="235.90" font-size="5.0" text-anchor="middle" font-weight="bold" fill="#1a1a1a" stroke="#1a1a1a" stroke-width="0.15">277</text>
<text x="87.60" y="235.90" font-size="5.0" text-anchor="middle" font-weight="bold" fill="#1a1a1a" stroke="#1a1a1a" stroke-width="0.15">954</text>
<text x="35.05" y="263.45" font-size="5.0" text-anchor="middle" font-weight="bold" fill="#1a1a1a" stroke="#1a1a1a" stroke-width="0.15">1501</text>
<text x="87.60" y="263.45" font-size="5.0" text-anchor="middle" font-weight="bold" fill="#1a1a1a" stroke="#1a1a1a" stroke-width="0.15">688</text>
<text x="35.05" y="291.90" font-size="5.0" text-anchor="middle" font-weight="bold" fill="#1a1a1a" stroke="#1a1a1a" stroke-width="0.15">1766</text>
<text x="61.35" y="291.90" font-size="5.0" text-anchor="middle" font-weight="bold" fill="#1a1a1a" stroke="#1a1a1a" stroke-width="0.15">580</text>
<line x1="48.20" y1="220.40" x2="48.20" y2="303.30" stroke="#8a8a8a" stroke-width="0.7"/>
<line x1="74.50" y1="220.40" x2="74.50" y2="303.30" stroke="#8a8a8a" stroke-width="0.7"/>
<line x1="21.90" y1="248.00" x2="100.70" y2="248.00" stroke="#8a8a8a" stroke-width="0.7"/>
<line x1="21.90" y1="275.50" x2="100.70" y2="275.50" stroke="#8a8a8a" stroke-width="0.7"/>
<rect x="21.90" y="220.40" width="78.80" height="82.90" fill="none" stroke="#555" stroke-width="0.8"/>
<text x="35.05" y="215.50" font-size="6.0" text-anchor="middle" stroke="#222" stroke-width="0.22">Pre</text>
<line x1="35.05" y1="217.90" x2="35.05" y2="220.40" stroke="#444" stroke-width="0.6"/>
<text x="61.35" y="215.50" font-size="6.0" text-anchor="middle" stroke="#222" stroke-width="0.22">Peak</text>
<line x1="61.35" y1="217.90" x2="61.35" y2="220.40" stroke="#444" stroke-width="0.6"/>
<text x="87.60" y="215.50" font-size="6.0" text-anchor="middle" stroke="#222" stroke-width="0.22">Late</text>
<line x1="87.60" y1="217.90" x2="87.60" y2="220.40" stroke="#444" stroke-width="0.6"/>
<text x="18.30" y="236.30" font-size="6.0" text-anchor="end" stroke="#222" stroke-width="0.22">Pre</text>
<line x1="18.60" y1="234.20" x2="21.90" y2="234.20" stroke="#444" stroke-width="0.6"/>
<text x="18.30" y="263.85" font-size="6.0" text-anchor="end" stroke="#222" stroke-width="0.22">Peak</text>
<line x1="18.60" y1="261.75" x2="21.90" y2="261.75" stroke="#444" stroke-width="0.6"/>
<text x="18.30" y="291.50" font-size="6.0" text-anchor="end" stroke="#222" stroke-width="0.22">Late</text>
<line x1="18.60" y1="289.40" x2="21.90" y2="289.40" stroke="#444" stroke-width="0.6"/>
<text x="140.80" y="213.60" font-size="7.6" text-anchor="start" font-weight="bold" textLength="45.0" lengthAdjust="spacingAndGlyphs">GO (p-value)</text>
<rect x="106.30" y="217.60" width="91.10" height="14.00" fill="#fff" stroke="#333" stroke-width="0.75" rx="1.8"/>
<text x="109.20" y="223.48" font-size="5.1" text-anchor="start" font-weight="bold" textLength="86.6" lengthAdjust="spacingAndGlyphs">Oxidative phosphorylation (1.13e-4)</text>
<text x="109.20" y="229.22" font-size="5.1" text-anchor="start" font-weight="bold" textLength="86.4" lengthAdjust="spacingAndGlyphs">Monoatomic ion transport (3.24e-4)</text>
<line x1="74.50" y1="222.40" x2="103.90" y2="222.40" stroke="#222" stroke-width="0.8"/>
<path d="M106.30 222.40 L103.30 221.00 L103.30 223.80 Z" fill="#222"/>
<rect x="106.30" y="233.50" width="126.00" height="15.10" fill="#fff" stroke="#333" stroke-width="0.75" rx="1.8"/>
<text x="109.20" y="239.84" font-size="5.1" text-anchor="start" font-weight="bold" textLength="86.6" lengthAdjust="spacingAndGlyphs">Oxidative phosphorylation (1.62e-2)</text>
<text x="109.20" y="246.03" font-size="5.1" text-anchor="start" font-weight="bold" textLength="121.7" lengthAdjust="spacingAndGlyphs">ATP synthesis coupled electron transport (2.73e-2)</text>
<line x1="100.70" y1="239.10" x2="103.90" y2="239.10" stroke="#222" stroke-width="0.8"/>
<path d="M106.30 239.10 L103.30 237.70 L103.30 240.50 Z" fill="#222"/>
<rect x="106.30" y="251.00" width="125.40" height="15.00" fill="#fff" stroke="#333" stroke-width="0.75" rx="1.8"/>
<text x="109.20" y="257.30" font-size="5.1" text-anchor="start" font-weight="bold" textLength="86.6" lengthAdjust="spacingAndGlyphs">Oxidative phosphorylation (1.23e-3)</text>
<text x="109.20" y="263.45" font-size="5.1" text-anchor="start" font-weight="bold" textLength="121.4" lengthAdjust="spacingAndGlyphs">ATP synthesis coupled electron transport (4.14e-3)</text>
<line x1="100.70" y1="256.60" x2="103.90" y2="256.60" stroke="#222" stroke-width="0.8"/>
<path d="M106.30 256.60 L103.30 255.20 L103.30 258.00 Z" fill="#222"/>
<rect x="106.30" y="267.60" width="83.70" height="13.10" fill="#fff" stroke="#333" stroke-width="0.75" rx="1.8"/>
<text x="109.20" y="273.10" font-size="5.1" text-anchor="start" font-weight="bold" textLength="77.9" lengthAdjust="spacingAndGlyphs">Response to bacterium (3.34e-8)</text>
<text x="109.20" y="278.47" font-size="5.1" text-anchor="start" font-weight="bold" textLength="80.0" lengthAdjust="spacingAndGlyphs">Immune system process (4.38e-6)</text>
<line x1="48.20" y1="271.30" x2="103.90" y2="271.30" stroke="#222" stroke-width="0.8"/>
<path d="M106.30 271.30 L103.30 269.90 L103.30 272.70 Z" fill="#222"/>
<rect x="106.30" y="288.00" width="129.40" height="13.30" fill="#fff" stroke="#333" stroke-width="0.75" rx="1.8"/>
<text x="109.20" y="293.59" font-size="5.1" text-anchor="start" font-weight="bold" textLength="125.5" lengthAdjust="spacingAndGlyphs">Positive regulation of response to stimulus (8.28e-6)</text>
<text x="109.20" y="299.04" font-size="5.1" text-anchor="start" font-weight="bold" textLength="110.4" lengthAdjust="spacingAndGlyphs">Response to external biotic stimulus (9.83e-6)</text>
<line x1="48.20" y1="293.60" x2="103.90" y2="293.60" stroke="#222" stroke-width="0.8"/>
<path d="M106.30 293.60 L103.30 292.20 L103.30 295.00 Z" fill="#222"/>
<text x="-0.90" y="317.00" font-size="13.0" text-anchor="start">D</text>
<line x1="17.40" y1="322.60" x2="17.40" y2="401.65" stroke="#1e1e1e" stroke-width="0.9"/>
<line x1="16.95" y1="401.20" x2="125.90" y2="401.20" stroke="#1e1e1e" stroke-width="0.9"/>
<line x1="15.40" y1="401.20" x2="17.40" y2="401.20" stroke="#1e1e1e" stroke-width="0.8"/>
<text x="14.60" y="403.40" font-size="6.3" text-anchor="end" stroke="#222" stroke-width="0.22">0</text>
<line x1="16.30" y1="391.38" x2="17.40" y2="391.38" stroke="#1e1e1e" stroke-width="0.7"/>
<line x1="15.40" y1="381.55" x2="17.40" y2="381.55" stroke="#1e1e1e" stroke-width="0.8"/>
<text x="14.60" y="383.75" font-size="6.3" text-anchor="end" stroke="#222" stroke-width="0.22">2</text>
<line x1="16.30" y1="371.73" x2="17.40" y2="371.73" stroke="#1e1e1e" stroke-width="0.7"/>
<line x1="15.40" y1="361.90" x2="17.40" y2="361.90" stroke="#1e1e1e" stroke-width="0.8"/>
<text x="14.60" y="364.10" font-size="6.3" text-anchor="end" stroke="#222" stroke-width="0.22">4</text>
<line x1="16.30" y1="352.07" x2="17.40" y2="352.07" stroke="#1e1e1e" stroke-width="0.7"/>
<line x1="15.40" y1="342.25" x2="17.40" y2="342.25" stroke="#1e1e1e" stroke-width="0.8"/>
<text x="14.60" y="344.45" font-size="6.3" text-anchor="end" stroke="#222" stroke-width="0.22">6</text>
<line x1="16.30" y1="332.43" x2="17.40" y2="332.43" stroke="#1e1e1e" stroke-width="0.7"/>
<line x1="15.40" y1="322.60" x2="17.40" y2="322.60" stroke="#1e1e1e" stroke-width="0.8"/>
<text x="14.60" y="324.80" font-size="6.3" text-anchor="end" stroke="#222" stroke-width="0.22">8</text>
<line x1="38.90" y1="401.20" x2="38.90" y2="403.20" stroke="#1e1e1e" stroke-width="0.8"/>
<text x="38.90" y="412.60" font-size="7.0" text-anchor="middle" stroke="#222" stroke-width="0.22">Pre</text>
<line x1="72.00" y1="401.20" x2="72.00" y2="403.20" stroke="#1e1e1e" stroke-width="0.8"/>
<text x="72.00" y="412.60" font-size="7.0" text-anchor="middle" stroke="#222" stroke-width="0.22">Peak</text>
<line x1="103.70" y1="401.20" x2="103.70" y2="403.20" stroke="#1e1e1e" stroke-width="0.8"/>
<text x="103.70" y="412.60" font-size="7.0" text-anchor="middle" stroke="#222" stroke-width="0.22">Late</text>
<text x="6.2" y="360" font-size="6.4" text-anchor="middle" fill="#222" transform="rotate(-90 6.2 360)" textLength="79" lengthAdjust="spacingAndGlyphs"><tspan font-style="italic">CD3D</tspan> log<tspan font-size="4.2" dy="1.4">2</tspan><tspan dy="-1.4">(TPM+0.25)</tspan></text>
<polygon points="39.60,355.10 39.60,355.34 39.60,355.65 39.60,356.01 39.59,356.41 39.58,356.85 39.58,357.32 39.57,357.82 39.57,358.33 39.56,358.85 39.56,359.37 39.56,359.89 39.57,360.39 39.58,360.87 39.59,361.32 39.61,361.74 39.63,362.11 39.66,362.44 39.70,362.70 40.28,363.47 41.10,363.50 41.60,363.86 42.17,364.30 42.71,364.76 43.10,365.20 43.26,365.61 43.27,366.01 43.25,366.41 43.30,366.80 43.46,367.29 43.69,367.77 44.10,368.30 44.50,368.67 45.01,369.06 45.57,369.47 46.12,369.89 46.60,370.30 47.01,370.72 47.39,371.14 47.75,371.56 48.08,371.98 48.40,372.40 48.72,372.81 49.04,373.21 49.33,373.60 49.56,374.00 49.70,374.40 49.77,374.80 49.80,375.20 49.75,375.59 49.56,375.99 49.20,376.40 48.59,376.82 47.76,377.24 46.82,377.66 45.89,378.08 45.10,378.50 44.43,378.91 43.80,379.31 43.23,379.70 42.72,380.10 42.30,380.50 41.98,380.90 41.75,381.30 41.58,381.69 41.44,382.09 41.30,382.50 41.17,382.92 41.07,383.34 40.98,383.76 40.90,384.18 40.80,384.60 40.69,385.00 40.57,385.39 40.44,385.78 40.32,386.18 40.20,386.60 40.07,387.08 39.93,387.61 39.80,388.13 39.68,388.58 39.60,388.90 38.40,388.90 38.32,388.58 38.20,388.13 38.07,387.61 37.93,387.08 37.80,386.60 37.68,386.18 37.56,385.78 37.43,385.39 37.31,385.00 37.20,384.60 37.10,384.18 37.02,383.76 36.93,383.34 36.83,382.92 36.70,382.50 36.56,382.09 36.42,381.69 36.25,381.30 36.02,380.90 35.70,380.50 35.28,380.10 34.77,379.70 34.20,379.31 33.57,378.91 32.90,378.50 32.11,378.08 31.18,377.66 30.24,377.24 29.41,376.82 28.80,376.40 28.44,375.99 28.25,375.59 28.20,375.20 28.23,374.80 28.30,374.40 28.44,374.00 28.67,373.60 28.96,373.21 29.28,372.81 29.60,372.40 29.92,371.98 30.25,371.56 30.61,371.14 30.99,370.72 31.40,370.30 31.88,369.89 32.43,369.47 32.99,369.06 33.50,368.67 33.90,368.30 34.31,367.77 34.54,367.29 34.70,366.80 34.75,366.41 34.73,366.01 34.74,365.61 34.90,365.20 35.29,364.76 35.83,364.30 36.40,363.86 36.90,363.50 37.72,363.47 38.30,362.70 38.34,362.44 38.37,362.11 38.39,361.74 38.41,361.32 38.42,360.87 38.43,360.39 38.44,359.89 38.44,359.37 38.44,358.85 38.43,358.33 38.43,357.82 38.42,357.32 38.42,356.85 38.41,356.41 38.40,356.01 38.40,355.65 38.40,355.34 38.40,355.10" fill="#b9d3ee" stroke="#1a1a1a" stroke-width="1.25" stroke-linejoin="round"/>
<line x1="30.65" y1="371.60" x2="47.35" y2="371.60" stroke="#3a3a3a" stroke-width="0.5"/>
<line x1="28.70" y1="374.40" x2="49.30" y2="374.40" stroke="#333" stroke-width="0.5" stroke-dasharray="1.6 1"/>
<line x1="30.64" y1="377.30" x2="47.36" y2="377.30" stroke="#3a3a3a" stroke-width="0.5"/>
<polygon points="71.90,346.30 72.10,346.59 72.37,346.99 72.70,347.46 73.08,347.95 73.50,348.40 73.98,348.82 74.53,349.24 75.11,349.66 75.68,350.08 76.20,350.50 76.66,350.92 77.08,351.34 77.49,351.75 77.89,352.17 78.30,352.60 78.74,353.04 79.20,353.48 79.65,353.92 80.06,354.36 80.40,354.80 80.66,355.23 80.87,355.65 81.03,356.06 81.17,356.48 81.30,356.90 81.42,357.32 81.51,357.74 81.58,358.16 81.64,358.58 81.70,359.00 81.77,359.42 81.84,359.84 81.90,360.25 81.93,360.67 81.90,361.10 81.80,361.54 81.65,361.98 81.46,362.42 81.27,362.86 81.10,363.30 80.95,363.73 80.80,364.15 80.66,364.56 80.53,364.98 80.40,365.40 80.32,365.82 80.29,366.24 80.24,366.66 80.13,367.08 79.90,367.50 79.52,367.92 79.02,368.34 78.45,368.75 77.86,369.17 77.30,369.60 76.74,370.04 76.15,370.48 75.57,370.92 75.04,371.36 74.60,371.80 74.27,372.23 74.02,372.65 73.82,373.06 73.66,373.48 73.50,373.90 73.36,374.32 73.27,374.74 73.19,375.15 73.10,375.57 73.00,376.00 72.87,376.44 72.72,376.89 72.56,377.34 72.42,377.78 72.30,378.20 72.19,378.63 72.11,378.99 72.04,379.40 72.00,380.00 71.99,380.33 71.98,380.72 71.98,381.16 71.98,381.63 71.98,382.11 71.99,382.58 71.99,383.02 72.00,383.42 72.00,383.75 72.00,384.00 70.80,384.00 70.80,383.75 70.80,383.42 70.81,383.02 70.81,382.58 70.82,382.11 70.82,381.63 70.82,381.16 70.82,380.72 70.81,380.33 70.80,380.00 70.76,379.40 70.69,378.99 70.61,378.63 70.50,378.20 70.38,377.78 70.24,377.34 70.08,376.89 69.93,376.44 69.80,376.00 69.70,375.57 69.61,375.15 69.53,374.74 69.44,374.32 69.30,373.90 69.14,373.48 68.98,373.06 68.78,372.65 68.53,372.23 68.20,371.80 67.76,371.36 67.23,370.92 66.65,370.48 66.06,370.04 65.50,369.60 64.94,369.17 64.35,368.75 63.78,368.34 63.28,367.92 62.90,367.50 62.67,367.08 62.56,366.66 62.51,366.24 62.48,365.82 62.40,365.40 62.27,364.98 62.14,364.56 62.00,364.15 61.85,363.73 61.70,363.30 61.53,362.86 61.34,362.42 61.15,361.98 61.00,361.54 60.90,361.10 60.87,360.67 60.90,360.25 60.96,359.84 61.03,359.42 61.10,359.00 61.16,358.58 61.22,358.16 61.29,357.74 61.38,357.32 61.50,356.90 61.63,356.48 61.77,356.06 61.93,355.65 62.14,355.23 62.40,354.80 62.74,354.36 63.15,353.92 63.60,353.48 64.06,353.04 64.50,352.60 64.91,352.17 65.31,351.75 65.72,351.34 66.14,350.92 66.60,350.50 67.12,350.08 67.69,349.66 68.27,349.24 68.82,348.82 69.30,348.40 69.72,347.95 70.10,347.46 70.43,346.99 70.70,346.59 70.90,346.30" fill="#b9d3ee" stroke="#1a1a1a" stroke-width="1.25" stroke-linejoin="round"/>
<line x1="61.78" y1="357.40" x2="81.02" y2="357.40" stroke="#3a3a3a" stroke-width="0.5"/>
<line x1="61.40" y1="361.70" x2="81.40" y2="361.70" stroke="#333" stroke-width="0.5" stroke-dasharray="1.6 1"/>
<line x1="62.96" y1="366.50" x2="79.84" y2="366.50" stroke="#3a3a3a" stroke-width="0.5"/>
<polygon points="104.10,329.90 104.10,330.13 104.10,330.42 104.09,330.77 104.08,331.15 104.07,331.57 104.07,332.02 104.06,332.50 104.05,332.98 104.04,333.48 104.04,333.98 104.03,334.47 104.03,334.96 104.03,335.42 104.04,335.85 104.05,336.26 104.06,336.62 104.08,336.94 104.10,337.20 104.48,338.07 105.00,338.30 105.21,338.67 105.44,339.10 105.68,339.57 105.90,340.04 106.10,340.50 106.26,340.94 106.38,341.38 106.50,341.82 106.63,342.26 106.80,342.70 107.01,343.14 107.24,343.58 107.49,344.02 107.78,344.46 108.10,344.90 108.46,345.34 108.85,345.78 109.27,346.21 109.72,346.65 110.20,347.10 110.74,347.56 111.35,348.02 111.97,348.48 112.54,348.94 113.00,349.40 113.37,349.85 113.70,350.29 113.94,350.72 114.09,351.16 114.10,351.60 113.95,352.04 113.65,352.48 113.25,352.92 112.82,353.36 112.40,353.80 111.97,354.24 111.48,354.68 110.99,355.12 110.55,355.56 110.20,356.00 110.00,356.44 109.91,356.88 109.86,357.31 109.78,357.75 109.60,358.20 109.30,358.66 108.92,359.12 108.51,359.58 108.09,360.04 107.70,360.50 107.34,360.95 106.98,361.39 106.63,361.82 106.30,362.26 106.00,362.70 105.74,363.15 105.50,363.62 105.29,364.08 105.09,364.52 104.90,364.90 104.58,365.33 104.30,365.65 104.10,366.20 104.06,366.54 104.04,366.96 104.04,367.44 104.05,367.93 104.06,368.42 104.08,368.86 104.09,369.23 104.10,369.50 102.90,369.50 102.91,369.23 102.92,368.86 102.94,368.42 102.95,367.93 102.96,367.44 102.96,366.96 102.94,366.54 102.90,366.20 102.70,365.65 102.42,365.33 102.10,364.90 101.91,364.52 101.71,364.08 101.50,363.62 101.26,363.15 101.00,362.70 100.70,362.26 100.37,361.82 100.02,361.39 99.66,360.95 99.30,360.50 98.91,360.04 98.49,359.58 98.08,359.12 97.70,358.66 97.40,358.20 97.22,357.75 97.14,357.31 97.09,356.88 97.00,356.44 96.80,356.00 96.45,355.56 96.01,355.12 95.52,354.68 95.03,354.24 94.60,353.80 94.18,353.36 93.75,352.92 93.35,352.48 93.05,352.04 92.90,351.60 92.91,351.16 93.06,350.72 93.30,350.29 93.63,349.85 94.00,349.40 94.46,348.94 95.03,348.48 95.65,348.02 96.26,347.56 96.80,347.10 97.28,346.65 97.73,346.21 98.15,345.78 98.54,345.34 98.90,344.90 99.22,344.46 99.51,344.02 99.76,343.58 99.99,343.14 100.20,342.70 100.37,342.26 100.50,341.82 100.62,341.38 100.74,340.94 100.90,340.50 101.10,340.04 101.32,339.57 101.56,339.10 101.79,338.67 102.00,338.30 102.52,338.07 102.90,337.20 102.92,336.94 102.94,336.62 102.95,336.26 102.96,335.85 102.97,335.42 102.97,334.96 102.97,334.47 102.96,333.98 102.96,333.48 102.95,332.98 102.94,332.50 102.93,332.02 102.93,331.57 102.92,331.15 102.91,330.77 102.90,330.42 102.90,330.13 102.90,329.90" fill="#b9d3ee" stroke="#1a1a1a" stroke-width="1.25" stroke-linejoin="round"/>
<line x1="94.40" y1="349.40" x2="112.60" y2="349.40" stroke="#3a3a3a" stroke-width="0.5"/>
<line x1="93.45" y1="352.20" x2="113.55" y2="352.20" stroke="#333" stroke-width="0.5" stroke-dasharray="1.6 1"/>
<line x1="97.20" y1="356.10" x2="109.80" y2="356.10" stroke="#3a3a3a" stroke-width="0.5"/>
<line x1="39.10" y1="319.90" x2="106.70" y2="319.90" stroke="#333" stroke-width="1.2"/>
<text x="72.90" y="317.60" font-size="4.6" text-anchor="middle" font-weight="bold" textLength="29.5" lengthAdjust="spacingAndGlyphs">P = 7.68e-67</text>
<line x1="71.20" y1="328.40" x2="104.90" y2="328.40" stroke="#333" stroke-width="1.2"/>
<text x="88.05" y="326.20" font-size="4.6" text-anchor="middle" font-weight="bold" textLength="29.5" lengthAdjust="spacingAndGlyphs">P = 1.72e-27</text>
<line x1="39.10" y1="344.20" x2="72.60" y2="344.20" stroke="#333" stroke-width="1.2"/>
<text x="55.85" y="340.80" font-size="4.6" text-anchor="middle" font-weight="bold" textLength="29.5" lengthAdjust="spacingAndGlyphs">P = 2.14e-36</text>
<line x1="139.40" y1="320.80" x2="139.40" y2="399.95" stroke="#1e1e1e" stroke-width="0.9"/>
<line x1="138.95" y1="399.50" x2="234.80" y2="399.50" stroke="#1e1e1e" stroke-width="0.9"/>
<line x1="137.40" y1="399.50" x2="139.40" y2="399.50" stroke="#1e1e1e" stroke-width="0.8"/>
<text x="136.20" y="401.70" font-size="6.3" text-anchor="end" stroke="#222" stroke-width="0.22">0</text>
<line x1="138.30" y1="386.38" x2="139.40" y2="386.38" stroke="#1e1e1e" stroke-width="0.7"/>
<line x1="137.40" y1="373.27" x2="139.40" y2="373.27" stroke="#1e1e1e" stroke-width="0.8"/>
<text x="136.20" y="375.47" font-size="6.3" text-anchor="end" stroke="#222" stroke-width="0.22">2</text>
<line x1="138.30" y1="360.15" x2="139.40" y2="360.15" stroke="#1e1e1e" stroke-width="0.7"/>
<line x1="137.40" y1="347.03" x2="139.40" y2="347.03" stroke="#1e1e1e" stroke-width="0.8"/>
<text x="136.20" y="349.23" font-size="6.3" text-anchor="end" stroke="#222" stroke-width="0.22">4</text>
<line x1="138.30" y1="333.92" x2="139.40" y2="333.92" stroke="#1e1e1e" stroke-width="0.7"/>
<line x1="137.40" y1="320.80" x2="139.40" y2="320.80" stroke="#1e1e1e" stroke-width="0.8"/>
<text x="136.20" y="323.00" font-size="6.3" text-anchor="end" stroke="#222" stroke-width="0.22">6</text>
<line x1="161.00" y1="399.50" x2="161.00" y2="401.50" stroke="#1e1e1e" stroke-width="0.8"/>
<text x="161.00" y="410.80" font-size="7.0" text-anchor="middle" stroke="#222" stroke-width="0.22">Pre</text>
<line x1="193.40" y1="399.50" x2="193.40" y2="401.50" stroke="#1e1e1e" stroke-width="0.8"/>
<text x="193.40" y="410.80" font-size="7.0" text-anchor="middle" stroke="#222" stroke-width="0.22">Peak</text>
<line x1="225.60" y1="399.50" x2="225.60" y2="401.50" stroke="#1e1e1e" stroke-width="0.8"/>
<text x="225.60" y="410.80" font-size="7.0" text-anchor="middle" stroke="#222" stroke-width="0.22">Late</text>
<text x="127.6" y="357.6" font-size="6.4" text-anchor="middle" fill="#222" transform="rotate(-90 127.6 357.6)" textLength="82" lengthAdjust="spacingAndGlyphs"><tspan font-style="italic">PTPRC</tspan> log<tspan font-size="4.2" dy="1.4">2</tspan><tspan dy="-1.4">(TPM+0.25)</tspan></text>
<polygon points="161.40,344.60 161.40,344.85 161.39,345.17 161.39,345.56 161.38,345.99 161.38,346.46 161.37,346.96 161.36,347.47 161.36,347.98 161.36,348.49 161.36,348.98 161.36,349.43 161.37,349.85 161.38,350.21 161.40,350.50 161.56,351.27 161.79,351.54 162.00,351.80 162.20,352.23 162.39,352.67 162.50,353.10 162.50,353.53 162.41,353.97 162.30,354.40 162.11,354.83 161.90,355.27 161.80,355.70 161.91,356.13 162.15,356.57 162.40,357.00 162.63,357.43 162.87,357.86 163.10,358.30 163.30,358.76 163.50,359.24 163.70,359.70 163.96,360.14 164.24,360.57 164.40,361.00 164.33,361.43 164.14,361.87 164.10,362.30 164.33,362.73 164.70,363.17 165.10,363.60 165.51,364.03 165.96,364.47 166.40,364.90 166.85,365.33 167.30,365.77 167.70,366.20 168.01,366.63 168.27,367.07 168.50,367.50 168.70,367.93 168.86,368.37 169.00,368.80 169.10,369.23 169.18,369.65 169.30,370.10 169.49,370.59 169.73,371.10 170.00,371.60 170.33,372.07 170.69,372.52 171.00,373.00 171.21,373.39 171.40,373.80 171.54,374.21 171.60,374.60 171.52,375.08 171.30,375.53 171.00,376.00 170.59,376.49 170.09,377.00 169.60,377.50 169.16,378.00 168.73,378.49 168.30,379.00 167.98,379.39 167.65,379.79 167.33,380.19 167.00,380.60 166.68,381.02 166.35,381.45 166.03,381.88 165.70,382.30 165.27,382.84 164.83,383.37 164.40,383.90 164.06,384.30 163.72,384.70 163.39,385.10 163.10,385.50 162.86,385.90 162.66,386.29 162.47,386.69 162.30,387.10 162.13,387.52 161.97,387.95 161.82,388.38 161.70,388.80 161.57,389.40 161.47,389.99 161.40,390.40 160.20,390.40 160.13,389.99 160.03,389.40 159.90,388.80 159.78,388.38 159.63,387.95 159.47,387.52 159.30,387.10 159.13,386.69 158.94,386.29 158.74,385.90 158.50,385.50 158.21,385.10 157.88,384.70 157.54,384.30 157.20,383.90 156.77,383.37 156.33,382.84 155.90,382.30 155.58,381.88 155.25,381.45 154.93,381.02 154.60,380.60 154.28,380.19 153.95,379.79 153.62,379.39 153.30,379.00 152.87,378.49 152.44,378.00 152.00,377.50 151.51,377.00 151.01,376.49 150.60,376.00 150.30,375.53 150.08,375.08 150.00,374.60 150.06,374.21 150.20,373.80 150.39,373.39 150.60,373.00 150.91,372.52 151.27,372.07 151.60,371.60 151.87,371.10 152.11,370.59 152.30,370.10 152.42,369.65 152.50,369.23 152.60,368.80 152.74,368.37 152.90,367.93 153.10,367.50 153.33,367.07 153.59,366.63 153.90,366.20 154.30,365.77 154.75,365.33 155.20,364.90 155.64,364.47 156.09,364.03 156.50,363.60 156.90,363.17 157.27,362.73 157.50,362.30 157.46,361.87 157.27,361.43 157.20,361.00 157.36,360.57 157.64,360.14 157.90,359.70 158.10,359.24 158.30,358.76 158.50,358.30 158.73,357.86 158.97,357.43 159.20,357.00 159.45,356.57 159.69,356.13 159.80,355.70 159.70,355.27 159.49,354.83 159.30,354.40 159.19,353.97 159.10,353.53 159.10,353.10 159.21,352.67 159.40,352.23 159.60,351.80 159.81,351.54 160.04,351.27 160.20,350.50 160.22,350.21 160.23,349.85 160.24,349.43 160.24,348.98 160.24,348.49 160.24,347.98 160.24,347.47 160.23,346.96 160.22,346.46 160.22,345.99 160.21,345.56 160.21,345.17 160.20,344.85 160.20,344.60" fill="#b9d3ee" stroke="#1a1a1a" stroke-width="1.25" stroke-linejoin="round"/>
<line x1="152.82" y1="369.50" x2="168.78" y2="369.50" stroke="#3a3a3a" stroke-width="0.5"/>
<line x1="150.46" y1="374.30" x2="171.14" y2="374.30" stroke="#333" stroke-width="0.5" stroke-dasharray="1.6 1"/>
<line x1="154.03" y1="379.30" x2="167.58" y2="379.30" stroke="#3a3a3a" stroke-width="0.5"/>
<polygon points="193.90,337.30 193.90,337.56 193.89,337.90 193.88,338.31 193.86,338.77 193.85,339.27 193.84,339.77 193.83,340.28 193.84,340.76 193.85,341.20 193.87,341.59 193.90,341.90 194.13,342.58 194.47,342.89 194.80,343.20 195.11,343.63 195.41,344.07 195.70,344.50 195.96,344.93 196.19,345.37 196.40,345.80 196.57,346.19 196.73,346.57 196.90,347.10 197.01,347.46 197.12,347.87 197.24,348.32 197.37,348.79 197.49,349.25 197.60,349.70 197.70,350.13 197.78,350.57 197.86,351.00 197.95,351.43 198.06,351.87 198.20,352.30 198.37,352.73 198.56,353.16 198.76,353.59 198.99,354.03 199.23,354.46 199.50,354.90 199.80,355.35 200.12,355.80 200.47,356.25 200.82,356.70 201.17,357.15 201.50,357.60 201.82,358.04 202.16,358.47 202.48,358.91 202.79,359.34 203.07,359.77 203.30,360.20 203.50,360.65 203.67,361.11 203.81,361.58 203.91,362.03 203.98,362.44 204.00,362.80 203.88,363.33 203.61,363.71 203.30,364.10 202.93,364.53 202.52,364.97 202.30,365.40 202.44,365.83 202.78,366.27 203.00,366.70 203.05,367.09 202.99,367.47 202.70,368.00 202.43,368.36 202.07,368.77 201.66,369.21 201.23,369.68 200.79,370.15 200.40,370.60 200.04,371.05 199.68,371.50 199.33,371.95 198.98,372.40 198.64,372.85 198.30,373.30 197.96,373.74 197.63,374.17 197.30,374.61 196.98,375.04 196.68,375.47 196.40,375.90 196.14,376.33 195.90,376.77 195.68,377.20 195.47,377.63 195.28,378.07 195.10,378.50 194.93,378.95 194.78,379.41 194.64,379.88 194.52,380.32 194.40,380.74 194.30,381.10 194.12,381.61 193.99,381.99 193.90,382.50 193.88,382.89 193.87,383.37 193.88,383.89 193.89,384.38 193.90,384.80 193.90,385.10 192.70,385.10 192.70,384.80 192.71,384.38 192.73,383.89 192.73,383.37 192.72,382.89 192.70,382.50 192.61,381.99 192.48,381.61 192.30,381.10 192.20,380.74 192.08,380.32 191.96,379.88 191.82,379.41 191.67,378.95 191.50,378.50 191.32,378.07 191.13,377.63 190.92,377.20 190.70,376.77 190.46,376.33 190.20,375.90 189.92,375.47 189.62,375.04 189.30,374.61 188.97,374.17 188.64,373.74 188.30,373.30 187.96,372.85 187.62,372.40 187.28,371.95 186.92,371.50 186.56,371.05 186.20,370.60 185.81,370.15 185.37,369.68 184.94,369.21 184.53,368.77 184.17,368.36 183.90,368.00 183.61,367.47 183.55,367.09 183.60,366.70 183.82,366.27 184.16,365.83 184.30,365.40 184.08,364.97 183.67,364.53 183.30,364.10 182.99,363.71 182.72,363.33 182.60,362.80 182.62,362.44 182.69,362.03 182.79,361.58 182.93,361.11 183.10,360.65 183.30,360.20 183.53,359.77 183.81,359.34 184.12,358.91 184.44,358.47 184.78,358.04 185.10,357.60 185.43,357.15 185.78,356.70 186.13,356.25 186.48,355.80 186.80,355.35 187.10,354.90 187.37,354.46 187.61,354.03 187.84,353.59 188.04,353.16 188.23,352.73 188.40,352.30 188.54,351.87 188.65,351.43 188.74,351.00 188.82,350.57 188.90,350.13 189.00,349.70 189.11,349.25 189.23,348.79 189.36,348.32 189.48,347.87 189.59,347.46 189.70,347.10 189.87,346.57 190.03,346.19 190.20,345.80 190.41,345.37 190.64,344.93 190.90,344.50 191.19,344.07 191.49,343.63 191.80,343.20 192.13,342.89 192.47,342.58 192.70,341.90 192.73,341.59 192.75,341.20 192.76,340.76 192.77,340.28 192.76,339.77 192.75,339.27 192.74,338.77 192.72,338.31 192.71,337.90 192.70,337.56 192.70,337.30" fill="#b9d3ee" stroke="#1a1a1a" stroke-width="1.25" stroke-linejoin="round"/>
<line x1="186.53" y1="356.30" x2="200.07" y2="356.30" stroke="#3a3a3a" stroke-width="0.5"/>
<line x1="183.09" y1="362.20" x2="203.51" y2="362.20" stroke="#333" stroke-width="0.5" stroke-dasharray="1.6 1"/>
<line x1="184.93" y1="368.70" x2="201.67" y2="368.70" stroke="#3a3a3a" stroke-width="0.5"/>
<polygon points="226.20,325.20 226.20,325.44 226.19,325.76 226.18,326.14 226.17,326.57 226.15,327.03 226.14,327.51 226.14,327.99 226.13,328.47 226.14,328.92 226.15,329.34 226.17,329.70 226.20,330.00 226.43,330.69 226.76,331.02 227.10,331.50 227.24,331.84 227.38,332.23 227.53,332.64 227.68,333.08 227.83,333.53 227.97,333.97 228.10,334.40 228.23,334.81 228.35,335.23 228.46,335.64 228.57,336.06 228.68,336.47 228.79,336.89 228.90,337.30 229.01,337.71 229.11,338.13 229.21,338.54 229.31,338.96 229.40,339.37 229.50,339.79 229.60,340.20 229.68,340.61 229.74,341.03 229.78,341.44 229.85,341.86 229.94,342.27 230.08,342.69 230.30,343.10 230.60,343.51 230.98,343.93 231.40,344.34 231.86,344.76 232.33,345.17 232.78,345.59 233.20,346.00 233.61,346.43 234.05,346.87 234.49,347.32 234.91,347.76 235.28,348.17 235.59,348.56 235.80,348.90 235.93,349.51 235.72,349.96 235.40,350.40 234.96,350.82 234.41,351.23 234.00,351.80 233.91,352.13 233.87,352.52 233.86,352.93 233.86,353.37 233.86,353.82 233.84,354.27 233.80,354.70 233.74,355.12 233.67,355.55 233.60,355.98 233.51,356.42 233.40,356.85 233.27,357.28 233.10,357.70 232.89,358.12 232.65,358.54 232.38,358.95 232.09,359.36 231.79,359.77 231.49,360.19 231.20,360.60 230.91,361.01 230.60,361.43 230.28,361.84 229.97,362.26 229.66,362.67 229.37,363.09 229.10,363.50 228.85,363.91 228.61,364.33 228.38,364.74 228.16,365.15 227.96,365.56 227.77,365.98 227.60,366.40 227.45,366.83 227.31,367.26 227.19,367.70 227.09,368.14 226.99,368.57 226.89,368.99 226.80,369.40 226.69,369.80 226.60,370.11 226.51,370.42 226.43,370.79 226.36,371.29 226.30,372.00 226.28,372.31 226.27,372.66 226.26,373.05 226.25,373.48 226.24,373.94 226.23,374.41 226.23,374.91 226.22,375.41 226.22,375.91 226.22,376.41 226.21,376.90 226.21,377.37 226.21,377.82 226.21,378.24 226.21,378.63 226.20,378.97 226.20,379.26 226.20,379.50 225.00,379.50 225.00,379.26 225.00,378.97 224.99,378.63 224.99,378.24 224.99,377.82 224.99,377.37 224.99,376.90 224.98,376.41 224.98,375.91 224.98,375.41 224.97,374.91 224.97,374.41 224.96,373.94 224.95,373.48 224.94,373.05 224.93,372.66 224.92,372.31 224.90,372.00 224.84,371.29 224.77,370.79 224.69,370.42 224.60,370.11 224.51,369.80 224.40,369.40 224.31,368.99 224.21,368.57 224.11,368.14 224.01,367.70 223.89,367.26 223.75,366.83 223.60,366.40 223.43,365.98 223.24,365.56 223.04,365.15 222.82,364.74 222.59,364.33 222.35,363.91 222.10,363.50 221.83,363.09 221.54,362.67 221.23,362.26 220.92,361.84 220.60,361.43 220.29,361.01 220.00,360.60 219.71,360.19 219.41,359.77 219.11,359.36 218.82,358.95 218.55,358.54 218.31,358.12 218.10,357.70 217.93,357.28 217.80,356.85 217.69,356.42 217.60,355.98 217.53,355.55 217.46,355.12 217.40,354.70 217.36,354.27 217.34,353.82 217.34,353.37 217.34,352.93 217.33,352.52 217.29,352.13 217.20,351.80 216.79,351.23 216.24,350.82 215.80,350.40 215.48,349.96 215.27,349.51 215.40,348.90 215.61,348.56 215.92,348.17 216.29,347.76 216.71,347.32 217.15,346.87 217.59,346.43 218.00,346.00 218.42,345.59 218.87,345.17 219.34,344.76 219.80,344.34 220.22,343.93 220.60,343.51 220.90,343.10 221.12,342.69 221.26,342.27 221.35,341.86 221.42,341.44 221.46,341.03 221.52,340.61 221.60,340.20 221.70,339.79 221.80,339.37 221.89,338.96 221.99,338.54 222.09,338.13 222.19,337.71 222.30,337.30 222.41,336.89 222.52,336.47 222.63,336.06 222.74,335.64 222.85,335.23 222.97,334.81 223.10,334.40 223.23,333.97 223.37,333.53 223.52,333.08 223.67,332.64 223.82,332.23 223.96,331.84 224.10,331.50 224.44,331.02 224.77,330.69 225.00,330.00 225.03,329.70 225.05,329.34 225.06,328.92 225.07,328.47 225.06,327.99 225.06,327.51 225.05,327.03 225.03,326.57 225.02,326.14 225.01,325.76 225.00,325.44 225.00,325.20" fill="#b9d3ee" stroke="#1a1a1a" stroke-width="1.25" stroke-linejoin="round"/>
<line x1="216.32" y1="348.20" x2="234.88" y2="348.20" stroke="#3a3a3a" stroke-width="0.5"/>
<line x1="217.60" y1="351.90" x2="233.60" y2="351.90" stroke="#333" stroke-width="0.5" stroke-dasharray="1.6 1"/>
<line x1="218.50" y1="357.70" x2="232.70" y2="357.70" stroke="#3a3a3a" stroke-width="0.5"/>
<line x1="160.90" y1="314.10" x2="227.40" y2="314.10" stroke="#333" stroke-width="1.2"/>
<text x="194.15" y="310.60" font-size="4.6" text-anchor="middle" font-weight="bold" textLength="29.5" lengthAdjust="spacingAndGlyphs">P = 1.27e-83</text>
<line x1="193.20" y1="323.00" x2="226.80" y2="323.00" stroke="#333" stroke-width="1.2"/>
<text x="210.00" y="320.20" font-size="4.6" text-anchor="middle" font-weight="bold" textLength="29.5" lengthAdjust="spacingAndGlyphs">P = 5.28e-29</text>
<line x1="160.90" y1="335.60" x2="194.40" y2="335.60" stroke="#333" stroke-width="1.2"/>
<text x="177.65" y="332.60" font-size="4.6" text-anchor="middle" font-weight="bold" textLength="29.5" lengthAdjust="spacingAndGlyphs">P = 3.22e-27</text>
<text x="274.60" y="210.00" font-size="13.5" text-anchor="start">E</text>
<text x="368.80" y="202.00" font-size="8.2" text-anchor="middle" stroke="#222" stroke-width="0.22">Ovary</text>
<rect x="294.60" y="214.80" width="49.60" height="9.06" fill="#c1c5e5"/>
<rect x="344.20" y="214.80" width="49.80" height="9.06" fill="#f8c1c3"/>
<rect x="394.00" y="214.80" width="49.60" height="9.06" fill="#efeff8"/>
<rect x="294.60" y="223.81" width="49.60" height="9.06" fill="#c1c5e5"/>
<rect x="344.20" y="223.81" width="49.80" height="9.06" fill="#fde3e3"/>
<rect x="394.00" y="223.81" width="49.60" height="9.06" fill="#fcd6d6"/>
<rect x="294.60" y="232.81" width="49.60" height="9.06" fill="#5a6bbb"/>
<rect x="344.20" y="232.81" width="49.80" height="9.06" fill="#f07276"/>
<rect x="394.00" y="232.81" width="49.60" height="9.06" fill="#fff2f2"/>
<rect x="294.60" y="241.81" width="49.60" height="9.06" fill="#f8b6b8"/>
<rect x="344.20" y="241.81" width="49.80" height="9.06" fill="#dcdef0"/>
<rect x="394.00" y="241.81" width="49.60" height="9.06" fill="#d6d9ef"/>
<rect x="294.60" y="250.82" width="49.60" height="9.06" fill="#ccd0ea"/>
<rect x="344.20" y="250.82" width="49.80" height="9.06" fill="#fff0f0"/>
<rect x="394.00" y="250.82" width="49.60" height="9.06" fill="#fcdada"/>
<rect x="294.60" y="259.83" width="49.60" height="9.06" fill="#f49a9c"/>
<rect x="344.20" y="259.83" width="49.80" height="9.06" fill="#aab0dc"/>
<rect x="394.00" y="259.83" width="49.60" height="9.06" fill="#e2e3f3"/>
<rect x="294.60" y="268.83" width="49.60" height="9.06" fill="#e1e3f4"/>
<rect x="344.20" y="268.83" width="49.80" height="9.06" fill="#f9cbcc"/>
<rect x="394.00" y="268.83" width="49.60" height="9.06" fill="#e6e7f5"/>
<rect x="294.60" y="277.84" width="49.60" height="9.06" fill="#efeff8"/>
<rect x="344.20" y="277.84" width="49.80" height="9.06" fill="#f9c6c7"/>
<rect x="394.00" y="277.84" width="49.60" height="9.06" fill="#d2d5ed"/>
<rect x="294.60" y="286.84" width="49.60" height="9.06" fill="#8d98d0"/>
<rect x="344.20" y="286.84" width="49.80" height="9.06" fill="#ffffff"/>
<rect x="394.00" y="286.84" width="49.60" height="9.06" fill="#f29a9e"/>
<rect x="294.60" y="295.85" width="49.60" height="9.06" fill="#ec3f42"/>
<rect x="344.20" y="295.85" width="49.80" height="9.06" fill="#dcdef0"/>
<rect x="394.00" y="295.85" width="49.60" height="9.06" fill="#3f5db3"/>
<rect x="294.60" y="304.85" width="49.60" height="9.06" fill="#b0b6e0"/>
<rect x="344.20" y="304.85" width="49.80" height="9.06" fill="#ee7074"/>
<rect x="394.00" y="304.85" width="49.60" height="9.06" fill="#8893cc"/>
<rect x="294.60" y="313.86" width="49.60" height="9.06" fill="#f49094"/>
<rect x="344.20" y="313.86" width="49.80" height="9.06" fill="#f4989c"/>
<rect x="394.00" y="313.86" width="49.60" height="9.06" fill="#3f5db3"/>
<rect x="294.60" y="322.86" width="49.60" height="9.06" fill="#a0a7d8"/>
<rect x="344.20" y="322.86" width="49.80" height="9.06" fill="#7d88c8"/>
<rect x="394.00" y="322.86" width="49.60" height="9.06" fill="#ec4f52"/>
<rect x="294.60" y="331.87" width="49.60" height="9.06" fill="#fde3e3"/>
<rect x="344.20" y="331.87" width="49.80" height="9.06" fill="#7d88c8"/>
<rect x="394.00" y="331.87" width="49.60" height="9.06" fill="#f49094"/>
<rect x="294.60" y="340.87" width="49.60" height="9.06" fill="#e4e6f4"/>
<rect x="344.20" y="340.87" width="49.80" height="9.06" fill="#fdeaea"/>
<rect x="394.00" y="340.87" width="49.60" height="9.06" fill="#fff4f4"/>
<rect x="294.60" y="349.88" width="49.60" height="9.06" fill="#f07a7c"/>
<rect x="344.20" y="349.88" width="49.80" height="9.06" fill="#dcdef0"/>
<rect x="394.00" y="349.88" width="49.60" height="9.06" fill="#7d88c8"/>
<rect x="294.60" y="358.88" width="49.60" height="9.06" fill="#f8b0b2"/>
<rect x="344.20" y="358.88" width="49.80" height="9.06" fill="#8590cc"/>
<rect x="394.00" y="358.88" width="49.60" height="9.06" fill="#fcd0d0"/>
<rect x="294.60" y="367.88" width="49.60" height="9.06" fill="#fde4e4"/>
<rect x="344.20" y="367.88" width="49.80" height="9.06" fill="#dcdef0"/>
<rect x="394.00" y="367.88" width="49.60" height="9.06" fill="#fff0f0"/>
<rect x="294.60" y="376.89" width="49.60" height="9.06" fill="#f1f1f8"/>
<rect x="344.20" y="376.89" width="49.80" height="9.06" fill="#8590cc"/>
<rect x="394.00" y="376.89" width="49.60" height="9.06" fill="#f49094"/>
<rect x="294.60" y="385.90" width="49.60" height="9.06" fill="#f8a8aa"/>
<rect x="344.20" y="385.90" width="49.80" height="9.06" fill="#c9cde9"/>
<rect x="394.00" y="385.90" width="49.60" height="9.06" fill="#c9cde9"/>
<rect x="294.60" y="394.90" width="49.60" height="9.06" fill="#e4e6f4"/>
<rect x="344.20" y="394.90" width="49.80" height="9.06" fill="#fcd8d8"/>
<rect x="394.00" y="394.90" width="49.60" height="9.06" fill="#e4e6f4"/>
<g transform="translate(367.80 219.90)" stroke="#262626" stroke-width="0.8" stroke-linecap="round"><line x1="0" y1="-1.3" x2="0" y2="1.3"/><line x1="-1.15" y1="-0.65" x2="1.15" y2="0.65"/><line x1="-1.15" y1="0.65" x2="1.15" y2="-0.65"/></g>
<g transform="translate(370.40 219.90)" stroke="#262626" stroke-width="0.8" stroke-linecap="round"><line x1="0" y1="-1.3" x2="0" y2="1.3"/><line x1="-1.15" y1="-0.65" x2="1.15" y2="0.65"/><line x1="-1.15" y1="0.65" x2="1.15" y2="-0.65"/></g>
<text x="291.20" y="221.10" font-size="5.0" text-anchor="end" font-weight="bold">ME1(520)</text>
<line x1="292.20" y1="219.30" x2="294.60" y2="219.30" stroke="#444" stroke-width="0.6"/>
<g transform="translate(418.80 228.91)" stroke="#262626" stroke-width="0.8" stroke-linecap="round"><line x1="0" y1="-1.3" x2="0" y2="1.3"/><line x1="-1.15" y1="-0.65" x2="1.15" y2="0.65"/><line x1="-1.15" y1="0.65" x2="1.15" y2="-0.65"/></g>
<text x="291.20" y="230.11" font-size="5.0" text-anchor="end" font-weight="bold">ME2(247)</text>
<line x1="292.20" y1="228.31" x2="294.60" y2="228.31" stroke="#444" stroke-width="0.6"/>
<g transform="translate(316.80 237.91)" stroke="#262626" stroke-width="0.8" stroke-linecap="round"><line x1="0" y1="-1.3" x2="0" y2="1.3"/><line x1="-1.15" y1="-0.65" x2="1.15" y2="0.65"/><line x1="-1.15" y1="0.65" x2="1.15" y2="-0.65"/></g>
<g transform="translate(319.40 237.91)" stroke="#262626" stroke-width="0.8" stroke-linecap="round"><line x1="0" y1="-1.3" x2="0" y2="1.3"/><line x1="-1.15" y1="-0.65" x2="1.15" y2="0.65"/><line x1="-1.15" y1="0.65" x2="1.15" y2="-0.65"/></g>
<g transform="translate(322.00 237.91)" stroke="#262626" stroke-width="0.8" stroke-linecap="round"><line x1="0" y1="-1.3" x2="0" y2="1.3"/><line x1="-1.15" y1="-0.65" x2="1.15" y2="0.65"/><line x1="-1.15" y1="0.65" x2="1.15" y2="-0.65"/></g>
<g transform="translate(366.50 237.91)" stroke="#262626" stroke-width="0.8" stroke-linecap="round"><line x1="0" y1="-1.3" x2="0" y2="1.3"/><line x1="-1.15" y1="-0.65" x2="1.15" y2="0.65"/><line x1="-1.15" y1="0.65" x2="1.15" y2="-0.65"/></g>
<g transform="translate(369.10 237.91)" stroke="#262626" stroke-width="0.8" stroke-linecap="round"><line x1="0" y1="-1.3" x2="0" y2="1.3"/><line x1="-1.15" y1="-0.65" x2="1.15" y2="0.65"/><line x1="-1.15" y1="0.65" x2="1.15" y2="-0.65"/></g>
<g transform="translate(371.70 237.91)" stroke="#262626" stroke-width="0.8" stroke-linecap="round"><line x1="0" y1="-1.3" x2="0" y2="1.3"/><line x1="-1.15" y1="-0.65" x2="1.15" y2="0.65"/><line x1="-1.15" y1="0.65" x2="1.15" y2="-0.65"/></g>
<text x="291.20" y="239.11" font-size="5.0" text-anchor="end" font-weight="bold">ME3(548)</text>
<line x1="292.20" y1="237.31" x2="294.60" y2="237.31" stroke="#444" stroke-width="0.6"/>
<g transform="translate(316.80 246.92)" stroke="#262626" stroke-width="0.8" stroke-linecap="round"><line x1="0" y1="-1.3" x2="0" y2="1.3"/><line x1="-1.15" y1="-0.65" x2="1.15" y2="0.65"/><line x1="-1.15" y1="0.65" x2="1.15" y2="-0.65"/></g>
<g transform="translate(319.40 246.92)" stroke="#262626" stroke-width="0.8" stroke-linecap="round"><line x1="0" y1="-1.3" x2="0" y2="1.3"/><line x1="-1.15" y1="-0.65" x2="1.15" y2="0.65"/><line x1="-1.15" y1="0.65" x2="1.15" y2="-0.65"/></g>
<g transform="translate(322.00 246.92)" stroke="#262626" stroke-width="0.8" stroke-linecap="round"><line x1="0" y1="-1.3" x2="0" y2="1.3"/><line x1="-1.15" y1="-0.65" x2="1.15" y2="0.65"/><line x1="-1.15" y1="0.65" x2="1.15" y2="-0.65"/></g>
<text x="291.20" y="248.12" font-size="5.0" text-anchor="end" font-weight="bold">ME4(788)</text>
<line x1="292.20" y1="246.32" x2="294.60" y2="246.32" stroke="#444" stroke-width="0.6"/>
<g transform="translate(319.40 255.92)" stroke="#262626" stroke-width="0.8" stroke-linecap="round"><line x1="0" y1="-1.3" x2="0" y2="1.3"/><line x1="-1.15" y1="-0.65" x2="1.15" y2="0.65"/><line x1="-1.15" y1="0.65" x2="1.15" y2="-0.65"/></g>
<text x="291.20" y="257.12" font-size="5.0" text-anchor="end" font-weight="bold">ME5(125)</text>
<line x1="292.20" y1="255.32" x2="294.60" y2="255.32" stroke="#444" stroke-width="0.6"/>
<g transform="translate(316.80 264.93)" stroke="#262626" stroke-width="0.8" stroke-linecap="round"><line x1="0" y1="-1.3" x2="0" y2="1.3"/><line x1="-1.15" y1="-0.65" x2="1.15" y2="0.65"/><line x1="-1.15" y1="0.65" x2="1.15" y2="-0.65"/></g>
<g transform="translate(319.40 264.93)" stroke="#262626" stroke-width="0.8" stroke-linecap="round"><line x1="0" y1="-1.3" x2="0" y2="1.3"/><line x1="-1.15" y1="-0.65" x2="1.15" y2="0.65"/><line x1="-1.15" y1="0.65" x2="1.15" y2="-0.65"/></g>
<g transform="translate(322.00 264.93)" stroke="#262626" stroke-width="0.8" stroke-linecap="round"><line x1="0" y1="-1.3" x2="0" y2="1.3"/><line x1="-1.15" y1="-0.65" x2="1.15" y2="0.65"/><line x1="-1.15" y1="0.65" x2="1.15" y2="-0.65"/></g>
<g transform="translate(366.50 264.93)" stroke="#262626" stroke-width="0.8" stroke-linecap="round"><line x1="0" y1="-1.3" x2="0" y2="1.3"/><line x1="-1.15" y1="-0.65" x2="1.15" y2="0.65"/><line x1="-1.15" y1="0.65" x2="1.15" y2="-0.65"/></g>
<g transform="translate(369.10 264.93)" stroke="#262626" stroke-width="0.8" stroke-linecap="round"><line x1="0" y1="-1.3" x2="0" y2="1.3"/><line x1="-1.15" y1="-0.65" x2="1.15" y2="0.65"/><line x1="-1.15" y1="0.65" x2="1.15" y2="-0.65"/></g>
<g transform="translate(371.70 264.93)" stroke="#262626" stroke-width="0.8" stroke-linecap="round"><line x1="0" y1="-1.3" x2="0" y2="1.3"/><line x1="-1.15" y1="-0.65" x2="1.15" y2="0.65"/><line x1="-1.15" y1="0.65" x2="1.15" y2="-0.65"/></g>
<text x="291.20" y="266.13" font-size="5.0" text-anchor="end" font-weight="bold">ME6(137)</text>
<line x1="292.20" y1="264.33" x2="294.60" y2="264.33" stroke="#444" stroke-width="0.6"/>
<g transform="translate(369.10 273.93)" stroke="#262626" stroke-width="0.8" stroke-linecap="round"><line x1="0" y1="-1.3" x2="0" y2="1.3"/><line x1="-1.15" y1="-0.65" x2="1.15" y2="0.65"/><line x1="-1.15" y1="0.65" x2="1.15" y2="-0.65"/></g>
<text x="291.20" y="275.13" font-size="5.0" text-anchor="end" font-weight="bold">ME7(58)</text>
<line x1="292.20" y1="273.33" x2="294.60" y2="273.33" stroke="#444" stroke-width="0.6"/>
<g transform="translate(369.10 282.94)" stroke="#262626" stroke-width="0.8" stroke-linecap="round"><line x1="0" y1="-1.3" x2="0" y2="1.3"/><line x1="-1.15" y1="-0.65" x2="1.15" y2="0.65"/><line x1="-1.15" y1="0.65" x2="1.15" y2="-0.65"/></g>
<text x="291.20" y="284.14" font-size="5.0" text-anchor="end" font-weight="bold">ME8(1018)</text>
<line x1="292.20" y1="282.34" x2="294.60" y2="282.34" stroke="#444" stroke-width="0.6"/>
<text x="291.20" y="293.14" font-size="5.0" text-anchor="end" font-weight="bold">ME9(4599)</text>
<line x1="292.20" y1="291.34" x2="294.60" y2="291.34" stroke="#444" stroke-width="0.6"/>
<g transform="translate(316.80 300.95)" stroke="#262626" stroke-width="0.8" stroke-linecap="round"><line x1="0" y1="-1.3" x2="0" y2="1.3"/><line x1="-1.15" y1="-0.65" x2="1.15" y2="0.65"/><line x1="-1.15" y1="0.65" x2="1.15" y2="-0.65"/></g>
<g transform="translate(319.40 300.95)" stroke="#262626" stroke-width="0.8" stroke-linecap="round"><line x1="0" y1="-1.3" x2="0" y2="1.3"/><line x1="-1.15" y1="-0.65" x2="1.15" y2="0.65"/><line x1="-1.15" y1="0.65" x2="1.15" y2="-0.65"/></g>
<g transform="translate(322.00 300.95)" stroke="#262626" stroke-width="0.8" stroke-linecap="round"><line x1="0" y1="-1.3" x2="0" y2="1.3"/><line x1="-1.15" y1="-0.65" x2="1.15" y2="0.65"/><line x1="-1.15" y1="0.65" x2="1.15" y2="-0.65"/></g>
<g transform="translate(416.20 300.95)" stroke="#262626" stroke-width="0.8" stroke-linecap="round"><line x1="0" y1="-1.3" x2="0" y2="1.3"/><line x1="-1.15" y1="-0.65" x2="1.15" y2="0.65"/><line x1="-1.15" y1="0.65" x2="1.15" y2="-0.65"/></g>
<g transform="translate(418.80 300.95)" stroke="#262626" stroke-width="0.8" stroke-linecap="round"><line x1="0" y1="-1.3" x2="0" y2="1.3"/><line x1="-1.15" y1="-0.65" x2="1.15" y2="0.65"/><line x1="-1.15" y1="0.65" x2="1.15" y2="-0.65"/></g>
<g transform="translate(421.40 300.95)" stroke="#262626" stroke-width="0.8" stroke-linecap="round"><line x1="0" y1="-1.3" x2="0" y2="1.3"/><line x1="-1.15" y1="-0.65" x2="1.15" y2="0.65"/><line x1="-1.15" y1="0.65" x2="1.15" y2="-0.65"/></g>
<text x="291.20" y="302.15" font-size="5.0" text-anchor="end" font-weight="bold">ME10(543)</text>
<line x1="292.20" y1="300.35" x2="294.60" y2="300.35" stroke="#444" stroke-width="0.6"/>
<g transform="translate(366.50 309.95)" stroke="#262626" stroke-width="0.8" stroke-linecap="round"><line x1="0" y1="-1.3" x2="0" y2="1.3"/><line x1="-1.15" y1="-0.65" x2="1.15" y2="0.65"/><line x1="-1.15" y1="0.65" x2="1.15" y2="-0.65"/></g>
<g transform="translate(369.10 309.95)" stroke="#262626" stroke-width="0.8" stroke-linecap="round"><line x1="0" y1="-1.3" x2="0" y2="1.3"/><line x1="-1.15" y1="-0.65" x2="1.15" y2="0.65"/><line x1="-1.15" y1="0.65" x2="1.15" y2="-0.65"/></g>
<g transform="translate(371.70 309.95)" stroke="#262626" stroke-width="0.8" stroke-linecap="round"><line x1="0" y1="-1.3" x2="0" y2="1.3"/><line x1="-1.15" y1="-0.65" x2="1.15" y2="0.65"/><line x1="-1.15" y1="0.65" x2="1.15" y2="-0.65"/></g>
<text x="291.20" y="311.15" font-size="5.0" text-anchor="end" font-weight="bold">ME11(640)</text>
<line x1="292.20" y1="309.35" x2="294.60" y2="309.35" stroke="#444" stroke-width="0.6"/>
<g transform="translate(316.80 318.96)" stroke="#262626" stroke-width="0.8" stroke-linecap="round"><line x1="0" y1="-1.3" x2="0" y2="1.3"/><line x1="-1.15" y1="-0.65" x2="1.15" y2="0.65"/><line x1="-1.15" y1="0.65" x2="1.15" y2="-0.65"/></g>
<g transform="translate(319.40 318.96)" stroke="#262626" stroke-width="0.8" stroke-linecap="round"><line x1="0" y1="-1.3" x2="0" y2="1.3"/><line x1="-1.15" y1="-0.65" x2="1.15" y2="0.65"/><line x1="-1.15" y1="0.65" x2="1.15" y2="-0.65"/></g>
<g transform="translate(322.00 318.96)" stroke="#262626" stroke-width="0.8" stroke-linecap="round"><line x1="0" y1="-1.3" x2="0" y2="1.3"/><line x1="-1.15" y1="-0.65" x2="1.15" y2="0.65"/><line x1="-1.15" y1="0.65" x2="1.15" y2="-0.65"/></g>
<g transform="translate(366.50 318.96)" stroke="#262626" stroke-width="0.8" stroke-linecap="round"><line x1="0" y1="-1.3" x2="0" y2="1.3"/><line x1="-1.15" y1="-0.65" x2="1.15" y2="0.65"/><line x1="-1.15" y1="0.65" x2="1.15" y2="-0.65"/></g>
<g transform="translate(369.10 318.96)" stroke="#262626" stroke-width="0.8" stroke-linecap="round"><line x1="0" y1="-1.3" x2="0" y2="1.3"/><line x1="-1.15" y1="-0.65" x2="1.15" y2="0.65"/><line x1="-1.15" y1="0.65" x2="1.15" y2="-0.65"/></g>
<g transform="translate(371.70 318.96)" stroke="#262626" stroke-width="0.8" stroke-linecap="round"><line x1="0" y1="-1.3" x2="0" y2="1.3"/><line x1="-1.15" y1="-0.65" x2="1.15" y2="0.65"/><line x1="-1.15" y1="0.65" x2="1.15" y2="-0.65"/></g>
<g transform="translate(416.20 318.96)" stroke="#262626" stroke-width="0.8" stroke-linecap="round"><line x1="0" y1="-1.3" x2="0" y2="1.3"/><line x1="-1.15" y1="-0.65" x2="1.15" y2="0.65"/><line x1="-1.15" y1="0.65" x2="1.15" y2="-0.65"/></g>
<g transform="translate(418.80 318.96)" stroke="#262626" stroke-width="0.8" stroke-linecap="round"><line x1="0" y1="-1.3" x2="0" y2="1.3"/><line x1="-1.15" y1="-0.65" x2="1.15" y2="0.65"/><line x1="-1.15" y1="0.65" x2="1.15" y2="-0.65"/></g>
<g transform="translate(421.40 318.96)" stroke="#262626" stroke-width="0.8" stroke-linecap="round"><line x1="0" y1="-1.3" x2="0" y2="1.3"/><line x1="-1.15" y1="-0.65" x2="1.15" y2="0.65"/><line x1="-1.15" y1="0.65" x2="1.15" y2="-0.65"/></g>
<text x="291.20" y="320.16" font-size="5.0" text-anchor="end" font-weight="bold">ME12(1523)</text>
<line x1="292.20" y1="318.36" x2="294.60" y2="318.36" stroke="#444" stroke-width="0.6"/>
<g transform="translate(366.50 327.96)" stroke="#262626" stroke-width="0.8" stroke-linecap="round"><line x1="0" y1="-1.3" x2="0" y2="1.3"/><line x1="-1.15" y1="-0.65" x2="1.15" y2="0.65"/><line x1="-1.15" y1="0.65" x2="1.15" y2="-0.65"/></g>
<g transform="translate(369.10 327.96)" stroke="#262626" stroke-width="0.8" stroke-linecap="round"><line x1="0" y1="-1.3" x2="0" y2="1.3"/><line x1="-1.15" y1="-0.65" x2="1.15" y2="0.65"/><line x1="-1.15" y1="0.65" x2="1.15" y2="-0.65"/></g>
<g transform="translate(371.70 327.96)" stroke="#262626" stroke-width="0.8" stroke-linecap="round"><line x1="0" y1="-1.3" x2="0" y2="1.3"/><line x1="-1.15" y1="-0.65" x2="1.15" y2="0.65"/><line x1="-1.15" y1="0.65" x2="1.15" y2="-0.65"/></g>
<g transform="translate(416.20 327.96)" stroke="#262626" stroke-width="0.8" stroke-linecap="round"><line x1="0" y1="-1.3" x2="0" y2="1.3"/><line x1="-1.15" y1="-0.65" x2="1.15" y2="0.65"/><line x1="-1.15" y1="0.65" x2="1.15" y2="-0.65"/></g>
<g transform="translate(418.80 327.96)" stroke="#262626" stroke-width="0.8" stroke-linecap="round"><line x1="0" y1="-1.3" x2="0" y2="1.3"/><line x1="-1.15" y1="-0.65" x2="1.15" y2="0.65"/><line x1="-1.15" y1="0.65" x2="1.15" y2="-0.65"/></g>
<g transform="translate(421.40 327.96)" stroke="#262626" stroke-width="0.8" stroke-linecap="round"><line x1="0" y1="-1.3" x2="0" y2="1.3"/><line x1="-1.15" y1="-0.65" x2="1.15" y2="0.65"/><line x1="-1.15" y1="0.65" x2="1.15" y2="-0.65"/></g>
<text x="291.20" y="329.16" font-size="5.0" text-anchor="end" font-weight="bold">ME13(578)</text>
<line x1="292.20" y1="327.36" x2="294.60" y2="327.36" stroke="#444" stroke-width="0.6"/>
<g transform="translate(366.50 336.97)" stroke="#262626" stroke-width="0.8" stroke-linecap="round"><line x1="0" y1="-1.3" x2="0" y2="1.3"/><line x1="-1.15" y1="-0.65" x2="1.15" y2="0.65"/><line x1="-1.15" y1="0.65" x2="1.15" y2="-0.65"/></g>
<g transform="translate(369.10 336.97)" stroke="#262626" stroke-width="0.8" stroke-linecap="round"><line x1="0" y1="-1.3" x2="0" y2="1.3"/><line x1="-1.15" y1="-0.65" x2="1.15" y2="0.65"/><line x1="-1.15" y1="0.65" x2="1.15" y2="-0.65"/></g>
<g transform="translate(371.70 336.97)" stroke="#262626" stroke-width="0.8" stroke-linecap="round"><line x1="0" y1="-1.3" x2="0" y2="1.3"/><line x1="-1.15" y1="-0.65" x2="1.15" y2="0.65"/><line x1="-1.15" y1="0.65" x2="1.15" y2="-0.65"/></g>
<g transform="translate(416.20 336.97)" stroke="#262626" stroke-width="0.8" stroke-linecap="round"><line x1="0" y1="-1.3" x2="0" y2="1.3"/><line x1="-1.15" y1="-0.65" x2="1.15" y2="0.65"/><line x1="-1.15" y1="0.65" x2="1.15" y2="-0.65"/></g>
<g transform="translate(418.80 336.97)" stroke="#262626" stroke-width="0.8" stroke-linecap="round"><line x1="0" y1="-1.3" x2="0" y2="1.3"/><line x1="-1.15" y1="-0.65" x2="1.15" y2="0.65"/><line x1="-1.15" y1="0.65" x2="1.15" y2="-0.65"/></g>
<g transform="translate(421.40 336.97)" stroke="#262626" stroke-width="0.8" stroke-linecap="round"><line x1="0" y1="-1.3" x2="0" y2="1.3"/><line x1="-1.15" y1="-0.65" x2="1.15" y2="0.65"/><line x1="-1.15" y1="0.65" x2="1.15" y2="-0.65"/></g>
<text x="291.20" y="338.17" font-size="5.0" text-anchor="end" font-weight="bold">ME14(509)</text>
<line x1="292.20" y1="336.37" x2="294.60" y2="336.37" stroke="#444" stroke-width="0.6"/>
<text x="291.20" y="347.17" font-size="5.0" text-anchor="end" font-weight="bold">ME15(167)</text>
<line x1="292.20" y1="345.37" x2="294.60" y2="345.37" stroke="#444" stroke-width="0.6"/>
<g transform="translate(316.80 354.98)" stroke="#262626" stroke-width="0.8" stroke-linecap="round"><line x1="0" y1="-1.3" x2="0" y2="1.3"/><line x1="-1.15" y1="-0.65" x2="1.15" y2="0.65"/><line x1="-1.15" y1="0.65" x2="1.15" y2="-0.65"/></g>
<g transform="translate(319.40 354.98)" stroke="#262626" stroke-width="0.8" stroke-linecap="round"><line x1="0" y1="-1.3" x2="0" y2="1.3"/><line x1="-1.15" y1="-0.65" x2="1.15" y2="0.65"/><line x1="-1.15" y1="0.65" x2="1.15" y2="-0.65"/></g>
<g transform="translate(322.00 354.98)" stroke="#262626" stroke-width="0.8" stroke-linecap="round"><line x1="0" y1="-1.3" x2="0" y2="1.3"/><line x1="-1.15" y1="-0.65" x2="1.15" y2="0.65"/><line x1="-1.15" y1="0.65" x2="1.15" y2="-0.65"/></g>
<g transform="translate(416.20 354.98)" stroke="#262626" stroke-width="0.8" stroke-linecap="round"><line x1="0" y1="-1.3" x2="0" y2="1.3"/><line x1="-1.15" y1="-0.65" x2="1.15" y2="0.65"/><line x1="-1.15" y1="0.65" x2="1.15" y2="-0.65"/></g>
<g transform="translate(418.80 354.98)" stroke="#262626" stroke-width="0.8" stroke-linecap="round"><line x1="0" y1="-1.3" x2="0" y2="1.3"/><line x1="-1.15" y1="-0.65" x2="1.15" y2="0.65"/><line x1="-1.15" y1="0.65" x2="1.15" y2="-0.65"/></g>
<g transform="translate(421.40 354.98)" stroke="#262626" stroke-width="0.8" stroke-linecap="round"><line x1="0" y1="-1.3" x2="0" y2="1.3"/><line x1="-1.15" y1="-0.65" x2="1.15" y2="0.65"/><line x1="-1.15" y1="0.65" x2="1.15" y2="-0.65"/></g>
<text x="291.20" y="356.18" font-size="5.0" text-anchor="end" font-weight="bold">ME16(6641)</text>
<line x1="292.20" y1="354.38" x2="294.60" y2="354.38" stroke="#444" stroke-width="0.6"/>
<g transform="translate(367.80 363.98)" stroke="#262626" stroke-width="0.8" stroke-linecap="round"><line x1="0" y1="-1.3" x2="0" y2="1.3"/><line x1="-1.15" y1="-0.65" x2="1.15" y2="0.65"/><line x1="-1.15" y1="0.65" x2="1.15" y2="-0.65"/></g>
<g transform="translate(370.40 363.98)" stroke="#262626" stroke-width="0.8" stroke-linecap="round"><line x1="0" y1="-1.3" x2="0" y2="1.3"/><line x1="-1.15" y1="-0.65" x2="1.15" y2="0.65"/><line x1="-1.15" y1="0.65" x2="1.15" y2="-0.65"/></g>
<text x="291.20" y="365.18" font-size="5.0" text-anchor="end" font-weight="bold">ME17(4654)</text>
<line x1="292.20" y1="363.38" x2="294.60" y2="363.38" stroke="#444" stroke-width="0.6"/>
<text x="291.20" y="374.19" font-size="5.0" text-anchor="end" font-weight="bold">ME18(106)</text>
<line x1="292.20" y1="372.39" x2="294.60" y2="372.39" stroke="#444" stroke-width="0.6"/>
<g transform="translate(367.80 381.99)" stroke="#262626" stroke-width="0.8" stroke-linecap="round"><line x1="0" y1="-1.3" x2="0" y2="1.3"/><line x1="-1.15" y1="-0.65" x2="1.15" y2="0.65"/><line x1="-1.15" y1="0.65" x2="1.15" y2="-0.65"/></g>
<g transform="translate(370.40 381.99)" stroke="#262626" stroke-width="0.8" stroke-linecap="round"><line x1="0" y1="-1.3" x2="0" y2="1.3"/><line x1="-1.15" y1="-0.65" x2="1.15" y2="0.65"/><line x1="-1.15" y1="0.65" x2="1.15" y2="-0.65"/></g>
<g transform="translate(416.20 381.99)" stroke="#262626" stroke-width="0.8" stroke-linecap="round"><line x1="0" y1="-1.3" x2="0" y2="1.3"/><line x1="-1.15" y1="-0.65" x2="1.15" y2="0.65"/><line x1="-1.15" y1="0.65" x2="1.15" y2="-0.65"/></g>
<g transform="translate(418.80 381.99)" stroke="#262626" stroke-width="0.8" stroke-linecap="round"><line x1="0" y1="-1.3" x2="0" y2="1.3"/><line x1="-1.15" y1="-0.65" x2="1.15" y2="0.65"/><line x1="-1.15" y1="0.65" x2="1.15" y2="-0.65"/></g>
<g transform="translate(421.40 381.99)" stroke="#262626" stroke-width="0.8" stroke-linecap="round"><line x1="0" y1="-1.3" x2="0" y2="1.3"/><line x1="-1.15" y1="-0.65" x2="1.15" y2="0.65"/><line x1="-1.15" y1="0.65" x2="1.15" y2="-0.65"/></g>
<text x="291.20" y="383.19" font-size="5.0" text-anchor="end" font-weight="bold">ME19(134)</text>
<line x1="292.20" y1="381.39" x2="294.60" y2="381.39" stroke="#444" stroke-width="0.6"/>
<g transform="translate(316.80 391.00)" stroke="#262626" stroke-width="0.8" stroke-linecap="round"><line x1="0" y1="-1.3" x2="0" y2="1.3"/><line x1="-1.15" y1="-0.65" x2="1.15" y2="0.65"/><line x1="-1.15" y1="0.65" x2="1.15" y2="-0.65"/></g>
<g transform="translate(319.40 391.00)" stroke="#262626" stroke-width="0.8" stroke-linecap="round"><line x1="0" y1="-1.3" x2="0" y2="1.3"/><line x1="-1.15" y1="-0.65" x2="1.15" y2="0.65"/><line x1="-1.15" y1="0.65" x2="1.15" y2="-0.65"/></g>
<g transform="translate(322.00 391.00)" stroke="#262626" stroke-width="0.8" stroke-linecap="round"><line x1="0" y1="-1.3" x2="0" y2="1.3"/><line x1="-1.15" y1="-0.65" x2="1.15" y2="0.65"/><line x1="-1.15" y1="0.65" x2="1.15" y2="-0.65"/></g>
<text x="291.20" y="392.20" font-size="5.0" text-anchor="end" font-weight="bold">ME20(249)</text>
<line x1="292.20" y1="390.40" x2="294.60" y2="390.40" stroke="#444" stroke-width="0.6"/>
<text x="291.20" y="401.20" font-size="5.0" text-anchor="end" font-weight="bold">ME21(2)</text>
<line x1="292.20" y1="399.40" x2="294.60" y2="399.40" stroke="#444" stroke-width="0.6"/>
<rect x="294.60" y="214.80" width="149.00" height="189.11" fill="none" stroke="#333" stroke-width="0.6"/>
<text x="319.40" y="210.30" font-size="6.0" text-anchor="middle" font-weight="bold" textLength="9.1" lengthAdjust="spacingAndGlyphs">Pre</text>
<line x1="319.40" y1="212.00" x2="319.40" y2="214.80" stroke="#333" stroke-width="0.6"/>
<text x="369.10" y="210.30" font-size="6.0" text-anchor="middle" font-weight="bold" textLength="13.9" lengthAdjust="spacingAndGlyphs">Peak</text>
<line x1="369.10" y1="212.00" x2="369.10" y2="214.80" stroke="#333" stroke-width="0.6"/>
<text x="418.80" y="210.30" font-size="6.0" text-anchor="middle" font-weight="bold" textLength="11.7" lengthAdjust="spacingAndGlyphs">Late</text>
<line x1="418.80" y1="212.00" x2="418.80" y2="214.80" stroke="#333" stroke-width="0.6"/>
<rect x="294.40" y="296.15" width="149.40" height="8.51" fill="none" stroke="#111" stroke-width="1.2"/>
<line x1="443.80" y1="299.60" x2="460.84" y2="299.60" stroke="#111" stroke-width="1.9"/>
<path d="M464.20 299.60 L460.00 295.60 L460.00 303.60 Z" fill="#111"/>
<text x="504.30" y="396.00" font-size="5.8" text-anchor="middle" font-weight="bold" textLength="34.7" lengthAdjust="spacingAndGlyphs">Correlation r</text>
<defs><linearGradient id="cbE" x1="0" y1="0" x2="1" y2="0"><stop offset="0" stop-color="#3a5cb4"/><stop offset="0.2" stop-color="#5570c0"/><stop offset="0.4" stop-color="#8796d0"/><stop offset="0.5" stop-color="#fbfbfd"/><stop offset="0.6" stop-color="#f8cdcd"/><stop offset="0.8" stop-color="#f08486"/><stop offset="1" stop-color="#e83a3a"/></linearGradient></defs>
<rect x="455.00" y="399.00" width="102.50" height="6.70" fill="url(#cbE)" stroke="#333" stroke-width="0.6"/>
<line x1="460.12" y1="399.30" x2="460.12" y2="405.40" stroke="#000" stroke-width="0.3" opacity="0.08"/>
<line x1="465.25" y1="399.30" x2="465.25" y2="405.40" stroke="#000" stroke-width="0.3" opacity="0.08"/>
<line x1="470.38" y1="399.30" x2="470.38" y2="405.40" stroke="#000" stroke-width="0.3" opacity="0.08"/>
<line x1="475.50" y1="399.30" x2="475.50" y2="405.40" stroke="#000" stroke-width="0.3" opacity="0.08"/>
<line x1="480.62" y1="399.30" x2="480.62" y2="405.40" stroke="#000" stroke-width="0.3" opacity="0.08"/>
<line x1="485.75" y1="399.30" x2="485.75" y2="405.40" stroke="#000" stroke-width="0.3" opacity="0.08"/>
<line x1="490.88" y1="399.30" x2="490.88" y2="405.40" stroke="#000" stroke-width="0.3" opacity="0.08"/>
<line x1="496.00" y1="399.30" x2="496.00" y2="405.40" stroke="#000" stroke-width="0.3" opacity="0.08"/>
<line x1="501.12" y1="399.30" x2="501.12" y2="405.40" stroke="#000" stroke-width="0.3" opacity="0.08"/>
<line x1="506.25" y1="399.30" x2="506.25" y2="405.40" stroke="#000" stroke-width="0.3" opacity="0.08"/>
<line x1="511.38" y1="399.30" x2="511.38" y2="405.40" stroke="#000" stroke-width="0.3" opacity="0.08"/>
<line x1="516.50" y1="399.30" x2="516.50" y2="405.40" stroke="#000" stroke-width="0.3" opacity="0.08"/>
<line x1="521.62" y1="399.30" x2="521.62" y2="405.40" stroke="#000" stroke-width="0.3" opacity="0.08"/>
<line x1="526.75" y1="399.30" x2="526.75" y2="405.40" stroke="#000" stroke-width="0.3" opacity="0.08"/>
<line x1="531.88" y1="399.30" x2="531.88" y2="405.40" stroke="#000" stroke-width="0.3" opacity="0.08"/>
<line x1="537.00" y1="399.30" x2="537.00" y2="405.40" stroke="#000" stroke-width="0.3" opacity="0.08"/>
<line x1="542.12" y1="399.30" x2="542.12" y2="405.40" stroke="#000" stroke-width="0.3" opacity="0.08"/>
<line x1="547.25" y1="399.30" x2="547.25" y2="405.40" stroke="#000" stroke-width="0.3" opacity="0.08"/>
<line x1="552.38" y1="399.30" x2="552.38" y2="405.40" stroke="#000" stroke-width="0.3" opacity="0.08"/>
<line x1="465.25" y1="399.00" x2="465.25" y2="400.00" stroke="#444" stroke-width="0.45"/>
<line x1="465.25" y1="404.70" x2="465.25" y2="405.70" stroke="#444" stroke-width="0.45"/>
<line x1="475.50" y1="399.00" x2="475.50" y2="400.00" stroke="#444" stroke-width="0.45"/>
<line x1="475.50" y1="404.70" x2="475.50" y2="405.70" stroke="#444" stroke-width="0.45"/>
<line x1="485.75" y1="399.00" x2="485.75" y2="400.00" stroke="#444" stroke-width="0.45"/>
<line x1="485.75" y1="404.70" x2="485.75" y2="405.70" stroke="#444" stroke-width="0.45"/>
<line x1="496.00" y1="399.00" x2="496.00" y2="400.00" stroke="#444" stroke-width="0.45"/>
<line x1="496.00" y1="404.70" x2="496.00" y2="405.70" stroke="#444" stroke-width="0.45"/>
<line x1="506.25" y1="399.00" x2="506.25" y2="400.00" stroke="#444" stroke-width="0.45"/>
<line x1="506.25" y1="404.70" x2="506.25" y2="405.70" stroke="#444" stroke-width="0.45"/>
<line x1="516.50" y1="399.00" x2="516.50" y2="400.00" stroke="#444" stroke-width="0.45"/>
<line x1="516.50" y1="404.70" x2="516.50" y2="405.70" stroke="#444" stroke-width="0.45"/>
<line x1="526.75" y1="399.00" x2="526.75" y2="400.00" stroke="#444" stroke-width="0.45"/>
<line x1="526.75" y1="404.70" x2="526.75" y2="405.70" stroke="#444" stroke-width="0.45"/>
<line x1="537.00" y1="399.00" x2="537.00" y2="400.00" stroke="#444" stroke-width="0.45"/>
<line x1="537.00" y1="404.70" x2="537.00" y2="405.70" stroke="#444" stroke-width="0.45"/>
<line x1="547.25" y1="399.00" x2="547.25" y2="400.00" stroke="#444" stroke-width="0.45"/>
<line x1="547.25" y1="404.70" x2="547.25" y2="405.70" stroke="#444" stroke-width="0.45"/>
<text x="455.00" y="413.30" font-size="6.0" text-anchor="middle" font-weight="bold">-1.0</text>
<text x="475.20" y="413.30" font-size="6.0" text-anchor="middle" font-weight="bold">-0.6</text>
<text x="495.40" y="413.30" font-size="6.0" text-anchor="middle" font-weight="bold">-0.2</text>
<text x="515.60" y="413.30" font-size="6.0" text-anchor="middle" font-weight="bold">0.2</text>
<text x="536.60" y="413.30" font-size="6.0" text-anchor="middle" font-weight="bold">0.6</text>
<text x="557.00" y="413.30" font-size="6.0" text-anchor="middle" font-weight="bold">1.0</text>
<text x="528.30" y="217.70" font-size="7.5" text-anchor="start" font-weight="bold" fill="#111" textLength="135.6" lengthAdjust="spacingAndGlyphs">GO Enrichment of genes in Module10</text>
<rect x="532.30" y="224.00" width="122.20" height="151.00" fill="#ffffff"/>
<line x1="544.05" y1="224.00" x2="544.05" y2="375.00" stroke="#f2f2f2" stroke-width="0.5"/>
<line x1="581.35" y1="224.00" x2="581.35" y2="375.00" stroke="#f2f2f2" stroke-width="0.5"/>
<line x1="618.65" y1="224.00" x2="618.65" y2="375.00" stroke="#f2f2f2" stroke-width="0.5"/>
<line x1="562.70" y1="224.00" x2="562.70" y2="375.00" stroke="#e6e6e6" stroke-width="0.8"/>
<line x1="600.00" y1="224.00" x2="600.00" y2="375.00" stroke="#e6e6e6" stroke-width="0.8"/>
<line x1="637.30" y1="224.00" x2="637.30" y2="375.00" stroke="#e6e6e6" stroke-width="0.8"/>
<line x1="532.30" y1="232.70" x2="654.50" y2="232.70" stroke="#e6e6e6" stroke-width="0.8"/>
<line x1="532.30" y1="247.60" x2="654.50" y2="247.60" stroke="#e6e6e6" stroke-width="0.8"/>
<line x1="532.30" y1="262.50" x2="654.50" y2="262.50" stroke="#e6e6e6" stroke-width="0.8"/>
<line x1="532.30" y1="277.40" x2="654.50" y2="277.40" stroke="#e6e6e6" stroke-width="0.8"/>
<line x1="532.30" y1="292.30" x2="654.50" y2="292.30" stroke="#e6e6e6" stroke-width="0.8"/>
<line x1="532.30" y1="307.20" x2="654.50" y2="307.20" stroke="#e6e6e6" stroke-width="0.8"/>
<line x1="532.30" y1="322.10" x2="654.50" y2="322.10" stroke="#e6e6e6" stroke-width="0.8"/>
<line x1="532.30" y1="337.00" x2="654.50" y2="337.00" stroke="#e6e6e6" stroke-width="0.8"/>
<line x1="532.30" y1="351.90" x2="654.50" y2="351.90" stroke="#e6e6e6" stroke-width="0.8"/>
<line x1="532.30" y1="366.80" x2="654.50" y2="366.80" stroke="#e6e6e6" stroke-width="0.8"/>
<circle cx="649.50" cy="232.70" r="4.3" fill="#d5595f" stroke="#222" stroke-width="0.6"/>
<line x1="530.30" y1="232.70" x2="532.30" y2="232.70" stroke="#333" stroke-width="0.5"/>
<text x="529.90" y="234.70" font-size="5.85" text-anchor="end" fill="#2a2a2a">mRNA metabolic process</text>
<circle cx="649.50" cy="247.60" r="4.3" fill="#d5595f" stroke="#222" stroke-width="0.6"/>
<line x1="530.30" y1="247.60" x2="532.30" y2="247.60" stroke="#333" stroke-width="0.5"/>
<text x="529.90" y="249.60" font-size="5.85" text-anchor="end" fill="#2a2a2a">RNA processing</text>
<circle cx="636.80" cy="262.50" r="4.0" fill="#d2585f" stroke="#222" stroke-width="0.6"/>
<line x1="530.30" y1="262.50" x2="532.30" y2="262.50" stroke="#333" stroke-width="0.5"/>
<text x="529.90" y="264.50" font-size="5.85" text-anchor="end" fill="#2a2a2a">mRNA processing</text>
<circle cx="636.80" cy="277.40" r="4.0" fill="#4a6faa" stroke="#222" stroke-width="0.6"/>
<line x1="530.30" y1="277.40" x2="532.30" y2="277.40" stroke="#333" stroke-width="0.5"/>
<text x="529.90" y="279.40" font-size="5.85" text-anchor="end" fill="#2a2a2a">nitrogen compound transport</text>
<circle cx="624.60" cy="292.30" r="4.1" fill="#d2585f" stroke="#222" stroke-width="0.6"/>
<line x1="530.30" y1="292.30" x2="532.30" y2="292.30" stroke="#333" stroke-width="0.5"/>
<text x="529.90" y="294.30" font-size="5.85" text-anchor="end" fill="#2a2a2a">RNA splicing</text>
<circle cx="562.80" cy="307.20" r="3.5" fill="#b5636f" stroke="#222" stroke-width="0.6"/>
<line x1="530.30" y1="307.20" x2="532.30" y2="307.20" stroke="#333" stroke-width="0.5"/>
<text x="529.90" y="306.50" font-size="5.85" text-anchor="end" fill="#2a2a2a">RNA splicing, via</text>
<text x="529.90" y="312.00" font-size="5.85" text-anchor="end" fill="#2a2a2a">transesterification reactions</text>
<circle cx="562.80" cy="322.10" r="3.5" fill="#b5636f" stroke="#222" stroke-width="0.6"/>
<line x1="530.30" y1="322.10" x2="532.30" y2="322.10" stroke="#333" stroke-width="0.5"/>
<text x="529.90" y="321.40" font-size="5.85" text-anchor="end" fill="#2a2a2a">RNA splicing with bulged</text>
<text x="529.90" y="326.90" font-size="5.85" text-anchor="end" fill="#2a2a2a">adenosine as nucleophile</text>
<circle cx="562.80" cy="337.00" r="3.5" fill="#b5636f" stroke="#222" stroke-width="0.6"/>
<line x1="530.30" y1="337.00" x2="532.30" y2="337.00" stroke="#333" stroke-width="0.5"/>
<text x="529.90" y="339.00" font-size="5.85" text-anchor="end" fill="#2a2a2a">mRNA splicing, via spliceosome</text>
<circle cx="562.80" cy="351.90" r="3.6" fill="#4a6faa" stroke="#222" stroke-width="0.6"/>
<line x1="530.30" y1="351.90" x2="532.30" y2="351.90" stroke="#333" stroke-width="0.5"/>
<text x="529.90" y="353.90" font-size="5.85" text-anchor="end" fill="#2a2a2a">chromatin remodeling</text>
<circle cx="537.90" cy="366.80" r="1.8" fill="#4a6faa" stroke="#222" stroke-width="0.6"/>
<line x1="530.30" y1="366.80" x2="532.30" y2="366.80" stroke="#333" stroke-width="0.5"/>
<text x="529.90" y="366.10" font-size="5.85" text-anchor="end" fill="#2a2a2a">response to temperature</text>
<text x="529.90" y="371.60" font-size="5.85" text-anchor="end" fill="#2a2a2a">stimulus</text>
<rect x="532.30" y="224.00" width="122.20" height="151.00" fill="none" stroke="#555" stroke-width="0.7"/>
<line x1="562.70" y1="375.00" x2="562.70" y2="376.50" stroke="#333" stroke-width="0.5"/>
<text x="562.70" y="382.40" font-size="5.6" text-anchor="middle" stroke="#333" stroke-width="0.22" fill="#333">0.10</text>
<line x1="600.00" y1="375.00" x2="600.00" y2="376.50" stroke="#333" stroke-width="0.5"/>
<text x="600.00" y="382.40" font-size="5.6" text-anchor="middle" stroke="#333" stroke-width="0.22" fill="#333">0.15</text>
<line x1="637.30" y1="375.00" x2="637.30" y2="376.50" stroke="#333" stroke-width="0.5"/>
<text x="637.30" y="382.40" font-size="5.6" text-anchor="middle" stroke="#333" stroke-width="0.22" fill="#333">0.20</text>
<text x="593.80" y="389.20" font-size="6.0" text-anchor="middle" stroke="#222" stroke-width="0.22">GeneRatio</text>
<text x="659.20" y="246.40" font-size="6.0" text-anchor="start" stroke="#222" stroke-width="0.22">-log10(p)</text>
<defs><linearGradient id="cbG" x1="0" y1="0" x2="0" y2="1"><stop offset="0" stop-color="#d9575d"/><stop offset="0.5" stop-color="#a15f7d"/><stop offset="1" stop-color="#4a7bb6"/></linearGradient></defs>
<rect x="663.50" y="250.10" width="7.90" height="42.40" fill="url(#cbG)"/>
<line x1="663.50" y1="260.30" x2="664.80" y2="260.30" stroke="#fff" stroke-width="0.4"/>
<line x1="670.10" y1="260.30" x2="671.40" y2="260.30" stroke="#fff" stroke-width="0.4"/>
<text x="674.00" y="261.80" font-size="4.2" text-anchor="start" stroke="#333" stroke-width="0.22" fill="#333">6</text>
<line x1="663.50" y1="271.10" x2="664.80" y2="271.10" stroke="#fff" stroke-width="0.4"/>
<line x1="670.10" y1="271.10" x2="671.40" y2="271.10" stroke="#fff" stroke-width="0.4"/>
<text x="674.00" y="272.60" font-size="4.2" text-anchor="start" stroke="#333" stroke-width="0.22" fill="#333">4</text>
<line x1="663.50" y1="282.00" x2="664.80" y2="282.00" stroke="#fff" stroke-width="0.4"/>
<line x1="670.10" y1="282.00" x2="671.40" y2="282.00" stroke="#fff" stroke-width="0.4"/>
<text x="674.00" y="283.50" font-size="4.2" text-anchor="start" stroke="#333" stroke-width="0.22" fill="#333">2</text>
<text x="662.90" y="308.20" font-size="5.6" text-anchor="start" stroke="#222" stroke-width="0.22">Count</text>
<circle cx="668.1" cy="315.9" r="1.5" fill="#fff" stroke="#222" stroke-width="0.55"/>
<text x="675.80" y="317.40" font-size="4.2" text-anchor="start" stroke="#333" stroke-width="0.22" fill="#333">4</text>
<circle cx="668.1" cy="324.2" r="2.8" fill="#fff" stroke="#222" stroke-width="0.55"/>
<text x="675.80" y="325.70" font-size="4.2" text-anchor="start" stroke="#333" stroke-width="0.22" fill="#333">6</text>
<circle cx="668.1" cy="332.8" r="3.3" fill="#fff" stroke="#222" stroke-width="0.55"/>
<text x="675.80" y="334.30" font-size="4.2" text-anchor="start" stroke="#333" stroke-width="0.22" fill="#333">8</text>
<circle cx="668.1" cy="342.1" r="3.9" fill="#fff" stroke="#222" stroke-width="0.55"/>
<text x="675.80" y="343.60" font-size="4.2" text-anchor="start" stroke="#333" stroke-width="0.22" fill="#333">10</text>
<circle cx="668.1" cy="352.1" r="4.3" fill="#fff" stroke="#222" stroke-width="0.55"/>
<text x="675.80" y="353.60" font-size="4.2" text-anchor="start" stroke="#333" stroke-width="0.22" fill="#333">12</text>
</svg></body></html>
